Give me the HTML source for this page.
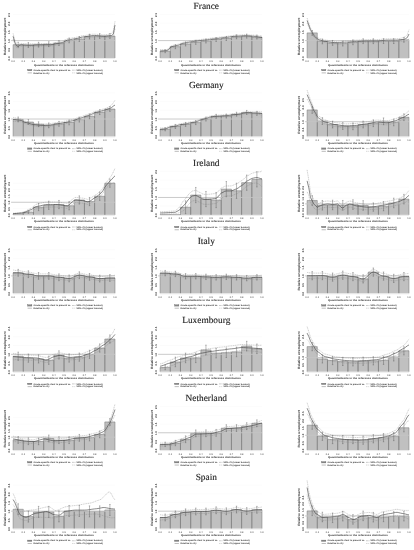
<!DOCTYPE html><html><head><meta charset="utf-8"><style>html,body{margin:0;padding:0;background:#fff;width:414px;height:550px;overflow:hidden}svg{display:block;filter:grayscale(1)}text{font-family:"Liberation Sans",sans-serif;text-rendering:geometricPrecision}.h{font-family:"Liberation Serif",serif}</style></head><body>
<svg width="414" height="550" viewBox="0 0 414 550">
<text class="h" x="206.3" y="9" font-size="9.35" text-anchor="middle" fill="#1a1a1a" stroke="#1a1a1a" stroke-width="0.12">France</text>
<line x1="13.1" y1="49.3" x2="115" y2="49.3" stroke="#f2f2f2" stroke-width="0.45" stroke-dasharray="0.6 0.4"/>
<line x1="13.1" y1="31.9" x2="115" y2="31.9" stroke="#f2f2f2" stroke-width="0.45" stroke-dasharray="0.6 0.4"/>
<line x1="13.1" y1="23.2" x2="115" y2="23.2" stroke="#f2f2f2" stroke-width="0.45" stroke-dasharray="0.6 0.4"/>
<line x1="13.1" y1="14.5" x2="115" y2="14.5" stroke="#f2f2f2" stroke-width="0.45" stroke-dasharray="0.6 0.4"/>
<rect x="13.1" y="44.7" width="10.19" height="13.3" fill="#c0c0c0"/>
<rect x="23.29" y="45" width="10.19" height="13" fill="#c0c0c0"/>
<rect x="33.48" y="44.7" width="10.19" height="13.3" fill="#c0c0c0"/>
<rect x="43.67" y="44.2" width="10.19" height="13.8" fill="#c0c0c0"/>
<rect x="53.86" y="43.1" width="10.19" height="14.9" fill="#c0c0c0"/>
<rect x="64.05" y="40.4" width="10.19" height="17.6" fill="#c0c0c0"/>
<rect x="74.24" y="39" width="10.19" height="19" fill="#c0c0c0"/>
<rect x="84.43" y="36.6" width="10.19" height="21.4" fill="#c0c0c0"/>
<rect x="94.62" y="36" width="10.19" height="22" fill="#c0c0c0"/>
<rect x="104.81" y="36" width="10.19" height="22" fill="#c0c0c0"/>
<path d="M13.1,58V44.7H23.29V58" fill="none" stroke="#666" stroke-width="0.45"/>
<path d="M23.29,58V45H33.48V58" fill="none" stroke="#666" stroke-width="0.45"/>
<path d="M33.48,58V44.7H43.67V58" fill="none" stroke="#666" stroke-width="0.45"/>
<path d="M43.67,58V44.2H53.86V58" fill="none" stroke="#666" stroke-width="0.45"/>
<path d="M53.86,58V43.1H64.05V58" fill="none" stroke="#666" stroke-width="0.45"/>
<path d="M64.05,58V40.4H74.24V58" fill="none" stroke="#666" stroke-width="0.45"/>
<path d="M74.24,58V39H84.43V58" fill="none" stroke="#666" stroke-width="0.45"/>
<path d="M84.43,58V36.6H94.62V58" fill="none" stroke="#666" stroke-width="0.45"/>
<path d="M94.62,58V36H104.81V58" fill="none" stroke="#666" stroke-width="0.45"/>
<path d="M104.81,58V36H115V58" fill="none" stroke="#666" stroke-width="0.45"/>
<line x1="13.1" y1="58.5" x2="115" y2="58.5" stroke="#ddd" stroke-width="0.6"/>
<line x1="11.1" y1="40.6" x2="115" y2="40.6" stroke="#c4c4c4" stroke-width="0.9"/>
<polyline points="13.1,33.4 14.8,40.21 16.5,43.94 18.2,44.83 19.89,43.61 21.59,43.44 23.29,43.55 24.99,43.66 26.69,43.76 28.38,43.84 30.08,43.89 31.78,43.85 33.48,43.77 35.18,43.69 36.88,43.61 38.57,43.54 40.27,43.5 41.97,43.5 43.67,43.5 45.37,43.5 47.07,43.5 48.77,43.5 50.46,43.5 52.16,43.41 53.86,42.81 55.56,42.57 57.26,42.27 58.95,41.91 60.65,41.59 62.35,41.36 64.05,40.58 65.75,39.52 67.45,38.8 69.14,38.58 70.84,38.24 72.54,37.89 74.24,37.6 75.94,37.39 77.64,37.01 79.33,36.52 81.03,36.06 82.73,35.73 84.43,35.56 86.13,35.3 87.83,34.98 89.52,34.65 91.22,34.36 92.92,34.15 94.62,34.15 96.32,34.27 98.02,34.42 99.71,34.58 101.41,34.72 103.11,34.81 104.81,34.76 106.51,34.56 108.21,34.28 109.9,33.9 111.6,33.42 113.3,31.34 115,21.2" fill="none" stroke="#888" stroke-width="0.4" stroke-dasharray="1.2 0.6"/>
<polyline points="13.1,39 14.8,44.53 16.5,47.52 18.2,47.99 19.89,46.54 21.59,46.22 23.29,46.25 24.99,46.32 26.69,46.39 28.38,46.46 30.08,46.5 31.78,46.45 33.48,46.38 35.18,46.29 36.88,46.21 38.57,46.14 40.27,46.1 41.97,46.1 43.67,46.1 45.37,46.1 47.07,46.1 48.77,46.1 50.46,46.1 52.16,46.01 53.86,45.41 55.56,45.17 57.26,44.87 58.95,44.51 60.65,44.19 62.35,43.96 64.05,43.18 65.75,42.12 67.45,41.4 69.14,41.18 70.84,40.84 72.54,40.49 74.24,40.2 75.94,39.99 77.64,39.61 79.33,39.12 81.03,38.66 82.73,38.33 84.43,38.16 86.13,37.9 87.83,37.58 89.52,37.25 91.22,36.96 92.92,36.75 94.62,36.76 96.32,36.88 98.02,37.04 99.71,37.22 101.41,37.38 103.11,37.52 104.81,37.54 106.51,37.47 108.21,37.42 109.9,37.45 111.6,37.67 113.3,36.81 115,28.8" fill="none" stroke="#888" stroke-width="0.4" stroke-dasharray="1.2 0.6"/>
<polyline points="13.1,36.2 14.8,42.37 16.5,45.73 18.2,46.41 19.89,45.07 21.59,44.83 23.29,44.9 24.99,44.99 26.69,45.08 28.38,45.15 30.08,45.2 31.78,45.15 33.48,45.08 35.18,44.99 36.88,44.91 38.57,44.84 40.27,44.8 41.97,44.8 43.67,44.8 45.37,44.8 47.07,44.8 48.77,44.8 50.46,44.8 52.16,44.71 53.86,44.11 55.56,43.87 57.26,43.57 58.95,43.21 60.65,42.89 62.35,42.66 64.05,41.88 65.75,40.82 67.45,40.1 69.14,39.88 70.84,39.54 72.54,39.19 74.24,38.9 75.94,38.69 77.64,38.31 79.33,37.82 81.03,37.36 82.73,37.03 84.43,36.86 86.13,36.6 87.83,36.28 89.52,35.95 91.22,35.66 92.92,35.45 94.62,35.45 96.32,35.58 98.02,35.73 99.71,35.9 101.41,36.05 103.11,36.16 104.81,36.15 106.51,36.02 108.21,35.85 109.9,35.68 111.6,35.54 113.3,34.07 115,25" fill="none" stroke="#3a3a3a" stroke-width="0.6" stroke-linejoin="round"/>
<path d="M18.2,42.28V47.12M17.5,42.28H18.89M17.5,47.12H18.89" fill="none" stroke="#555" stroke-width="0.4"/>
<path d="M28.38,42.58V47.42M27.68,42.58H29.08M27.68,47.42H29.08" fill="none" stroke="#555" stroke-width="0.4"/>
<path d="M38.57,42.28V47.12M37.87,42.28H39.27M37.87,47.12H39.27" fill="none" stroke="#555" stroke-width="0.4"/>
<path d="M48.77,41.78V46.62M48.06,41.78H49.47M48.06,46.62H49.47" fill="none" stroke="#555" stroke-width="0.4"/>
<path d="M58.95,40.68V45.52M58.25,40.68H59.66M58.25,45.52H59.66" fill="none" stroke="#555" stroke-width="0.4"/>
<path d="M69.14,37.98V42.82M68.44,37.98H69.84M68.44,42.82H69.84" fill="none" stroke="#555" stroke-width="0.4"/>
<path d="M79.33,36.58V41.42M78.63,36.58H80.03M78.63,41.42H80.03" fill="none" stroke="#555" stroke-width="0.4"/>
<path d="M89.52,34.18V39.02M88.82,34.18H90.22M88.82,39.02H90.22" fill="none" stroke="#555" stroke-width="0.4"/>
<path d="M99.71,33.58V38.42M99.01,33.58H100.41M99.01,38.42H100.41" fill="none" stroke="#555" stroke-width="0.4"/>
<path d="M109.9,33.58V38.42M109.2,33.58H110.6M109.2,38.42H110.6" fill="none" stroke="#555" stroke-width="0.4"/>
<text transform="translate(10.1,58.5) rotate(-90)" font-size="2.8" font-weight="bold" text-anchor="middle" fill="#333">0.0</text>
<text transform="translate(10.1,49.8) rotate(-90)" font-size="2.8" font-weight="bold" text-anchor="middle" fill="#333">0.5</text>
<text transform="translate(10.1,41.1) rotate(-90)" font-size="2.8" font-weight="bold" text-anchor="middle" fill="#333">1.0</text>
<text transform="translate(10.1,32.4) rotate(-90)" font-size="2.8" font-weight="bold" text-anchor="middle" fill="#333">1.5</text>
<text transform="translate(10.1,23.7) rotate(-90)" font-size="2.8" font-weight="bold" text-anchor="middle" fill="#333">2.0</text>
<text transform="translate(10.1,15) rotate(-90)" font-size="2.8" font-weight="bold" text-anchor="middle" fill="#333">2.5</text>
<text transform="translate(6.2,36.5) rotate(-90)" font-size="3.2" font-weight="bold" text-anchor="middle" fill="#333" textLength="37.5" lengthAdjust="spacingAndGlyphs">Relative unemployment</text>
<text x="13.1" y="62.4" font-size="2.5" text-anchor="middle" fill="#444">0.0</text>
<text x="23.29" y="62.4" font-size="2.5" text-anchor="middle" fill="#444">0.1</text>
<text x="33.48" y="62.4" font-size="2.5" text-anchor="middle" fill="#444">0.2</text>
<text x="43.67" y="62.4" font-size="2.5" text-anchor="middle" fill="#444">0.3</text>
<text x="53.86" y="62.4" font-size="2.5" text-anchor="middle" fill="#444">0.4</text>
<text x="64.05" y="62.4" font-size="2.5" text-anchor="middle" fill="#444">0.5</text>
<text x="74.24" y="62.4" font-size="2.5" text-anchor="middle" fill="#444">0.6</text>
<text x="84.43" y="62.4" font-size="2.5" text-anchor="middle" fill="#444">0.7</text>
<text x="94.62" y="62.4" font-size="2.5" text-anchor="middle" fill="#444">0.8</text>
<text x="104.81" y="62.4" font-size="2.5" text-anchor="middle" fill="#444">0.9</text>
<text x="115" y="62.4" font-size="2.5" text-anchor="middle" fill="#444">1.0</text>
<text x="33.9" y="65.55" font-size="2.5" font-weight="bold" fill="#333" textLength="60" lengthAdjust="spacingAndGlyphs">Quantile/decile in the reference distribution</text>
<rect x="27.6" y="69.5" width="4.3" height="1.3" fill="#888" stroke="#555" stroke-width="0.3"/>
<text x="33.5" y="70.8" font-size="2.2" font-weight="bold" fill="#333" textLength="37.5" lengthAdjust="spacingAndGlyphs">Grade-specific rtest in present vs.</text>
<line x1="27.6" y1="72.9" x2="31.9" y2="72.9" stroke="#555" stroke-width="0.4"/>
<text x="33.5" y="73.5" font-size="2.2" font-weight="bold" fill="#333" textLength="16" lengthAdjust="spacingAndGlyphs">Relative to city</text>
<line x1="72" y1="70.2" x2="75.5" y2="70.2" stroke="#555" stroke-width="0.4" stroke-dasharray="0.8 0.5"/>
<text x="76.5" y="70.8" font-size="2.2" font-weight="bold" fill="#333" textLength="26" lengthAdjust="spacingAndGlyphs">95% CI (lower bound)</text>
<line x1="72" y1="72.9" x2="75.5" y2="72.9" stroke="#555" stroke-width="0.4" stroke-dasharray="0.3 0.4"/>
<text x="76.5" y="73.5" font-size="2.2" font-weight="bold" fill="#333" textLength="26.5" lengthAdjust="spacingAndGlyphs">95% CI (upper bound)</text>
<line x1="160.1" y1="49.3" x2="262" y2="49.3" stroke="#f2f2f2" stroke-width="0.45" stroke-dasharray="0.6 0.4"/>
<line x1="160.1" y1="31.9" x2="262" y2="31.9" stroke="#f2f2f2" stroke-width="0.45" stroke-dasharray="0.6 0.4"/>
<line x1="160.1" y1="23.2" x2="262" y2="23.2" stroke="#f2f2f2" stroke-width="0.45" stroke-dasharray="0.6 0.4"/>
<line x1="160.1" y1="14.5" x2="262" y2="14.5" stroke="#f2f2f2" stroke-width="0.45" stroke-dasharray="0.6 0.4"/>
<rect x="160.1" y="51.2" width="10.19" height="6.8" fill="#c0c0c0"/>
<rect x="170.29" y="46.7" width="10.19" height="11.3" fill="#c0c0c0"/>
<rect x="180.48" y="44" width="10.19" height="14" fill="#c0c0c0"/>
<rect x="190.67" y="42.3" width="10.19" height="15.7" fill="#c0c0c0"/>
<rect x="200.86" y="41" width="10.19" height="17" fill="#c0c0c0"/>
<rect x="211.05" y="39.5" width="10.19" height="18.5" fill="#c0c0c0"/>
<rect x="221.24" y="38.5" width="10.19" height="19.5" fill="#c0c0c0"/>
<rect x="231.43" y="36.8" width="10.19" height="21.2" fill="#c0c0c0"/>
<rect x="241.62" y="36.1" width="10.19" height="21.9" fill="#c0c0c0"/>
<rect x="251.81" y="37" width="10.19" height="21" fill="#c0c0c0"/>
<path d="M160.1,58V51.2H170.29V58" fill="none" stroke="#666" stroke-width="0.45"/>
<path d="M170.29,58V46.7H180.48V58" fill="none" stroke="#666" stroke-width="0.45"/>
<path d="M180.48,58V44H190.67V58" fill="none" stroke="#666" stroke-width="0.45"/>
<path d="M190.67,58V42.3H200.86V58" fill="none" stroke="#666" stroke-width="0.45"/>
<path d="M200.86,58V41H211.05V58" fill="none" stroke="#666" stroke-width="0.45"/>
<path d="M211.05,58V39.5H221.24V58" fill="none" stroke="#666" stroke-width="0.45"/>
<path d="M221.24,58V38.5H231.43V58" fill="none" stroke="#666" stroke-width="0.45"/>
<path d="M231.43,58V36.8H241.62V58" fill="none" stroke="#666" stroke-width="0.45"/>
<path d="M241.62,58V36.1H251.81V58" fill="none" stroke="#666" stroke-width="0.45"/>
<path d="M251.81,58V37H262V58" fill="none" stroke="#666" stroke-width="0.45"/>
<line x1="160.1" y1="58.5" x2="262" y2="58.5" stroke="#ddd" stroke-width="0.6"/>
<line x1="158.1" y1="40.6" x2="262" y2="40.6" stroke="#c4c4c4" stroke-width="0.9"/>
<polyline points="160.1,49.6 161.8,49.76 163.5,49.76 165.19,49.69 166.89,49.62 168.59,48.57 170.29,46.48 171.99,45.51 173.69,45.2 175.38,44.78 177.08,44.42 178.78,44.09 180.48,43.33 182.18,42.51 183.88,42.14 185.57,41.89 187.27,41.55 188.97,41.18 190.67,40.82 192.37,40.54 194.07,40.37 195.76,40.2 197.46,39.97 199.16,39.7 200.86,39.44 202.56,39.23 204.26,39.09 205.95,38.94 207.65,38.71 209.35,38.44 211.05,38.18 212.75,37.96 214.45,37.8 216.14,37.66 217.84,37.44 219.54,37.18 221.24,36.91 222.94,36.68 224.64,36.52 226.33,36.38 228.03,36.17 229.73,35.92 231.43,35.65 233.13,35.41 234.83,35.24 236.52,35.17 238.22,35.09 239.92,34.99 241.62,34.89 243.32,34.79 245.02,34.72 246.71,34.73 248.41,34.84 250.11,34.97 251.81,35.08 253.51,35.15 255.21,35.29 256.9,35.52 258.6,35.74 260.3,35.84 262,35.7" fill="none" stroke="#888" stroke-width="0.4" stroke-dasharray="1.2 0.6"/>
<polyline points="160.1,52.4 161.8,52.06 163.5,51.79 165.19,51.57 166.89,51.42 168.59,50.54 170.29,48.54 171.99,47.55 173.69,47.21 175.38,46.79 177.08,46.43 178.78,46.1 180.48,45.33 182.18,44.52 183.88,44.14 185.57,43.89 187.27,43.55 188.97,43.18 190.67,42.82 192.37,42.54 194.07,42.37 195.76,42.2 197.46,41.97 199.16,41.7 200.86,41.44 202.56,41.23 204.26,41.09 205.95,40.94 207.65,40.71 209.35,40.44 211.05,40.18 212.75,39.96 214.45,39.8 216.14,39.66 217.84,39.44 219.54,39.18 221.24,38.91 222.94,38.68 224.64,38.52 226.33,38.38 228.03,38.17 229.73,37.92 231.43,37.65 233.13,37.41 234.83,37.24 236.52,37.17 238.22,37.09 239.92,36.99 241.62,36.89 243.32,36.79 245.02,36.73 246.71,36.74 248.41,36.86 250.11,37 251.81,37.14 253.51,37.25 255.21,37.46 256.9,37.82 258.6,38.27 260.3,38.76 262,39.3" fill="none" stroke="#888" stroke-width="0.4" stroke-dasharray="1.2 0.6"/>
<polyline points="160.1,51 161.8,50.91 163.5,50.77 165.19,50.63 166.89,50.52 168.59,49.55 170.29,47.51 171.99,46.53 173.69,46.21 175.38,45.78 177.08,45.43 178.78,45.1 180.48,44.33 182.18,43.52 183.88,43.14 185.57,42.89 187.27,42.55 188.97,42.18 190.67,41.82 192.37,41.54 194.07,41.37 195.76,41.2 197.46,40.97 199.16,40.7 200.86,40.44 202.56,40.23 204.26,40.09 205.95,39.94 207.65,39.71 209.35,39.44 211.05,39.18 212.75,38.96 214.45,38.8 216.14,38.66 217.84,38.44 219.54,38.18 221.24,37.91 222.94,37.68 224.64,37.52 226.33,37.38 228.03,37.17 229.73,36.92 231.43,36.65 233.13,36.41 234.83,36.24 236.52,36.17 238.22,36.09 239.92,35.99 241.62,35.89 243.32,35.79 245.02,35.72 246.71,35.74 248.41,35.85 250.11,35.98 251.81,36.11 253.51,36.2 255.21,36.38 256.9,36.67 258.6,37 260.3,37.3 262,37.5" fill="none" stroke="#3a3a3a" stroke-width="0.6" stroke-linejoin="round"/>
<path d="M165.19,49.69V52.71M164.5,49.69H165.89M164.5,52.71H165.89" fill="none" stroke="#555" stroke-width="0.4"/>
<path d="M175.38,44.7V48.7M174.69,44.7H176.08M174.69,48.7H176.08" fill="none" stroke="#555" stroke-width="0.4"/>
<path d="M185.57,42V46M184.88,42H186.27M184.88,46H186.27" fill="none" stroke="#555" stroke-width="0.4"/>
<path d="M195.76,40.3V44.3M195.06,40.3H196.46M195.06,44.3H196.46" fill="none" stroke="#555" stroke-width="0.4"/>
<path d="M205.95,39V43M205.25,39H206.65M205.25,43H206.65" fill="none" stroke="#555" stroke-width="0.4"/>
<path d="M216.14,37.5V41.5M215.44,37.5H216.84M215.44,41.5H216.84" fill="none" stroke="#555" stroke-width="0.4"/>
<path d="M226.33,36.5V40.5M225.63,36.5H227.03M225.63,40.5H227.03" fill="none" stroke="#555" stroke-width="0.4"/>
<path d="M236.52,34.8V38.8M235.82,34.8H237.22M235.82,38.8H237.22" fill="none" stroke="#555" stroke-width="0.4"/>
<path d="M246.71,34.1V38.1M246.01,34.1H247.41M246.01,38.1H247.41" fill="none" stroke="#555" stroke-width="0.4"/>
<path d="M256.9,35V39M256.2,35H257.6M256.2,39H257.6" fill="none" stroke="#555" stroke-width="0.4"/>
<text transform="translate(157.1,58.5) rotate(-90)" font-size="2.8" font-weight="bold" text-anchor="middle" fill="#333">0.0</text>
<text transform="translate(157.1,49.8) rotate(-90)" font-size="2.8" font-weight="bold" text-anchor="middle" fill="#333">0.5</text>
<text transform="translate(157.1,41.1) rotate(-90)" font-size="2.8" font-weight="bold" text-anchor="middle" fill="#333">1.0</text>
<text transform="translate(157.1,32.4) rotate(-90)" font-size="2.8" font-weight="bold" text-anchor="middle" fill="#333">1.5</text>
<text transform="translate(157.1,23.7) rotate(-90)" font-size="2.8" font-weight="bold" text-anchor="middle" fill="#333">2.0</text>
<text transform="translate(157.1,15) rotate(-90)" font-size="2.8" font-weight="bold" text-anchor="middle" fill="#333">2.5</text>
<text transform="translate(153.2,36.5) rotate(-90)" font-size="3.2" font-weight="bold" text-anchor="middle" fill="#333" textLength="37.5" lengthAdjust="spacingAndGlyphs">Relative unemployment</text>
<text x="160.1" y="62.4" font-size="2.5" text-anchor="middle" fill="#444">0.0</text>
<text x="170.29" y="62.4" font-size="2.5" text-anchor="middle" fill="#444">0.1</text>
<text x="180.48" y="62.4" font-size="2.5" text-anchor="middle" fill="#444">0.2</text>
<text x="190.67" y="62.4" font-size="2.5" text-anchor="middle" fill="#444">0.3</text>
<text x="200.86" y="62.4" font-size="2.5" text-anchor="middle" fill="#444">0.4</text>
<text x="211.05" y="62.4" font-size="2.5" text-anchor="middle" fill="#444">0.5</text>
<text x="221.24" y="62.4" font-size="2.5" text-anchor="middle" fill="#444">0.6</text>
<text x="231.43" y="62.4" font-size="2.5" text-anchor="middle" fill="#444">0.7</text>
<text x="241.62" y="62.4" font-size="2.5" text-anchor="middle" fill="#444">0.8</text>
<text x="251.81" y="62.4" font-size="2.5" text-anchor="middle" fill="#444">0.9</text>
<text x="262" y="62.4" font-size="2.5" text-anchor="middle" fill="#444">1.0</text>
<text x="180.9" y="65.55" font-size="2.5" font-weight="bold" fill="#333" textLength="60" lengthAdjust="spacingAndGlyphs">Quantile/decile in the reference distribution</text>
<rect x="174.6" y="69.5" width="4.3" height="1.3" fill="#888" stroke="#555" stroke-width="0.3"/>
<text x="180.5" y="70.8" font-size="2.2" font-weight="bold" fill="#333" textLength="37.5" lengthAdjust="spacingAndGlyphs">Grade-specific rtest in present vs.</text>
<line x1="174.6" y1="72.9" x2="178.9" y2="72.9" stroke="#555" stroke-width="0.4"/>
<text x="180.5" y="73.5" font-size="2.2" font-weight="bold" fill="#333" textLength="16" lengthAdjust="spacingAndGlyphs">Relative to city</text>
<line x1="219" y1="70.2" x2="222.5" y2="70.2" stroke="#555" stroke-width="0.4" stroke-dasharray="0.8 0.5"/>
<text x="223.5" y="70.8" font-size="2.2" font-weight="bold" fill="#333" textLength="26" lengthAdjust="spacingAndGlyphs">95% CI (lower bound)</text>
<line x1="219" y1="72.9" x2="222.5" y2="72.9" stroke="#555" stroke-width="0.4" stroke-dasharray="0.3 0.4"/>
<text x="223.5" y="73.5" font-size="2.2" font-weight="bold" fill="#333" textLength="26.5" lengthAdjust="spacingAndGlyphs">95% CI (upper bound)</text>
<line x1="307.1" y1="49.3" x2="409" y2="49.3" stroke="#f2f2f2" stroke-width="0.45" stroke-dasharray="0.6 0.4"/>
<line x1="307.1" y1="31.9" x2="409" y2="31.9" stroke="#f2f2f2" stroke-width="0.45" stroke-dasharray="0.6 0.4"/>
<line x1="307.1" y1="23.2" x2="409" y2="23.2" stroke="#f2f2f2" stroke-width="0.45" stroke-dasharray="0.6 0.4"/>
<line x1="307.1" y1="14.5" x2="409" y2="14.5" stroke="#f2f2f2" stroke-width="0.45" stroke-dasharray="0.6 0.4"/>
<rect x="307.1" y="32.9" width="10.19" height="25.1" fill="#c0c0c0"/>
<rect x="317.29" y="41.4" width="10.19" height="16.6" fill="#c0c0c0"/>
<rect x="327.48" y="42.9" width="10.19" height="15.1" fill="#c0c0c0"/>
<rect x="337.67" y="43.6" width="10.19" height="14.4" fill="#c0c0c0"/>
<rect x="347.86" y="42.3" width="10.19" height="15.7" fill="#c0c0c0"/>
<rect x="358.05" y="41.2" width="10.19" height="16.8" fill="#c0c0c0"/>
<rect x="368.24" y="41.2" width="10.19" height="16.8" fill="#c0c0c0"/>
<rect x="378.43" y="41.1" width="10.19" height="16.9" fill="#c0c0c0"/>
<rect x="388.62" y="41.1" width="10.19" height="16.9" fill="#c0c0c0"/>
<rect x="398.81" y="39.8" width="10.19" height="18.2" fill="#c0c0c0"/>
<path d="M307.1,58V32.9H317.29V58" fill="none" stroke="#666" stroke-width="0.45"/>
<path d="M317.29,58V41.4H327.48V58" fill="none" stroke="#666" stroke-width="0.45"/>
<path d="M327.48,58V42.9H337.67V58" fill="none" stroke="#666" stroke-width="0.45"/>
<path d="M337.67,58V43.6H347.86V58" fill="none" stroke="#666" stroke-width="0.45"/>
<path d="M347.86,58V42.3H358.05V58" fill="none" stroke="#666" stroke-width="0.45"/>
<path d="M358.05,58V41.2H368.24V58" fill="none" stroke="#666" stroke-width="0.45"/>
<path d="M368.24,58V41.2H378.43V58" fill="none" stroke="#666" stroke-width="0.45"/>
<path d="M378.43,58V41.1H388.62V58" fill="none" stroke="#666" stroke-width="0.45"/>
<path d="M388.62,58V41.1H398.81V58" fill="none" stroke="#666" stroke-width="0.45"/>
<path d="M398.81,58V39.8H409V58" fill="none" stroke="#666" stroke-width="0.45"/>
<line x1="307.1" y1="58.5" x2="409" y2="58.5" stroke="#ddd" stroke-width="0.6"/>
<line x1="305.1" y1="40.6" x2="409" y2="40.6" stroke="#c4c4c4" stroke-width="0.9"/>
<polyline points="307.1,18 308.8,23.17 310.5,28.03 312.2,30.89 313.89,34.18 315.59,35.68 317.29,37.54 318.99,38.39 320.69,38.87 322.39,39.46 324.08,39.94 325.78,40.16 327.48,40.35 329.18,40.6 330.88,40.87 332.58,41.12 334.27,41.32 335.97,41.38 337.67,41.31 339.37,41.22 341.07,41.12 342.77,41.02 344.46,40.94 346.16,40.88 347.86,40.78 349.56,40.64 351.26,40.47 352.96,40.31 354.65,40.18 356.35,40.1 358.05,40.04 359.75,39.95 361.45,39.85 363.15,39.75 364.84,39.66 366.54,39.6 368.24,39.6 369.94,39.6 371.64,39.6 373.34,39.6 375.03,39.6 376.73,39.6 378.43,39.53 380.13,39.4 381.83,39.24 383.53,39.08 385.22,38.93 386.92,38.82 388.62,38.8 390.32,38.79 392.02,38.79 393.72,38.78 395.41,38.76 397.11,38.74 398.81,38.62 400.51,38.31 402.21,37.91 403.91,37.47 405.6,36.37 407.3,34.54 409,29.7" fill="none" stroke="#888" stroke-width="0.4" stroke-dasharray="1.2 0.6"/>
<polyline points="307.1,23 308.8,27.15 310.5,31.42 312.2,33.94 313.89,37.04 315.59,38.43 317.29,40.22 318.99,41.04 320.69,41.49 322.39,42.07 324.08,42.55 325.78,42.77 327.48,42.95 329.18,43.2 330.88,43.47 332.58,43.72 334.27,43.92 335.97,43.98 337.67,43.91 339.37,43.82 341.07,43.72 342.77,43.62 344.46,43.54 346.16,43.48 347.86,43.38 349.56,43.24 351.26,43.07 352.96,42.91 354.65,42.78 356.35,42.7 358.05,42.64 359.75,42.55 361.45,42.45 363.15,42.35 364.84,42.26 366.54,42.2 368.24,42.2 369.94,42.2 371.64,42.2 373.34,42.2 375.03,42.2 376.73,42.2 378.43,42.13 380.13,42 381.83,41.84 383.53,41.68 385.22,41.53 386.92,41.43 388.62,41.4 390.32,41.41 392.02,41.41 393.72,41.42 395.41,41.44 397.11,41.46 398.81,41.43 400.51,41.29 402.21,41.16 403.91,41.2 405.6,40.94 407.3,40.58 409,38.3" fill="none" stroke="#888" stroke-width="0.4" stroke-dasharray="1.2 0.6"/>
<polyline points="307.1,20.5 308.8,25.16 310.5,29.73 312.2,32.42 313.89,35.61 315.59,37.05 317.29,38.88 318.99,39.72 320.69,40.18 322.39,40.76 324.08,41.25 325.78,41.46 327.48,41.65 329.18,41.9 330.88,42.17 332.58,42.42 334.27,42.62 335.97,42.68 337.67,42.61 339.37,42.52 341.07,42.42 342.77,42.32 344.46,42.24 346.16,42.18 347.86,42.08 349.56,41.94 351.26,41.77 352.96,41.61 354.65,41.48 356.35,41.4 358.05,41.34 359.75,41.25 361.45,41.15 363.15,41.05 364.84,40.96 366.54,40.9 368.24,40.9 369.94,40.9 371.64,40.9 373.34,40.9 375.03,40.9 376.73,40.9 378.43,40.83 380.13,40.7 381.83,40.54 383.53,40.38 385.22,40.23 386.92,40.12 388.62,40.1 390.32,40.1 392.02,40.1 393.72,40.1 395.41,40.1 397.11,40.1 398.81,40.02 400.51,39.8 402.21,39.54 403.91,39.34 405.6,38.65 407.3,37.56 409,34" fill="none" stroke="#3a3a3a" stroke-width="0.6" stroke-linejoin="round"/>
<path d="M312.2,30.48V35.32M311.5,30.48H312.9M311.5,35.32H312.9" fill="none" stroke="#555" stroke-width="0.4"/>
<path d="M322.39,38.98V43.82M321.69,38.98H323.09M321.69,43.82H323.09" fill="none" stroke="#555" stroke-width="0.4"/>
<path d="M332.58,40.48V45.32M331.88,40.48H333.28M331.88,45.32H333.28" fill="none" stroke="#555" stroke-width="0.4"/>
<path d="M342.77,41.18V46.02M342.07,41.18H343.47M342.07,46.02H343.47" fill="none" stroke="#555" stroke-width="0.4"/>
<path d="M352.96,39.88V44.72M352.26,39.88H353.66M352.26,44.72H353.66" fill="none" stroke="#555" stroke-width="0.4"/>
<path d="M363.15,38.78V43.62M362.45,38.78H363.85M362.45,43.62H363.85" fill="none" stroke="#555" stroke-width="0.4"/>
<path d="M373.34,38.78V43.62M372.64,38.78H374.04M372.64,43.62H374.04" fill="none" stroke="#555" stroke-width="0.4"/>
<path d="M383.53,38.68V43.52M382.83,38.68H384.23M382.83,43.52H384.23" fill="none" stroke="#555" stroke-width="0.4"/>
<path d="M393.72,38.68V43.52M393.02,38.68H394.42M393.02,43.52H394.42" fill="none" stroke="#555" stroke-width="0.4"/>
<path d="M403.91,37.38V42.22M403.21,37.38H404.61M403.21,42.22H404.61" fill="none" stroke="#555" stroke-width="0.4"/>
<text transform="translate(304.1,58.5) rotate(-90)" font-size="2.8" font-weight="bold" text-anchor="middle" fill="#333">0.0</text>
<text transform="translate(304.1,49.8) rotate(-90)" font-size="2.8" font-weight="bold" text-anchor="middle" fill="#333">0.5</text>
<text transform="translate(304.1,41.1) rotate(-90)" font-size="2.8" font-weight="bold" text-anchor="middle" fill="#333">1.0</text>
<text transform="translate(304.1,32.4) rotate(-90)" font-size="2.8" font-weight="bold" text-anchor="middle" fill="#333">1.5</text>
<text transform="translate(304.1,23.7) rotate(-90)" font-size="2.8" font-weight="bold" text-anchor="middle" fill="#333">2.0</text>
<text transform="translate(304.1,15) rotate(-90)" font-size="2.8" font-weight="bold" text-anchor="middle" fill="#333">2.5</text>
<text transform="translate(300.2,36.5) rotate(-90)" font-size="3.2" font-weight="bold" text-anchor="middle" fill="#333" textLength="37.5" lengthAdjust="spacingAndGlyphs">Relative unemployment</text>
<text x="307.1" y="62.4" font-size="2.5" text-anchor="middle" fill="#444">0.0</text>
<text x="317.29" y="62.4" font-size="2.5" text-anchor="middle" fill="#444">0.1</text>
<text x="327.48" y="62.4" font-size="2.5" text-anchor="middle" fill="#444">0.2</text>
<text x="337.67" y="62.4" font-size="2.5" text-anchor="middle" fill="#444">0.3</text>
<text x="347.86" y="62.4" font-size="2.5" text-anchor="middle" fill="#444">0.4</text>
<text x="358.05" y="62.4" font-size="2.5" text-anchor="middle" fill="#444">0.5</text>
<text x="368.24" y="62.4" font-size="2.5" text-anchor="middle" fill="#444">0.6</text>
<text x="378.43" y="62.4" font-size="2.5" text-anchor="middle" fill="#444">0.7</text>
<text x="388.62" y="62.4" font-size="2.5" text-anchor="middle" fill="#444">0.8</text>
<text x="398.81" y="62.4" font-size="2.5" text-anchor="middle" fill="#444">0.9</text>
<text x="409" y="62.4" font-size="2.5" text-anchor="middle" fill="#444">1.0</text>
<text x="327.9" y="65.55" font-size="2.5" font-weight="bold" fill="#333" textLength="60" lengthAdjust="spacingAndGlyphs">Quantile/decile in the reference distribution</text>
<rect x="321.6" y="69.5" width="4.3" height="1.3" fill="#888" stroke="#555" stroke-width="0.3"/>
<text x="327.5" y="70.8" font-size="2.2" font-weight="bold" fill="#333" textLength="37.5" lengthAdjust="spacingAndGlyphs">Grade-specific rtest in present vs.</text>
<line x1="321.6" y1="72.9" x2="325.9" y2="72.9" stroke="#555" stroke-width="0.4"/>
<text x="327.5" y="73.5" font-size="2.2" font-weight="bold" fill="#333" textLength="16" lengthAdjust="spacingAndGlyphs">Relative to city</text>
<line x1="366" y1="70.2" x2="369.5" y2="70.2" stroke="#555" stroke-width="0.4" stroke-dasharray="0.8 0.5"/>
<text x="370.5" y="70.8" font-size="2.2" font-weight="bold" fill="#333" textLength="26" lengthAdjust="spacingAndGlyphs">95% CI (lower bound)</text>
<line x1="366" y1="72.9" x2="369.5" y2="72.9" stroke="#555" stroke-width="0.4" stroke-dasharray="0.3 0.4"/>
<text x="370.5" y="73.5" font-size="2.2" font-weight="bold" fill="#333" textLength="26.5" lengthAdjust="spacingAndGlyphs">95% CI (upper bound)</text>
<text class="h" x="206.3" y="87.7" font-size="9.35" text-anchor="middle" fill="#1a1a1a" stroke="#1a1a1a" stroke-width="0.12">Germany</text>
<line x1="13.1" y1="127.73" x2="115" y2="127.73" stroke="#f2f2f2" stroke-width="0.45" stroke-dasharray="0.6 0.4"/>
<line x1="13.1" y1="110.33" x2="115" y2="110.33" stroke="#f2f2f2" stroke-width="0.45" stroke-dasharray="0.6 0.4"/>
<line x1="13.1" y1="101.63" x2="115" y2="101.63" stroke="#f2f2f2" stroke-width="0.45" stroke-dasharray="0.6 0.4"/>
<line x1="13.1" y1="92.93" x2="115" y2="92.93" stroke="#f2f2f2" stroke-width="0.45" stroke-dasharray="0.6 0.4"/>
<rect x="13.1" y="119.43" width="10.19" height="17" fill="#c0c0c0"/>
<rect x="23.29" y="122.03" width="10.19" height="14.4" fill="#c0c0c0"/>
<rect x="33.48" y="124.23" width="10.19" height="12.2" fill="#c0c0c0"/>
<rect x="43.67" y="125.33" width="10.19" height="11.1" fill="#c0c0c0"/>
<rect x="53.86" y="123.83" width="10.19" height="12.6" fill="#c0c0c0"/>
<rect x="64.05" y="122.43" width="10.19" height="14" fill="#c0c0c0"/>
<rect x="74.24" y="119.63" width="10.19" height="16.8" fill="#c0c0c0"/>
<rect x="84.43" y="116.33" width="10.19" height="20.1" fill="#c0c0c0"/>
<rect x="94.62" y="112.13" width="10.19" height="24.3" fill="#c0c0c0"/>
<rect x="104.81" y="109.03" width="10.19" height="27.4" fill="#c0c0c0"/>
<path d="M13.1,136.43V119.43H23.29V136.43" fill="none" stroke="#666" stroke-width="0.45"/>
<path d="M23.29,136.43V122.03H33.48V136.43" fill="none" stroke="#666" stroke-width="0.45"/>
<path d="M33.48,136.43V124.23H43.67V136.43" fill="none" stroke="#666" stroke-width="0.45"/>
<path d="M43.67,136.43V125.33H53.86V136.43" fill="none" stroke="#666" stroke-width="0.45"/>
<path d="M53.86,136.43V123.83H64.05V136.43" fill="none" stroke="#666" stroke-width="0.45"/>
<path d="M64.05,136.43V122.43H74.24V136.43" fill="none" stroke="#666" stroke-width="0.45"/>
<path d="M74.24,136.43V119.63H84.43V136.43" fill="none" stroke="#666" stroke-width="0.45"/>
<path d="M84.43,136.43V116.33H94.62V136.43" fill="none" stroke="#666" stroke-width="0.45"/>
<path d="M94.62,136.43V112.13H104.81V136.43" fill="none" stroke="#666" stroke-width="0.45"/>
<path d="M104.81,136.43V109.03H115V136.43" fill="none" stroke="#666" stroke-width="0.45"/>
<line x1="13.1" y1="136.93" x2="115" y2="136.93" stroke="#ddd" stroke-width="0.6"/>
<line x1="11.1" y1="119.03" x2="115" y2="119.03" stroke="#c4c4c4" stroke-width="0.9"/>
<polyline points="13.1,117.33 14.8,117.81 16.5,118.23 18.2,118.57 19.89,118.81 21.59,119.26 23.29,120.17 24.99,121 26.69,121.39 28.38,121.86 30.08,122.44 31.78,122.98 33.48,123.33 35.18,123.46 36.88,123.66 38.57,123.88 40.27,124.06 41.97,124.11 43.67,124.05 45.37,123.97 47.07,123.89 48.77,123.84 50.46,123.67 52.16,123.36 53.86,123.01 55.56,122.7 57.26,122.51 58.95,122.27 60.65,121.93 62.35,121.58 64.05,121.3 65.75,121.08 67.45,120.69 69.14,120.2 70.84,119.74 72.54,119.44 74.24,119.02 75.94,118.36 77.64,117.64 79.33,117.06 81.03,116.7 82.73,116.17 84.43,115.49 86.13,114.81 87.83,114.32 89.52,113.89 91.22,113.16 92.92,112.3 94.62,111.54 96.32,111.08 98.02,110.7 99.71,110.14 101.41,109.56 103.11,109.09 104.81,108.71 106.51,108.03 108.21,107.18 109.9,106.37 111.6,105.11 113.3,102.8 115,100.23" fill="none" stroke="#888" stroke-width="0.4" stroke-dasharray="1.2 0.6"/>
<polyline points="13.1,121.53 14.8,121.33 16.5,121.36 18.2,121.47 19.89,121.58 21.59,121.96 23.29,122.82 24.99,123.63 26.69,124.01 28.38,124.47 30.08,125.05 31.78,125.58 33.48,125.93 35.18,126.06 36.88,126.26 38.57,126.48 40.27,126.66 41.97,126.72 43.67,126.65 45.37,126.57 47.07,126.49 48.77,126.44 50.46,126.27 52.16,125.96 53.86,125.61 55.56,125.3 57.26,125.11 58.95,124.87 60.65,124.53 62.35,124.18 64.05,123.9 65.75,123.68 67.45,123.29 69.14,122.8 70.84,122.34 72.54,122.04 74.24,121.62 75.94,120.96 77.64,120.24 79.33,119.66 81.03,119.3 82.73,118.77 84.43,118.09 86.13,117.41 87.83,116.92 89.52,116.49 91.22,115.76 92.92,114.9 94.62,114.15 96.32,113.7 98.02,113.32 99.71,112.79 101.41,112.24 103.11,111.83 104.81,111.56 106.51,111.06 108.21,110.53 109.9,110.29 111.6,110.02 113.3,109.41 115,109.83" fill="none" stroke="#888" stroke-width="0.4" stroke-dasharray="1.2 0.6"/>
<polyline points="13.1,119.43 14.8,119.57 16.5,119.79 18.2,120.02 19.89,120.19 21.59,120.61 23.29,121.49 24.99,122.31 26.69,122.7 28.38,123.16 30.08,123.75 31.78,124.28 33.48,124.63 35.18,124.76 36.88,124.96 38.57,125.18 40.27,125.36 41.97,125.41 43.67,125.35 45.37,125.27 47.07,125.19 48.77,125.14 50.46,124.97 52.16,124.66 53.86,124.31 55.56,124 57.26,123.81 58.95,123.57 60.65,123.23 62.35,122.88 64.05,122.6 65.75,122.38 67.45,121.99 69.14,121.5 70.84,121.04 72.54,120.74 74.24,120.32 75.94,119.66 77.64,118.94 79.33,118.36 81.03,118 82.73,117.47 84.43,116.79 86.13,116.11 87.83,115.62 89.52,115.19 91.22,114.46 92.92,113.6 94.62,112.84 96.32,112.39 98.02,112.01 99.71,111.47 101.41,110.9 103.11,110.46 104.81,110.13 106.51,109.54 108.21,108.86 109.9,108.33 111.6,107.56 113.3,106.11 115,105.03" fill="none" stroke="#3a3a3a" stroke-width="0.6" stroke-linejoin="round"/>
<path d="M18.2,117.01V121.85M17.5,117.01H18.89M17.5,121.85H18.89" fill="none" stroke="#555" stroke-width="0.4"/>
<path d="M28.38,119.61V124.45M27.68,119.61H29.08M27.68,124.45H29.08" fill="none" stroke="#555" stroke-width="0.4"/>
<path d="M38.57,121.81V126.65M37.87,121.81H39.27M37.87,126.65H39.27" fill="none" stroke="#555" stroke-width="0.4"/>
<path d="M48.77,122.91V127.75M48.06,122.91H49.47M48.06,127.75H49.47" fill="none" stroke="#555" stroke-width="0.4"/>
<path d="M58.95,121.41V126.25M58.25,121.41H59.66M58.25,126.25H59.66" fill="none" stroke="#555" stroke-width="0.4"/>
<path d="M69.14,120.01V124.85M68.44,120.01H69.84M68.44,124.85H69.84" fill="none" stroke="#555" stroke-width="0.4"/>
<path d="M79.33,117.21V122.05M78.63,117.21H80.03M78.63,122.05H80.03" fill="none" stroke="#555" stroke-width="0.4"/>
<path d="M89.52,113.91V118.75M88.82,113.91H90.22M88.82,118.75H90.22" fill="none" stroke="#555" stroke-width="0.4"/>
<path d="M99.71,109.71V114.55M99.01,109.71H100.41M99.01,114.55H100.41" fill="none" stroke="#555" stroke-width="0.4"/>
<path d="M109.9,106.61V111.45M109.2,106.61H110.6M109.2,111.45H110.6" fill="none" stroke="#555" stroke-width="0.4"/>
<text transform="translate(10.1,136.93) rotate(-90)" font-size="2.8" font-weight="bold" text-anchor="middle" fill="#333">0.0</text>
<text transform="translate(10.1,128.23) rotate(-90)" font-size="2.8" font-weight="bold" text-anchor="middle" fill="#333">0.5</text>
<text transform="translate(10.1,119.53) rotate(-90)" font-size="2.8" font-weight="bold" text-anchor="middle" fill="#333">1.0</text>
<text transform="translate(10.1,110.83) rotate(-90)" font-size="2.8" font-weight="bold" text-anchor="middle" fill="#333">1.5</text>
<text transform="translate(10.1,102.13) rotate(-90)" font-size="2.8" font-weight="bold" text-anchor="middle" fill="#333">2.0</text>
<text transform="translate(10.1,93.43) rotate(-90)" font-size="2.8" font-weight="bold" text-anchor="middle" fill="#333">2.5</text>
<text transform="translate(6.2,114.93) rotate(-90)" font-size="3.2" font-weight="bold" text-anchor="middle" fill="#333" textLength="37.5" lengthAdjust="spacingAndGlyphs">Relative unemployment</text>
<text x="13.1" y="140.83" font-size="2.5" text-anchor="middle" fill="#444">0.0</text>
<text x="23.29" y="140.83" font-size="2.5" text-anchor="middle" fill="#444">0.1</text>
<text x="33.48" y="140.83" font-size="2.5" text-anchor="middle" fill="#444">0.2</text>
<text x="43.67" y="140.83" font-size="2.5" text-anchor="middle" fill="#444">0.3</text>
<text x="53.86" y="140.83" font-size="2.5" text-anchor="middle" fill="#444">0.4</text>
<text x="64.05" y="140.83" font-size="2.5" text-anchor="middle" fill="#444">0.5</text>
<text x="74.24" y="140.83" font-size="2.5" text-anchor="middle" fill="#444">0.6</text>
<text x="84.43" y="140.83" font-size="2.5" text-anchor="middle" fill="#444">0.7</text>
<text x="94.62" y="140.83" font-size="2.5" text-anchor="middle" fill="#444">0.8</text>
<text x="104.81" y="140.83" font-size="2.5" text-anchor="middle" fill="#444">0.9</text>
<text x="115" y="140.83" font-size="2.5" text-anchor="middle" fill="#444">1.0</text>
<text x="33.9" y="143.98" font-size="2.5" font-weight="bold" fill="#333" textLength="60" lengthAdjust="spacingAndGlyphs">Quantile/decile in the reference distribution</text>
<rect x="27.6" y="147.93" width="4.3" height="1.3" fill="#888" stroke="#555" stroke-width="0.3"/>
<text x="33.5" y="149.23" font-size="2.2" font-weight="bold" fill="#333" textLength="37.5" lengthAdjust="spacingAndGlyphs">Grade-specific rtest in present vs.</text>
<line x1="27.6" y1="151.33" x2="31.9" y2="151.33" stroke="#555" stroke-width="0.4"/>
<text x="33.5" y="151.93" font-size="2.2" font-weight="bold" fill="#333" textLength="16" lengthAdjust="spacingAndGlyphs">Relative to city</text>
<line x1="72" y1="148.63" x2="75.5" y2="148.63" stroke="#555" stroke-width="0.4" stroke-dasharray="0.8 0.5"/>
<text x="76.5" y="149.23" font-size="2.2" font-weight="bold" fill="#333" textLength="26" lengthAdjust="spacingAndGlyphs">95% CI (lower bound)</text>
<line x1="72" y1="151.33" x2="75.5" y2="151.33" stroke="#555" stroke-width="0.4" stroke-dasharray="0.3 0.4"/>
<text x="76.5" y="151.93" font-size="2.2" font-weight="bold" fill="#333" textLength="26.5" lengthAdjust="spacingAndGlyphs">95% CI (upper bound)</text>
<line x1="160.1" y1="127.73" x2="262" y2="127.73" stroke="#f2f2f2" stroke-width="0.45" stroke-dasharray="0.6 0.4"/>
<line x1="160.1" y1="110.33" x2="262" y2="110.33" stroke="#f2f2f2" stroke-width="0.45" stroke-dasharray="0.6 0.4"/>
<line x1="160.1" y1="101.63" x2="262" y2="101.63" stroke="#f2f2f2" stroke-width="0.45" stroke-dasharray="0.6 0.4"/>
<line x1="160.1" y1="92.93" x2="262" y2="92.93" stroke="#f2f2f2" stroke-width="0.45" stroke-dasharray="0.6 0.4"/>
<rect x="160.1" y="129.23" width="10.19" height="7.2" fill="#c0c0c0"/>
<rect x="170.29" y="126.43" width="10.19" height="10" fill="#c0c0c0"/>
<rect x="180.48" y="124.43" width="10.19" height="12" fill="#c0c0c0"/>
<rect x="190.67" y="122.63" width="10.19" height="13.8" fill="#c0c0c0"/>
<rect x="200.86" y="119.03" width="10.19" height="17.4" fill="#c0c0c0"/>
<rect x="211.05" y="116.33" width="10.19" height="20.1" fill="#c0c0c0"/>
<rect x="221.24" y="116.03" width="10.19" height="20.4" fill="#c0c0c0"/>
<rect x="231.43" y="114.23" width="10.19" height="22.2" fill="#c0c0c0"/>
<rect x="241.62" y="112.43" width="10.19" height="24" fill="#c0c0c0"/>
<rect x="251.81" y="113.33" width="10.19" height="23.1" fill="#c0c0c0"/>
<path d="M160.1,136.43V129.23H170.29V136.43" fill="none" stroke="#666" stroke-width="0.45"/>
<path d="M170.29,136.43V126.43H180.48V136.43" fill="none" stroke="#666" stroke-width="0.45"/>
<path d="M180.48,136.43V124.43H190.67V136.43" fill="none" stroke="#666" stroke-width="0.45"/>
<path d="M190.67,136.43V122.63H200.86V136.43" fill="none" stroke="#666" stroke-width="0.45"/>
<path d="M200.86,136.43V119.03H211.05V136.43" fill="none" stroke="#666" stroke-width="0.45"/>
<path d="M211.05,136.43V116.33H221.24V136.43" fill="none" stroke="#666" stroke-width="0.45"/>
<path d="M221.24,136.43V116.03H231.43V136.43" fill="none" stroke="#666" stroke-width="0.45"/>
<path d="M231.43,136.43V114.23H241.62V136.43" fill="none" stroke="#666" stroke-width="0.45"/>
<path d="M241.62,136.43V112.43H251.81V136.43" fill="none" stroke="#666" stroke-width="0.45"/>
<path d="M251.81,136.43V113.33H262V136.43" fill="none" stroke="#666" stroke-width="0.45"/>
<line x1="160.1" y1="136.93" x2="262" y2="136.93" stroke="#ddd" stroke-width="0.6"/>
<line x1="158.1" y1="119.03" x2="262" y2="119.03" stroke="#c4c4c4" stroke-width="0.9"/>
<polyline points="160.1,128.03 161.8,128.13 163.5,128.04 165.19,127.97 166.89,127.37 168.59,126.47 170.29,125.9 171.99,125.68 173.69,125.35 175.38,125.12 177.08,124.69 178.78,124.07 180.48,123.63 182.18,123.43 183.88,123.13 185.57,122.93 187.27,122.61 188.97,122.15 190.67,121.83 192.37,121.57 194.07,121.19 195.76,120.93 197.46,120.35 199.16,119.51 200.86,118.93 202.56,118.49 204.26,117.87 205.95,117.43 207.65,116.99 209.35,116.37 211.05,115.93 212.75,115.73 214.45,115.43 216.14,115.23 217.84,115.16 219.54,115.05 221.24,114.93 222.94,114.8 224.64,114.7 226.33,114.63 228.03,114.49 229.73,114.28 231.43,114.03 233.13,113.78 234.83,113.57 236.52,113.43 238.22,113.23 239.92,112.93 241.62,112.58 243.32,112.22 245.02,111.93 246.71,111.72 248.41,111.74 250.11,111.77 251.81,111.8 253.51,111.82 255.21,111.82 256.9,111.78 258.6,111.81 260.3,111.83 262,111.63" fill="none" stroke="#888" stroke-width="0.4" stroke-dasharray="1.2 0.6"/>
<polyline points="160.1,130.83 161.8,130.44 163.5,130.11 165.19,129.89 166.89,129.32 168.59,128.55 170.29,127.96 171.99,127.71 173.69,127.37 175.38,127.14 177.08,126.7 178.78,126.07 180.48,125.63 182.18,125.43 183.88,125.13 185.57,124.93 187.27,124.61 188.97,124.15 190.67,123.83 192.37,123.57 194.07,123.19 195.76,122.93 197.46,122.35 199.16,121.51 200.86,120.93 202.56,120.49 204.26,119.87 205.95,119.43 207.65,118.99 209.35,118.37 211.05,117.93 212.75,117.73 214.45,117.43 216.14,117.23 217.84,117.16 219.54,117.06 221.24,116.93 222.94,116.81 224.64,116.7 226.33,116.63 228.03,116.49 229.73,116.28 231.43,116.03 233.13,115.78 234.83,115.57 236.52,115.43 238.22,115.23 239.92,114.93 241.62,114.58 243.32,114.23 245.02,113.93 246.71,113.74 248.41,113.76 250.11,113.8 251.81,113.86 253.51,113.92 255.21,113.99 256.9,114.08 258.6,114.34 260.3,114.74 262,115.23" fill="none" stroke="#888" stroke-width="0.4" stroke-dasharray="1.2 0.6"/>
<polyline points="160.1,129.43 161.8,129.28 163.5,129.08 165.19,128.93 166.89,128.35 168.59,127.51 170.29,126.93 171.99,126.7 173.69,126.36 175.38,126.13 177.08,125.69 178.78,125.07 180.48,124.63 182.18,124.43 183.88,124.13 185.57,123.93 187.27,123.61 188.97,123.15 190.67,122.83 192.37,122.57 194.07,122.19 195.76,121.93 197.46,121.35 199.16,120.51 200.86,119.93 202.56,119.49 204.26,118.87 205.95,118.43 207.65,117.99 209.35,117.37 211.05,116.93 212.75,116.73 214.45,116.43 216.14,116.23 217.84,116.16 219.54,116.06 221.24,115.93 222.94,115.81 224.64,115.7 226.33,115.63 228.03,115.49 229.73,115.28 231.43,115.03 233.13,114.78 234.83,114.57 236.52,114.43 238.22,114.23 239.92,113.93 241.62,113.58 243.32,113.23 245.02,112.93 246.71,112.73 248.41,112.75 250.11,112.79 251.81,112.83 253.51,112.87 255.21,112.91 256.9,112.93 258.6,113.08 260.3,113.28 262,113.43" fill="none" stroke="#3a3a3a" stroke-width="0.6" stroke-linejoin="round"/>
<path d="M165.19,127.63V130.83M164.5,127.63H165.89M164.5,130.83H165.89" fill="none" stroke="#555" stroke-width="0.4"/>
<path d="M175.38,124.43V128.43M174.69,124.43H176.08M174.69,128.43H176.08" fill="none" stroke="#555" stroke-width="0.4"/>
<path d="M185.57,122.43V126.43M184.88,122.43H186.27M184.88,126.43H186.27" fill="none" stroke="#555" stroke-width="0.4"/>
<path d="M195.76,120.63V124.63M195.06,120.63H196.46M195.06,124.63H196.46" fill="none" stroke="#555" stroke-width="0.4"/>
<path d="M205.95,117.03V121.03M205.25,117.03H206.65M205.25,121.03H206.65" fill="none" stroke="#555" stroke-width="0.4"/>
<path d="M216.14,114.33V118.33M215.44,114.33H216.84M215.44,118.33H216.84" fill="none" stroke="#555" stroke-width="0.4"/>
<path d="M226.33,114.03V118.03M225.63,114.03H227.03M225.63,118.03H227.03" fill="none" stroke="#555" stroke-width="0.4"/>
<path d="M236.52,112.23V116.23M235.82,112.23H237.22M235.82,116.23H237.22" fill="none" stroke="#555" stroke-width="0.4"/>
<path d="M246.71,110.43V114.43M246.01,110.43H247.41M246.01,114.43H247.41" fill="none" stroke="#555" stroke-width="0.4"/>
<path d="M256.9,111.33V115.33M256.2,111.33H257.6M256.2,115.33H257.6" fill="none" stroke="#555" stroke-width="0.4"/>
<text transform="translate(157.1,136.93) rotate(-90)" font-size="2.8" font-weight="bold" text-anchor="middle" fill="#333">0.0</text>
<text transform="translate(157.1,128.23) rotate(-90)" font-size="2.8" font-weight="bold" text-anchor="middle" fill="#333">0.5</text>
<text transform="translate(157.1,119.53) rotate(-90)" font-size="2.8" font-weight="bold" text-anchor="middle" fill="#333">1.0</text>
<text transform="translate(157.1,110.83) rotate(-90)" font-size="2.8" font-weight="bold" text-anchor="middle" fill="#333">1.5</text>
<text transform="translate(157.1,102.13) rotate(-90)" font-size="2.8" font-weight="bold" text-anchor="middle" fill="#333">2.0</text>
<text transform="translate(157.1,93.43) rotate(-90)" font-size="2.8" font-weight="bold" text-anchor="middle" fill="#333">2.5</text>
<text transform="translate(153.2,114.93) rotate(-90)" font-size="3.2" font-weight="bold" text-anchor="middle" fill="#333" textLength="37.5" lengthAdjust="spacingAndGlyphs">Relative unemployment</text>
<text x="160.1" y="140.83" font-size="2.5" text-anchor="middle" fill="#444">0.0</text>
<text x="170.29" y="140.83" font-size="2.5" text-anchor="middle" fill="#444">0.1</text>
<text x="180.48" y="140.83" font-size="2.5" text-anchor="middle" fill="#444">0.2</text>
<text x="190.67" y="140.83" font-size="2.5" text-anchor="middle" fill="#444">0.3</text>
<text x="200.86" y="140.83" font-size="2.5" text-anchor="middle" fill="#444">0.4</text>
<text x="211.05" y="140.83" font-size="2.5" text-anchor="middle" fill="#444">0.5</text>
<text x="221.24" y="140.83" font-size="2.5" text-anchor="middle" fill="#444">0.6</text>
<text x="231.43" y="140.83" font-size="2.5" text-anchor="middle" fill="#444">0.7</text>
<text x="241.62" y="140.83" font-size="2.5" text-anchor="middle" fill="#444">0.8</text>
<text x="251.81" y="140.83" font-size="2.5" text-anchor="middle" fill="#444">0.9</text>
<text x="262" y="140.83" font-size="2.5" text-anchor="middle" fill="#444">1.0</text>
<text x="180.9" y="143.98" font-size="2.5" font-weight="bold" fill="#333" textLength="60" lengthAdjust="spacingAndGlyphs">Quantile/decile in the reference distribution</text>
<rect x="174.6" y="147.93" width="4.3" height="1.3" fill="#888" stroke="#555" stroke-width="0.3"/>
<text x="180.5" y="149.23" font-size="2.2" font-weight="bold" fill="#333" textLength="37.5" lengthAdjust="spacingAndGlyphs">Grade-specific rtest in present vs.</text>
<line x1="174.6" y1="151.33" x2="178.9" y2="151.33" stroke="#555" stroke-width="0.4"/>
<text x="180.5" y="151.93" font-size="2.2" font-weight="bold" fill="#333" textLength="16" lengthAdjust="spacingAndGlyphs">Relative to city</text>
<line x1="219" y1="148.63" x2="222.5" y2="148.63" stroke="#555" stroke-width="0.4" stroke-dasharray="0.8 0.5"/>
<text x="223.5" y="149.23" font-size="2.2" font-weight="bold" fill="#333" textLength="26" lengthAdjust="spacingAndGlyphs">95% CI (lower bound)</text>
<line x1="219" y1="151.33" x2="222.5" y2="151.33" stroke="#555" stroke-width="0.4" stroke-dasharray="0.3 0.4"/>
<text x="223.5" y="151.93" font-size="2.2" font-weight="bold" fill="#333" textLength="26.5" lengthAdjust="spacingAndGlyphs">95% CI (upper bound)</text>
<line x1="307.1" y1="129.06" x2="409" y2="129.06" stroke="#f2f2f2" stroke-width="0.45" stroke-dasharray="0.6 0.4"/>
<line x1="307.1" y1="114.32" x2="409" y2="114.32" stroke="#f2f2f2" stroke-width="0.45" stroke-dasharray="0.6 0.4"/>
<line x1="307.1" y1="106.95" x2="409" y2="106.95" stroke="#f2f2f2" stroke-width="0.45" stroke-dasharray="0.6 0.4"/>
<line x1="307.1" y1="99.58" x2="409" y2="99.58" stroke="#f2f2f2" stroke-width="0.45" stroke-dasharray="0.6 0.4"/>
<rect x="307.1" y="109.93" width="10.19" height="26.5" fill="#c0c0c0"/>
<rect x="317.29" y="121.03" width="10.19" height="15.4" fill="#c0c0c0"/>
<rect x="327.48" y="124.53" width="10.19" height="11.9" fill="#c0c0c0"/>
<rect x="337.67" y="126.03" width="10.19" height="10.4" fill="#c0c0c0"/>
<rect x="347.86" y="126.33" width="10.19" height="10.1" fill="#c0c0c0"/>
<rect x="358.05" y="124.53" width="10.19" height="11.9" fill="#c0c0c0"/>
<rect x="368.24" y="123.23" width="10.19" height="13.2" fill="#c0c0c0"/>
<rect x="378.43" y="121.33" width="10.19" height="15.1" fill="#c0c0c0"/>
<rect x="388.62" y="122.43" width="10.19" height="14" fill="#c0c0c0"/>
<rect x="398.81" y="117.23" width="10.19" height="19.2" fill="#c0c0c0"/>
<path d="M307.1,136.43V109.93H317.29V136.43" fill="none" stroke="#666" stroke-width="0.45"/>
<path d="M317.29,136.43V121.03H327.48V136.43" fill="none" stroke="#666" stroke-width="0.45"/>
<path d="M327.48,136.43V124.53H337.67V136.43" fill="none" stroke="#666" stroke-width="0.45"/>
<path d="M337.67,136.43V126.03H347.86V136.43" fill="none" stroke="#666" stroke-width="0.45"/>
<path d="M347.86,136.43V126.33H358.05V136.43" fill="none" stroke="#666" stroke-width="0.45"/>
<path d="M358.05,136.43V124.53H368.24V136.43" fill="none" stroke="#666" stroke-width="0.45"/>
<path d="M368.24,136.43V123.23H378.43V136.43" fill="none" stroke="#666" stroke-width="0.45"/>
<path d="M378.43,136.43V121.33H388.62V136.43" fill="none" stroke="#666" stroke-width="0.45"/>
<path d="M388.62,136.43V122.43H398.81V136.43" fill="none" stroke="#666" stroke-width="0.45"/>
<path d="M398.81,136.43V117.23H409V136.43" fill="none" stroke="#666" stroke-width="0.45"/>
<line x1="307.1" y1="136.93" x2="409" y2="136.93" stroke="#ddd" stroke-width="0.6"/>
<line x1="305.1" y1="121.69" x2="409" y2="121.69" stroke="#c4c4c4" stroke-width="0.9"/>
<polyline points="307.1,90.13 308.8,95.15 310.5,99.65 312.2,103.76 313.89,108.43 315.59,111.03 317.29,114.64 318.99,116.33 320.69,117.36 322.39,118.63 324.08,119.69 325.78,120.15 327.48,120.53 329.18,121.02 330.88,121.57 332.58,122.07 334.27,122.47 335.97,122.68 337.67,122.85 339.37,123.1 341.07,123.37 342.77,123.62 344.46,123.83 346.16,123.92 347.86,123.85 349.56,123.76 351.26,123.66 352.96,123.56 354.65,123.48 356.35,123.42 358.05,123.23 359.75,122.95 361.45,122.62 363.15,122.3 364.84,122.02 366.54,121.84 368.24,121.64 369.94,121.33 371.64,120.97 373.34,120.6 375.03,120.28 376.73,120.06 378.43,120.1 380.13,120.23 381.83,120.39 383.53,120.55 385.22,120.7 386.92,120.8 388.62,120.63 390.32,120.15 392.02,119.57 393.72,119.05 395.41,118.7 397.11,118.14 398.81,117.29 400.51,116.37 402.21,115.6 403.91,114.94 405.6,113.7 407.3,112.16 409,110.73" fill="none" stroke="#888" stroke-width="0.4" stroke-dasharray="1.2 0.6"/>
<polyline points="307.1,99.13 308.8,102.02 310.5,105.29 312.2,108.71 313.89,112.97 315.59,115.34 317.29,118.82 318.99,120.43 320.69,121.42 322.39,122.67 324.08,123.71 325.78,124.16 327.48,124.54 329.18,125.03 330.88,125.57 332.58,126.07 334.27,126.47 335.97,126.68 337.67,126.85 339.37,127.1 341.07,127.37 342.77,127.62 344.46,127.83 346.16,127.92 347.86,127.85 349.56,127.76 351.26,127.66 352.96,127.56 354.65,127.48 356.35,127.42 358.05,127.23 359.75,126.95 361.45,126.62 363.15,126.3 364.84,126.02 366.54,125.84 368.24,125.64 369.94,125.33 371.64,124.97 373.34,124.6 375.03,124.28 376.73,124.06 378.43,124.1 380.13,124.23 381.83,124.39 383.53,124.55 385.22,124.7 386.92,124.81 388.62,124.63 390.32,124.16 392.02,123.58 393.72,123.07 395.41,122.73 397.11,122.2 398.81,121.4 400.51,120.56 402.21,119.93 403.91,119.51 405.6,118.69 407.3,117.88 409,117.73" fill="none" stroke="#888" stroke-width="0.4" stroke-dasharray="1.2 0.6"/>
<polyline points="307.1,94.63 308.8,98.58 310.5,102.47 312.2,106.23 313.89,110.7 315.59,113.19 317.29,116.73 318.99,118.38 320.69,119.39 322.39,120.65 324.08,121.7 325.78,122.16 327.48,122.53 329.18,123.03 330.88,123.57 332.58,124.07 334.27,124.47 335.97,124.68 337.67,124.85 339.37,125.1 341.07,125.37 342.77,125.62 344.46,125.83 346.16,125.92 347.86,125.85 349.56,125.76 351.26,125.66 352.96,125.56 354.65,125.48 356.35,125.42 358.05,125.23 359.75,124.95 361.45,124.62 363.15,124.3 364.84,124.02 366.54,123.84 368.24,123.64 369.94,123.33 371.64,122.97 373.34,122.6 375.03,122.28 376.73,122.06 378.43,122.1 380.13,122.23 381.83,122.39 383.53,122.55 385.22,122.7 386.92,122.81 388.62,122.63 390.32,122.15 392.02,121.58 393.72,121.06 395.41,120.72 397.11,120.17 398.81,119.35 400.51,118.46 402.21,117.76 403.91,117.23 405.6,116.2 407.3,115.02 409,114.23" fill="none" stroke="#3a3a3a" stroke-width="0.6" stroke-linejoin="round"/>
<path d="M312.2,106.53V113.33M311.5,106.53H312.9M311.5,113.33H312.9" fill="none" stroke="#555" stroke-width="0.4"/>
<path d="M322.39,117.63V124.43M321.69,117.63H323.09M321.69,124.43H323.09" fill="none" stroke="#555" stroke-width="0.4"/>
<path d="M332.58,121.13V127.93M331.88,121.13H333.28M331.88,127.93H333.28" fill="none" stroke="#555" stroke-width="0.4"/>
<path d="M342.77,122.63V129.43M342.07,122.63H343.47M342.07,129.43H343.47" fill="none" stroke="#555" stroke-width="0.4"/>
<path d="M352.96,122.93V129.73M352.26,122.93H353.66M352.26,129.73H353.66" fill="none" stroke="#555" stroke-width="0.4"/>
<path d="M363.15,121.13V127.93M362.45,121.13H363.85M362.45,127.93H363.85" fill="none" stroke="#555" stroke-width="0.4"/>
<path d="M373.34,119.83V126.63M372.64,119.83H374.04M372.64,126.63H374.04" fill="none" stroke="#555" stroke-width="0.4"/>
<path d="M383.53,117.93V124.73M382.83,117.93H384.23M382.83,124.73H384.23" fill="none" stroke="#555" stroke-width="0.4"/>
<path d="M393.72,119.03V125.83M393.02,119.03H394.42M393.02,125.83H394.42" fill="none" stroke="#555" stroke-width="0.4"/>
<path d="M403.91,113.83V120.63M403.21,113.83H404.61M403.21,120.63H404.61" fill="none" stroke="#555" stroke-width="0.4"/>
<text transform="translate(304.1,136.93) rotate(-90)" font-size="2.8" font-weight="bold" text-anchor="middle" fill="#333">0.0</text>
<text transform="translate(304.1,129.56) rotate(-90)" font-size="2.8" font-weight="bold" text-anchor="middle" fill="#333">0.5</text>
<text transform="translate(304.1,122.19) rotate(-90)" font-size="2.8" font-weight="bold" text-anchor="middle" fill="#333">1.0</text>
<text transform="translate(304.1,114.82) rotate(-90)" font-size="2.8" font-weight="bold" text-anchor="middle" fill="#333">1.5</text>
<text transform="translate(304.1,107.45) rotate(-90)" font-size="2.8" font-weight="bold" text-anchor="middle" fill="#333">2.0</text>
<text transform="translate(304.1,100.08) rotate(-90)" font-size="2.8" font-weight="bold" text-anchor="middle" fill="#333">2.5</text>
<text transform="translate(300.2,114.93) rotate(-90)" font-size="3.2" font-weight="bold" text-anchor="middle" fill="#333" textLength="37.5" lengthAdjust="spacingAndGlyphs">Relative unemployment</text>
<text x="307.1" y="140.83" font-size="2.5" text-anchor="middle" fill="#444">0.0</text>
<text x="317.29" y="140.83" font-size="2.5" text-anchor="middle" fill="#444">0.1</text>
<text x="327.48" y="140.83" font-size="2.5" text-anchor="middle" fill="#444">0.2</text>
<text x="337.67" y="140.83" font-size="2.5" text-anchor="middle" fill="#444">0.3</text>
<text x="347.86" y="140.83" font-size="2.5" text-anchor="middle" fill="#444">0.4</text>
<text x="358.05" y="140.83" font-size="2.5" text-anchor="middle" fill="#444">0.5</text>
<text x="368.24" y="140.83" font-size="2.5" text-anchor="middle" fill="#444">0.6</text>
<text x="378.43" y="140.83" font-size="2.5" text-anchor="middle" fill="#444">0.7</text>
<text x="388.62" y="140.83" font-size="2.5" text-anchor="middle" fill="#444">0.8</text>
<text x="398.81" y="140.83" font-size="2.5" text-anchor="middle" fill="#444">0.9</text>
<text x="409" y="140.83" font-size="2.5" text-anchor="middle" fill="#444">1.0</text>
<text x="327.9" y="143.98" font-size="2.5" font-weight="bold" fill="#333" textLength="60" lengthAdjust="spacingAndGlyphs">Quantile/decile in the reference distribution</text>
<rect x="321.6" y="147.93" width="4.3" height="1.3" fill="#888" stroke="#555" stroke-width="0.3"/>
<text x="327.5" y="149.23" font-size="2.2" font-weight="bold" fill="#333" textLength="37.5" lengthAdjust="spacingAndGlyphs">Grade-specific rtest in present vs.</text>
<line x1="321.6" y1="151.33" x2="325.9" y2="151.33" stroke="#555" stroke-width="0.4"/>
<text x="327.5" y="151.93" font-size="2.2" font-weight="bold" fill="#333" textLength="16" lengthAdjust="spacingAndGlyphs">Relative to city</text>
<line x1="366" y1="148.63" x2="369.5" y2="148.63" stroke="#555" stroke-width="0.4" stroke-dasharray="0.8 0.5"/>
<text x="370.5" y="149.23" font-size="2.2" font-weight="bold" fill="#333" textLength="26" lengthAdjust="spacingAndGlyphs">95% CI (lower bound)</text>
<line x1="366" y1="151.33" x2="369.5" y2="151.33" stroke="#555" stroke-width="0.4" stroke-dasharray="0.3 0.4"/>
<text x="370.5" y="151.93" font-size="2.2" font-weight="bold" fill="#333" textLength="26.5" lengthAdjust="spacingAndGlyphs">95% CI (upper bound)</text>
<text class="h" x="206.3" y="165.6" font-size="9.35" text-anchor="middle" fill="#1a1a1a" stroke="#1a1a1a" stroke-width="0.12">Ireland</text>
<line x1="13.1" y1="208.56" x2="115" y2="208.56" stroke="#f2f2f2" stroke-width="0.45" stroke-dasharray="0.6 0.4"/>
<line x1="13.1" y1="195.96" x2="115" y2="195.96" stroke="#f2f2f2" stroke-width="0.45" stroke-dasharray="0.6 0.4"/>
<line x1="13.1" y1="189.66" x2="115" y2="189.66" stroke="#f2f2f2" stroke-width="0.45" stroke-dasharray="0.6 0.4"/>
<line x1="13.1" y1="183.36" x2="115" y2="183.36" stroke="#f2f2f2" stroke-width="0.45" stroke-dasharray="0.6 0.4"/>
<rect x="13.1" y="213.86" width="10.19" height="1" fill="#c0c0c0"/>
<rect x="23.29" y="212.16" width="10.19" height="2.7" fill="#c0c0c0"/>
<rect x="33.48" y="207.06" width="10.19" height="7.8" fill="#c0c0c0"/>
<rect x="43.67" y="205.26" width="10.19" height="9.6" fill="#c0c0c0"/>
<rect x="53.86" y="204.56" width="10.19" height="10.3" fill="#c0c0c0"/>
<rect x="64.05" y="205.76" width="10.19" height="9.1" fill="#c0c0c0"/>
<rect x="74.24" y="199.96" width="10.19" height="14.9" fill="#c0c0c0"/>
<rect x="84.43" y="201.56" width="10.19" height="13.3" fill="#c0c0c0"/>
<rect x="94.62" y="196.26" width="10.19" height="18.6" fill="#c0c0c0"/>
<rect x="104.81" y="183.16" width="10.19" height="31.7" fill="#c0c0c0"/>
<path d="M13.1,214.86V213.86H23.29V214.86" fill="none" stroke="#666" stroke-width="0.45"/>
<path d="M23.29,214.86V212.16H33.48V214.86" fill="none" stroke="#666" stroke-width="0.45"/>
<path d="M33.48,214.86V207.06H43.67V214.86" fill="none" stroke="#666" stroke-width="0.45"/>
<path d="M43.67,214.86V205.26H53.86V214.86" fill="none" stroke="#666" stroke-width="0.45"/>
<path d="M53.86,214.86V204.56H64.05V214.86" fill="none" stroke="#666" stroke-width="0.45"/>
<path d="M64.05,214.86V205.76H74.24V214.86" fill="none" stroke="#666" stroke-width="0.45"/>
<path d="M74.24,214.86V199.96H84.43V214.86" fill="none" stroke="#666" stroke-width="0.45"/>
<path d="M84.43,214.86V201.56H94.62V214.86" fill="none" stroke="#666" stroke-width="0.45"/>
<path d="M94.62,214.86V196.26H104.81V214.86" fill="none" stroke="#666" stroke-width="0.45"/>
<path d="M104.81,214.86V183.16H115V214.86" fill="none" stroke="#666" stroke-width="0.45"/>
<line x1="13.1" y1="215.36" x2="115" y2="215.36" stroke="#ddd" stroke-width="0.6"/>
<line x1="11.1" y1="202.26" x2="115" y2="202.26" stroke="#c4c4c4" stroke-width="0.9"/>
<polyline points="13.1,213.21 14.8,213.15 16.5,212.99 18.2,212.79 19.89,212.58 21.59,212.4 23.29,212.25 24.99,211.55 26.69,210.53 28.38,209.46 30.08,208.61 31.78,207.88 33.48,206.35 35.18,204.79 36.88,204.15 38.57,203.79 40.27,203.32 41.97,202.9 43.67,202.51 45.37,202.2 47.07,202.06 48.77,202.06 50.46,202.06 52.16,202.06 53.86,202.06 55.56,202.06 57.26,202.08 58.95,202.24 60.65,202.46 62.35,202.73 64.05,203 65.75,203.22 67.45,203.35 69.14,202.33 70.84,200.8 72.54,199.14 74.24,197.82 75.94,197.41 77.64,197.58 79.33,197.79 81.03,198 82.73,198.14 84.43,198.44 86.13,198.96 87.83,199.39 89.52,198.95 91.22,197.84 92.92,196.53 94.62,195.38 96.32,194.62 98.02,193.22 99.71,191.4 101.41,190.15 103.11,187.82 104.81,184.56 106.51,182.18 108.21,180.11 109.9,177.5 111.6,175.44 113.3,172.07 115,168.36" fill="none" stroke="#888" stroke-width="0.4" stroke-dasharray="1.2 0.6"/>
<polyline points="13.1,214.11 14.8,213.98 16.5,213.85 18.2,213.71 19.89,213.59 21.59,213.48 23.29,213.39 24.99,212.99 26.69,212.42 28.38,211.81 30.08,211.33 31.78,210.91 33.48,210.05 35.18,209.17 36.88,208.8 38.57,208.6 40.27,208.32 41.97,207.9 43.67,207.51 45.37,207.2 47.07,207.06 48.77,207.06 50.46,207.06 52.16,207.06 53.86,207.06 55.56,207.06 57.26,207.08 58.95,207.24 60.65,207.46 62.35,207.73 64.05,208 65.75,208.22 67.45,208.35 69.14,207.33 70.84,205.8 72.54,204.14 74.24,202.82 75.94,202.41 77.64,202.58 79.33,202.79 81.03,203 82.73,203.15 84.43,203.44 86.13,203.96 87.83,204.39 89.52,203.95 91.22,202.84 92.92,201.54 94.62,200.39 96.32,199.64 98.02,198.26 99.71,196.47 101.41,195.27 103.11,193.03 104.81,189.91 106.51,187.8 108.21,186.2 109.9,184.39 111.6,183.73 113.3,182.81 115,183.36" fill="none" stroke="#888" stroke-width="0.4" stroke-dasharray="1.2 0.6"/>
<polyline points="13.1,213.66 14.8,213.56 16.5,213.42 18.2,213.25 19.89,213.08 21.59,212.94 23.29,212.82 24.99,212.27 26.69,211.47 28.38,210.63 30.08,209.97 31.78,209.4 33.48,208.2 35.18,206.98 36.88,206.48 38.57,206.19 40.27,205.82 41.97,205.4 43.67,205.01 45.37,204.7 47.07,204.56 48.77,204.56 50.46,204.56 52.16,204.56 53.86,204.56 55.56,204.56 57.26,204.58 58.95,204.74 60.65,204.96 62.35,205.23 64.05,205.5 65.75,205.72 67.45,205.85 69.14,204.83 70.84,203.3 72.54,201.64 74.24,200.32 75.94,199.91 77.64,200.08 79.33,200.29 81.03,200.5 82.73,200.64 84.43,200.94 86.13,201.46 87.83,201.89 89.52,201.45 91.22,200.34 92.92,199.03 94.62,197.88 96.32,197.13 98.02,195.74 99.71,193.94 101.41,192.71 103.11,190.42 104.81,187.24 106.51,184.99 108.21,183.15 109.9,180.94 111.6,179.58 113.3,177.44 115,175.86" fill="none" stroke="#3a3a3a" stroke-width="0.6" stroke-linejoin="round"/>
<path d="M28.38,210.93V213.39M27.68,210.93H29.08M27.68,213.39H29.08" fill="none" stroke="#555" stroke-width="0.4"/>
<path d="M38.57,203.51V210.61M37.87,203.51H39.27M37.87,210.61H39.27" fill="none" stroke="#555" stroke-width="0.4"/>
<path d="M48.77,201.16V209.36M48.06,201.16H49.47M48.06,209.36H49.47" fill="none" stroke="#555" stroke-width="0.4"/>
<path d="M58.95,200.46V208.66M58.25,200.46H59.66M58.25,208.66H59.66" fill="none" stroke="#555" stroke-width="0.4"/>
<path d="M69.14,201.66V209.86M68.44,201.66H69.84M68.44,209.86H69.84" fill="none" stroke="#555" stroke-width="0.4"/>
<path d="M79.33,195.86V204.06M78.63,195.86H80.03M78.63,204.06H80.03" fill="none" stroke="#555" stroke-width="0.4"/>
<path d="M89.52,197.46V205.66M88.82,197.46H90.22M88.82,205.66H90.22" fill="none" stroke="#555" stroke-width="0.4"/>
<path d="M99.71,192.16V200.36M99.01,192.16H100.41M99.01,200.36H100.41" fill="none" stroke="#555" stroke-width="0.4"/>
<path d="M109.9,179.06V187.26M109.2,179.06H110.6M109.2,187.26H110.6" fill="none" stroke="#555" stroke-width="0.4"/>
<text transform="translate(10.1,215.36) rotate(-90)" font-size="2.8" font-weight="bold" text-anchor="middle" fill="#333">0.0</text>
<text transform="translate(10.1,209.06) rotate(-90)" font-size="2.8" font-weight="bold" text-anchor="middle" fill="#333">0.5</text>
<text transform="translate(10.1,202.76) rotate(-90)" font-size="2.8" font-weight="bold" text-anchor="middle" fill="#333">1.0</text>
<text transform="translate(10.1,196.46) rotate(-90)" font-size="2.8" font-weight="bold" text-anchor="middle" fill="#333">1.5</text>
<text transform="translate(10.1,190.16) rotate(-90)" font-size="2.8" font-weight="bold" text-anchor="middle" fill="#333">2.0</text>
<text transform="translate(10.1,183.86) rotate(-90)" font-size="2.8" font-weight="bold" text-anchor="middle" fill="#333">2.5</text>
<text transform="translate(6.2,193.36) rotate(-90)" font-size="3.2" font-weight="bold" text-anchor="middle" fill="#333" textLength="37.5" lengthAdjust="spacingAndGlyphs">Relative unemployment</text>
<text x="13.1" y="219.26" font-size="2.5" text-anchor="middle" fill="#444">0.0</text>
<text x="23.29" y="219.26" font-size="2.5" text-anchor="middle" fill="#444">0.1</text>
<text x="33.48" y="219.26" font-size="2.5" text-anchor="middle" fill="#444">0.2</text>
<text x="43.67" y="219.26" font-size="2.5" text-anchor="middle" fill="#444">0.3</text>
<text x="53.86" y="219.26" font-size="2.5" text-anchor="middle" fill="#444">0.4</text>
<text x="64.05" y="219.26" font-size="2.5" text-anchor="middle" fill="#444">0.5</text>
<text x="74.24" y="219.26" font-size="2.5" text-anchor="middle" fill="#444">0.6</text>
<text x="84.43" y="219.26" font-size="2.5" text-anchor="middle" fill="#444">0.7</text>
<text x="94.62" y="219.26" font-size="2.5" text-anchor="middle" fill="#444">0.8</text>
<text x="104.81" y="219.26" font-size="2.5" text-anchor="middle" fill="#444">0.9</text>
<text x="115" y="219.26" font-size="2.5" text-anchor="middle" fill="#444">1.0</text>
<text x="33.9" y="222.41" font-size="2.5" font-weight="bold" fill="#333" textLength="60" lengthAdjust="spacingAndGlyphs">Quantile/decile in the reference distribution</text>
<rect x="27.6" y="226.36" width="4.3" height="1.3" fill="#888" stroke="#555" stroke-width="0.3"/>
<text x="33.5" y="227.66" font-size="2.2" font-weight="bold" fill="#333" textLength="37.5" lengthAdjust="spacingAndGlyphs">Grade-specific rtest in present vs.</text>
<line x1="27.6" y1="229.76" x2="31.9" y2="229.76" stroke="#555" stroke-width="0.4"/>
<text x="33.5" y="230.36" font-size="2.2" font-weight="bold" fill="#333" textLength="16" lengthAdjust="spacingAndGlyphs">Relative to city</text>
<line x1="72" y1="227.06" x2="75.5" y2="227.06" stroke="#555" stroke-width="0.4" stroke-dasharray="0.8 0.5"/>
<text x="76.5" y="227.66" font-size="2.2" font-weight="bold" fill="#333" textLength="26" lengthAdjust="spacingAndGlyphs">95% CI (lower bound)</text>
<line x1="72" y1="229.76" x2="75.5" y2="229.76" stroke="#555" stroke-width="0.4" stroke-dasharray="0.3 0.4"/>
<text x="76.5" y="230.36" font-size="2.2" font-weight="bold" fill="#333" textLength="26.5" lengthAdjust="spacingAndGlyphs">95% CI (upper bound)</text>
<line x1="160.1" y1="206.16" x2="262" y2="206.16" stroke="#f2f2f2" stroke-width="0.45" stroke-dasharray="0.6 0.4"/>
<line x1="160.1" y1="188.76" x2="262" y2="188.76" stroke="#f2f2f2" stroke-width="0.45" stroke-dasharray="0.6 0.4"/>
<line x1="160.1" y1="180.06" x2="262" y2="180.06" stroke="#f2f2f2" stroke-width="0.45" stroke-dasharray="0.6 0.4"/>
<line x1="160.1" y1="171.36" x2="262" y2="171.36" stroke="#f2f2f2" stroke-width="0.45" stroke-dasharray="0.6 0.4"/>
<rect x="160.1" y="214.56" width="10.19" height="0.3" fill="#c0c0c0"/>
<rect x="170.29" y="214.56" width="10.19" height="0.3" fill="#c0c0c0"/>
<rect x="180.48" y="207.26" width="10.19" height="7.6" fill="#c0c0c0"/>
<rect x="190.67" y="195.06" width="10.19" height="19.8" fill="#c0c0c0"/>
<rect x="200.86" y="199.06" width="10.19" height="15.8" fill="#c0c0c0"/>
<rect x="211.05" y="200.06" width="10.19" height="14.8" fill="#c0c0c0"/>
<rect x="221.24" y="189.16" width="10.19" height="25.7" fill="#c0c0c0"/>
<rect x="231.43" y="190.76" width="10.19" height="24.1" fill="#c0c0c0"/>
<rect x="241.62" y="182.66" width="10.19" height="32.2" fill="#c0c0c0"/>
<rect x="251.81" y="179.36" width="10.19" height="35.5" fill="#c0c0c0"/>
<path d="M160.1,214.86V214.56H170.29V214.86" fill="none" stroke="#666" stroke-width="0.45"/>
<path d="M170.29,214.86V214.56H180.48V214.86" fill="none" stroke="#666" stroke-width="0.45"/>
<path d="M180.48,214.86V207.26H190.67V214.86" fill="none" stroke="#666" stroke-width="0.45"/>
<path d="M190.67,214.86V195.06H200.86V214.86" fill="none" stroke="#666" stroke-width="0.45"/>
<path d="M200.86,214.86V199.06H211.05V214.86" fill="none" stroke="#666" stroke-width="0.45"/>
<path d="M211.05,214.86V200.06H221.24V214.86" fill="none" stroke="#666" stroke-width="0.45"/>
<path d="M221.24,214.86V189.16H231.43V214.86" fill="none" stroke="#666" stroke-width="0.45"/>
<path d="M231.43,214.86V190.76H241.62V214.86" fill="none" stroke="#666" stroke-width="0.45"/>
<path d="M241.62,214.86V182.66H251.81V214.86" fill="none" stroke="#666" stroke-width="0.45"/>
<path d="M251.81,214.86V179.36H262V214.86" fill="none" stroke="#666" stroke-width="0.45"/>
<line x1="160.1" y1="215.36" x2="262" y2="215.36" stroke="#ddd" stroke-width="0.6"/>
<line x1="158.1" y1="197.46" x2="262" y2="197.46" stroke="#c4c4c4" stroke-width="0.9"/>
<polyline points="160.1,211.8 161.8,211.77 163.5,211.71 165.19,211.6 166.89,211.48 168.59,211.35 170.29,211.22 171.99,211.11 173.69,211.02 175.38,210.82 177.08,209.34 178.78,207.94 180.48,205.87 182.18,202.58 183.88,200.31 185.57,198.7 187.27,196.07 188.97,193.93 190.67,192.36 192.37,191.02 194.07,190.68 195.76,190.37 197.46,191.14 199.16,192.16 200.86,192.83 202.56,193.88 204.26,194.36 205.95,194.36 207.65,194.36 209.35,194.25 211.05,194.05 212.75,193.81 214.45,193.6 216.14,193.46 217.84,191.98 219.54,189.81 221.24,188.14 222.94,187.36 224.64,186.34 226.33,185.96 228.03,185.96 229.73,185.96 231.43,185.87 233.13,185.24 234.83,184.46 236.52,183.93 238.22,182.97 239.92,181.63 241.62,180.63 243.32,179.49 245.02,177.65 246.71,176.11 248.41,175.37 250.11,174.33 251.81,173.33 253.51,172.86 255.21,172.37 256.9,171.92 258.6,171.92 260.3,171.75 262,170.86" fill="none" stroke="#888" stroke-width="0.4" stroke-dasharray="1.2 0.6"/>
<polyline points="160.1,214.12 161.8,214.06 163.5,214.01 165.19,213.96 166.89,213.91 168.59,213.87 170.29,213.83 171.99,213.79 173.69,213.77 175.38,213.71 177.08,213.29 178.78,212.88 180.48,212.29 182.18,211.35 183.88,210.31 185.57,208.7 187.27,206.07 188.97,203.93 190.67,202.36 192.37,201.02 194.07,200.68 195.76,200.37 197.46,201.14 199.16,202.16 200.86,202.83 202.56,203.88 204.26,204.36 205.95,204.36 207.65,204.36 209.35,204.25 211.05,204.05 212.75,203.81 214.45,203.6 216.14,203.46 217.84,201.98 219.54,199.81 221.24,198.14 222.94,197.36 224.64,196.34 226.33,195.96 228.03,195.96 229.73,195.96 231.43,195.87 233.13,195.24 234.83,194.46 236.52,193.93 238.22,192.97 239.92,191.63 241.62,190.63 243.32,189.5 245.02,187.68 246.71,186.15 248.41,185.44 250.11,184.45 251.81,183.55 253.51,183.23 255.21,183.02 256.9,183.06 258.6,183.9 260.3,185.19 262,186.86" fill="none" stroke="#888" stroke-width="0.4" stroke-dasharray="1.2 0.6"/>
<polyline points="160.1,212.96 161.8,212.92 163.5,212.86 165.19,212.78 166.89,212.7 168.59,212.61 170.29,212.53 171.99,212.45 173.69,212.39 175.38,212.27 177.08,211.31 178.78,210.41 180.48,209.08 182.18,206.96 183.88,205.31 185.57,203.7 187.27,201.07 188.97,198.93 190.67,197.36 192.37,196.02 194.07,195.68 195.76,195.37 197.46,196.14 199.16,197.16 200.86,197.83 202.56,198.88 204.26,199.36 205.95,199.36 207.65,199.36 209.35,199.25 211.05,199.05 212.75,198.81 214.45,198.6 216.14,198.46 217.84,196.98 219.54,194.81 221.24,193.14 222.94,192.36 224.64,191.34 226.33,190.96 228.03,190.96 229.73,190.96 231.43,190.87 233.13,190.24 234.83,189.46 236.52,188.93 238.22,187.97 239.92,186.63 241.62,185.63 243.32,184.49 245.02,182.66 246.71,181.13 248.41,180.41 250.11,179.39 251.81,178.44 253.51,178.05 255.21,177.69 256.9,177.49 258.6,177.91 260.3,178.47 262,178.86" fill="none" stroke="#3a3a3a" stroke-width="0.6" stroke-linejoin="round"/>
<path d="M185.57,200.84V213.68M184.88,200.84H186.27M184.88,213.68H186.27" fill="none" stroke="#555" stroke-width="0.4"/>
<path d="M195.76,187.46V202.66M195.06,187.46H196.46M195.06,202.66H196.46" fill="none" stroke="#555" stroke-width="0.4"/>
<path d="M205.95,191.46V206.66M205.25,191.46H206.65M205.25,206.66H206.65" fill="none" stroke="#555" stroke-width="0.4"/>
<path d="M216.14,192.46V207.66M215.44,192.46H216.84M215.44,207.66H216.84" fill="none" stroke="#555" stroke-width="0.4"/>
<path d="M226.33,181.56V196.76M225.63,181.56H227.03M225.63,196.76H227.03" fill="none" stroke="#555" stroke-width="0.4"/>
<path d="M236.52,183.16V198.36M235.82,183.16H237.22M235.82,198.36H237.22" fill="none" stroke="#555" stroke-width="0.4"/>
<path d="M246.71,175.06V190.26M246.01,175.06H247.41M246.01,190.26H247.41" fill="none" stroke="#555" stroke-width="0.4"/>
<path d="M256.9,171.76V186.96M256.2,171.76H257.6M256.2,186.96H257.6" fill="none" stroke="#555" stroke-width="0.4"/>
<text transform="translate(157.1,215.36) rotate(-90)" font-size="2.8" font-weight="bold" text-anchor="middle" fill="#333">0.0</text>
<text transform="translate(157.1,206.66) rotate(-90)" font-size="2.8" font-weight="bold" text-anchor="middle" fill="#333">0.5</text>
<text transform="translate(157.1,197.96) rotate(-90)" font-size="2.8" font-weight="bold" text-anchor="middle" fill="#333">1.0</text>
<text transform="translate(157.1,189.26) rotate(-90)" font-size="2.8" font-weight="bold" text-anchor="middle" fill="#333">1.5</text>
<text transform="translate(157.1,180.56) rotate(-90)" font-size="2.8" font-weight="bold" text-anchor="middle" fill="#333">2.0</text>
<text transform="translate(157.1,171.86) rotate(-90)" font-size="2.8" font-weight="bold" text-anchor="middle" fill="#333">2.5</text>
<text transform="translate(153.2,193.36) rotate(-90)" font-size="3.2" font-weight="bold" text-anchor="middle" fill="#333" textLength="37.5" lengthAdjust="spacingAndGlyphs">Relative unemployment</text>
<text x="160.1" y="219.26" font-size="2.5" text-anchor="middle" fill="#444">0.0</text>
<text x="170.29" y="219.26" font-size="2.5" text-anchor="middle" fill="#444">0.1</text>
<text x="180.48" y="219.26" font-size="2.5" text-anchor="middle" fill="#444">0.2</text>
<text x="190.67" y="219.26" font-size="2.5" text-anchor="middle" fill="#444">0.3</text>
<text x="200.86" y="219.26" font-size="2.5" text-anchor="middle" fill="#444">0.4</text>
<text x="211.05" y="219.26" font-size="2.5" text-anchor="middle" fill="#444">0.5</text>
<text x="221.24" y="219.26" font-size="2.5" text-anchor="middle" fill="#444">0.6</text>
<text x="231.43" y="219.26" font-size="2.5" text-anchor="middle" fill="#444">0.7</text>
<text x="241.62" y="219.26" font-size="2.5" text-anchor="middle" fill="#444">0.8</text>
<text x="251.81" y="219.26" font-size="2.5" text-anchor="middle" fill="#444">0.9</text>
<text x="262" y="219.26" font-size="2.5" text-anchor="middle" fill="#444">1.0</text>
<text x="180.9" y="222.41" font-size="2.5" font-weight="bold" fill="#333" textLength="60" lengthAdjust="spacingAndGlyphs">Quantile/decile in the reference distribution</text>
<rect x="174.6" y="226.36" width="4.3" height="1.3" fill="#888" stroke="#555" stroke-width="0.3"/>
<text x="180.5" y="227.66" font-size="2.2" font-weight="bold" fill="#333" textLength="37.5" lengthAdjust="spacingAndGlyphs">Grade-specific rtest in present vs.</text>
<line x1="174.6" y1="229.76" x2="178.9" y2="229.76" stroke="#555" stroke-width="0.4"/>
<text x="180.5" y="230.36" font-size="2.2" font-weight="bold" fill="#333" textLength="16" lengthAdjust="spacingAndGlyphs">Relative to city</text>
<line x1="219" y1="227.06" x2="222.5" y2="227.06" stroke="#555" stroke-width="0.4" stroke-dasharray="0.8 0.5"/>
<text x="223.5" y="227.66" font-size="2.2" font-weight="bold" fill="#333" textLength="26" lengthAdjust="spacingAndGlyphs">95% CI (lower bound)</text>
<line x1="219" y1="229.76" x2="222.5" y2="229.76" stroke="#555" stroke-width="0.4" stroke-dasharray="0.3 0.4"/>
<text x="223.5" y="230.36" font-size="2.2" font-weight="bold" fill="#333" textLength="26.5" lengthAdjust="spacingAndGlyphs">95% CI (upper bound)</text>
<line x1="307.1" y1="209.36" x2="409" y2="209.36" stroke="#f2f2f2" stroke-width="0.45" stroke-dasharray="0.6 0.4"/>
<line x1="307.1" y1="198.36" x2="409" y2="198.36" stroke="#f2f2f2" stroke-width="0.45" stroke-dasharray="0.6 0.4"/>
<line x1="307.1" y1="192.86" x2="409" y2="192.86" stroke="#f2f2f2" stroke-width="0.45" stroke-dasharray="0.6 0.4"/>
<line x1="307.1" y1="187.36" x2="409" y2="187.36" stroke="#f2f2f2" stroke-width="0.45" stroke-dasharray="0.6 0.4"/>
<rect x="307.1" y="200.46" width="10.19" height="14.4" fill="#c0c0c0"/>
<rect x="317.29" y="205.26" width="10.19" height="9.6" fill="#c0c0c0"/>
<rect x="327.48" y="204.96" width="10.19" height="9.9" fill="#c0c0c0"/>
<rect x="337.67" y="205.26" width="10.19" height="9.6" fill="#c0c0c0"/>
<rect x="347.86" y="204.56" width="10.19" height="10.3" fill="#c0c0c0"/>
<rect x="358.05" y="205.46" width="10.19" height="9.4" fill="#c0c0c0"/>
<rect x="368.24" y="207.06" width="10.19" height="7.8" fill="#c0c0c0"/>
<rect x="378.43" y="206.16" width="10.19" height="8.7" fill="#c0c0c0"/>
<rect x="388.62" y="202.96" width="10.19" height="11.9" fill="#c0c0c0"/>
<rect x="398.81" y="199.16" width="10.19" height="15.7" fill="#c0c0c0"/>
<path d="M307.1,214.86V200.46H317.29V214.86" fill="none" stroke="#666" stroke-width="0.45"/>
<path d="M317.29,214.86V205.26H327.48V214.86" fill="none" stroke="#666" stroke-width="0.45"/>
<path d="M327.48,214.86V204.96H337.67V214.86" fill="none" stroke="#666" stroke-width="0.45"/>
<path d="M337.67,214.86V205.26H347.86V214.86" fill="none" stroke="#666" stroke-width="0.45"/>
<path d="M347.86,214.86V204.56H358.05V214.86" fill="none" stroke="#666" stroke-width="0.45"/>
<path d="M358.05,214.86V205.46H368.24V214.86" fill="none" stroke="#666" stroke-width="0.45"/>
<path d="M368.24,214.86V207.06H378.43V214.86" fill="none" stroke="#666" stroke-width="0.45"/>
<path d="M378.43,214.86V206.16H388.62V214.86" fill="none" stroke="#666" stroke-width="0.45"/>
<path d="M388.62,214.86V202.96H398.81V214.86" fill="none" stroke="#666" stroke-width="0.45"/>
<path d="M398.81,214.86V199.16H409V214.86" fill="none" stroke="#666" stroke-width="0.45"/>
<line x1="307.1" y1="215.36" x2="409" y2="215.36" stroke="#ddd" stroke-width="0.6"/>
<line x1="305.1" y1="203.86" x2="409" y2="203.86" stroke="#c4c4c4" stroke-width="0.9"/>
<polyline points="307.1,169.86 308.8,180.16 310.5,192.05 312.2,196.14 313.89,200.18 315.59,202.25 317.29,204.49 318.99,203.31 320.69,202.5 322.39,201.75 324.08,201.49 325.78,201.2 327.48,200.97 329.18,201.11 330.88,201.39 332.58,201.62 334.27,201.52 335.97,201.21 337.67,200.97 339.37,202.55 341.07,204.81 342.77,205.66 344.46,204.07 346.16,202.22 347.86,201.65 349.56,201.05 351.26,201.24 352.96,201.85 354.65,202.48 356.35,202.87 358.05,203.08 359.75,203.38 361.45,203.73 363.15,204.09 364.84,204.39 366.54,204.59 368.24,204.49 369.94,204.32 371.64,204.14 373.34,203.98 375.03,203.84 376.73,203.49 378.43,203.03 380.13,202.65 381.83,202.4 383.53,202.2 385.22,201.85 386.92,201.44 388.62,201.07 390.32,200.83 392.02,200.47 393.72,199.95 395.41,199.39 397.11,198.94 398.81,198.55 400.51,197.8 402.21,196.89 403.91,196.1 405.6,194.87 407.3,192.56 409,190.36" fill="none" stroke="#888" stroke-width="0.4" stroke-dasharray="1.2 0.6"/>
<polyline points="307.1,191.86 308.8,195.34 310.5,203.32 312.2,205.16 313.89,207.92 315.59,209.25 317.29,210.04 318.99,209.32 320.69,208.69 322.39,207.85 324.08,207.55 325.78,207.24 327.48,206.99 329.18,207.12 330.88,207.39 332.58,207.62 334.27,207.52 335.97,207.21 337.67,206.97 339.37,208.55 341.07,209.84 342.77,210.26 344.46,209.47 346.16,208.22 347.86,207.65 349.56,207.05 351.26,207.24 352.96,207.85 354.65,208.48 356.35,208.87 358.05,208.97 359.75,209.12 361.45,209.3 363.15,209.47 364.84,209.62 366.54,209.72 368.24,209.67 369.94,209.59 371.64,209.5 373.34,209.42 375.03,209.35 376.73,209.17 378.43,208.95 380.13,208.65 381.83,208.4 383.53,208.2 385.22,207.85 386.92,207.44 388.62,207.08 390.32,206.84 392.02,206.49 393.72,205.97 395.41,205.44 397.11,205.03 398.81,204.7 400.51,204.05 402.21,203.32 403.91,202.85 405.6,202.19 407.3,200.85 409,200.36" fill="none" stroke="#888" stroke-width="0.4" stroke-dasharray="1.2 0.6"/>
<polyline points="307.1,180.86 308.8,187.75 310.5,197.69 312.2,200.65 313.89,204.05 315.59,205.75 317.29,207.26 318.99,206.32 320.69,205.6 322.39,204.8 324.08,204.52 325.78,204.22 327.48,203.98 329.18,204.12 330.88,204.39 332.58,204.62 334.27,204.52 335.97,204.21 337.67,203.97 339.37,205.55 341.07,207.32 342.77,207.96 344.46,206.77 346.16,205.22 347.86,204.65 349.56,204.05 351.26,204.24 352.96,204.85 354.65,205.48 356.35,205.87 358.05,206.02 359.75,206.25 361.45,206.52 363.15,206.78 364.84,207 366.54,207.16 368.24,207.08 369.94,206.95 371.64,206.82 373.34,206.7 375.03,206.59 376.73,206.33 378.43,205.99 380.13,205.65 381.83,205.4 383.53,205.2 385.22,204.85 386.92,204.44 388.62,204.07 390.32,203.84 392.02,203.48 393.72,202.96 395.41,202.41 397.11,201.99 398.81,201.62 400.51,200.92 402.21,200.1 403.91,199.48 405.6,198.53 407.3,196.7 409,195.36" fill="none" stroke="#3a3a3a" stroke-width="0.6" stroke-linejoin="round"/>
<path d="M312.2,195.66V205.26M311.5,195.66H312.9M311.5,205.26H312.9" fill="none" stroke="#555" stroke-width="0.4"/>
<path d="M322.39,200.46V210.06M321.69,200.46H323.09M321.69,210.06H323.09" fill="none" stroke="#555" stroke-width="0.4"/>
<path d="M332.58,200.16V209.76M331.88,200.16H333.28M331.88,209.76H333.28" fill="none" stroke="#555" stroke-width="0.4"/>
<path d="M342.77,200.46V210.06M342.07,200.46H343.47M342.07,210.06H343.47" fill="none" stroke="#555" stroke-width="0.4"/>
<path d="M352.96,199.76V209.36M352.26,199.76H353.66M352.26,209.36H353.66" fill="none" stroke="#555" stroke-width="0.4"/>
<path d="M363.15,200.66V210.26M362.45,200.66H363.85M362.45,210.26H363.85" fill="none" stroke="#555" stroke-width="0.4"/>
<path d="M373.34,202.9V211.22M372.64,202.9H374.04M372.64,211.22H374.04" fill="none" stroke="#555" stroke-width="0.4"/>
<path d="M383.53,201.52V210.8M382.83,201.52H384.23M382.83,210.8H384.23" fill="none" stroke="#555" stroke-width="0.4"/>
<path d="M393.72,198.16V207.76M393.02,198.16H394.42M393.02,207.76H394.42" fill="none" stroke="#555" stroke-width="0.4"/>
<path d="M403.91,194.36V203.96M403.21,194.36H404.61M403.21,203.96H404.61" fill="none" stroke="#555" stroke-width="0.4"/>
<text transform="translate(304.1,215.36) rotate(-90)" font-size="2.8" font-weight="bold" text-anchor="middle" fill="#333">0.0</text>
<text transform="translate(304.1,209.86) rotate(-90)" font-size="2.8" font-weight="bold" text-anchor="middle" fill="#333">0.5</text>
<text transform="translate(304.1,204.36) rotate(-90)" font-size="2.8" font-weight="bold" text-anchor="middle" fill="#333">1.0</text>
<text transform="translate(304.1,198.86) rotate(-90)" font-size="2.8" font-weight="bold" text-anchor="middle" fill="#333">1.5</text>
<text transform="translate(304.1,193.36) rotate(-90)" font-size="2.8" font-weight="bold" text-anchor="middle" fill="#333">2.0</text>
<text transform="translate(304.1,187.86) rotate(-90)" font-size="2.8" font-weight="bold" text-anchor="middle" fill="#333">2.5</text>
<text transform="translate(300.2,193.36) rotate(-90)" font-size="3.2" font-weight="bold" text-anchor="middle" fill="#333" textLength="37.5" lengthAdjust="spacingAndGlyphs">Relative unemployment</text>
<text x="307.1" y="219.26" font-size="2.5" text-anchor="middle" fill="#444">0.0</text>
<text x="317.29" y="219.26" font-size="2.5" text-anchor="middle" fill="#444">0.1</text>
<text x="327.48" y="219.26" font-size="2.5" text-anchor="middle" fill="#444">0.2</text>
<text x="337.67" y="219.26" font-size="2.5" text-anchor="middle" fill="#444">0.3</text>
<text x="347.86" y="219.26" font-size="2.5" text-anchor="middle" fill="#444">0.4</text>
<text x="358.05" y="219.26" font-size="2.5" text-anchor="middle" fill="#444">0.5</text>
<text x="368.24" y="219.26" font-size="2.5" text-anchor="middle" fill="#444">0.6</text>
<text x="378.43" y="219.26" font-size="2.5" text-anchor="middle" fill="#444">0.7</text>
<text x="388.62" y="219.26" font-size="2.5" text-anchor="middle" fill="#444">0.8</text>
<text x="398.81" y="219.26" font-size="2.5" text-anchor="middle" fill="#444">0.9</text>
<text x="409" y="219.26" font-size="2.5" text-anchor="middle" fill="#444">1.0</text>
<text x="327.9" y="222.41" font-size="2.5" font-weight="bold" fill="#333" textLength="60" lengthAdjust="spacingAndGlyphs">Quantile/decile in the reference distribution</text>
<rect x="321.6" y="226.36" width="4.3" height="1.3" fill="#888" stroke="#555" stroke-width="0.3"/>
<text x="327.5" y="227.66" font-size="2.2" font-weight="bold" fill="#333" textLength="37.5" lengthAdjust="spacingAndGlyphs">Grade-specific rtest in present vs.</text>
<line x1="321.6" y1="229.76" x2="325.9" y2="229.76" stroke="#555" stroke-width="0.4"/>
<text x="327.5" y="230.36" font-size="2.2" font-weight="bold" fill="#333" textLength="16" lengthAdjust="spacingAndGlyphs">Relative to city</text>
<line x1="366" y1="227.06" x2="369.5" y2="227.06" stroke="#555" stroke-width="0.4" stroke-dasharray="0.8 0.5"/>
<text x="370.5" y="227.66" font-size="2.2" font-weight="bold" fill="#333" textLength="26" lengthAdjust="spacingAndGlyphs">95% CI (lower bound)</text>
<line x1="366" y1="229.76" x2="369.5" y2="229.76" stroke="#555" stroke-width="0.4" stroke-dasharray="0.3 0.4"/>
<text x="370.5" y="230.36" font-size="2.2" font-weight="bold" fill="#333" textLength="26.5" lengthAdjust="spacingAndGlyphs">95% CI (upper bound)</text>
<text class="h" x="206.3" y="244.1" font-size="9.35" text-anchor="middle" fill="#1a1a1a" stroke="#1a1a1a" stroke-width="0.12">Italy</text>
<line x1="13.1" y1="284.59" x2="115" y2="284.59" stroke="#f2f2f2" stroke-width="0.45" stroke-dasharray="0.6 0.4"/>
<line x1="13.1" y1="267.19" x2="115" y2="267.19" stroke="#f2f2f2" stroke-width="0.45" stroke-dasharray="0.6 0.4"/>
<line x1="13.1" y1="258.49" x2="115" y2="258.49" stroke="#f2f2f2" stroke-width="0.45" stroke-dasharray="0.6 0.4"/>
<line x1="13.1" y1="249.79" x2="115" y2="249.79" stroke="#f2f2f2" stroke-width="0.45" stroke-dasharray="0.6 0.4"/>
<rect x="13.1" y="272.79" width="10.19" height="20.5" fill="#c0c0c0"/>
<rect x="23.29" y="274.19" width="10.19" height="19.1" fill="#c0c0c0"/>
<rect x="33.48" y="275.89" width="10.19" height="17.4" fill="#c0c0c0"/>
<rect x="43.67" y="275.89" width="10.19" height="17.4" fill="#c0c0c0"/>
<rect x="53.86" y="277.29" width="10.19" height="16" fill="#c0c0c0"/>
<rect x="64.05" y="278.39" width="10.19" height="14.9" fill="#c0c0c0"/>
<rect x="74.24" y="275.19" width="10.19" height="18.1" fill="#c0c0c0"/>
<rect x="84.43" y="276.89" width="10.19" height="16.4" fill="#c0c0c0"/>
<rect x="94.62" y="278.59" width="10.19" height="14.7" fill="#c0c0c0"/>
<rect x="104.81" y="277.99" width="10.19" height="15.3" fill="#c0c0c0"/>
<path d="M13.1,293.29V272.79H23.29V293.29" fill="none" stroke="#666" stroke-width="0.45"/>
<path d="M23.29,293.29V274.19H33.48V293.29" fill="none" stroke="#666" stroke-width="0.45"/>
<path d="M33.48,293.29V275.89H43.67V293.29" fill="none" stroke="#666" stroke-width="0.45"/>
<path d="M43.67,293.29V275.89H53.86V293.29" fill="none" stroke="#666" stroke-width="0.45"/>
<path d="M53.86,293.29V277.29H64.05V293.29" fill="none" stroke="#666" stroke-width="0.45"/>
<path d="M64.05,293.29V278.39H74.24V293.29" fill="none" stroke="#666" stroke-width="0.45"/>
<path d="M74.24,293.29V275.19H84.43V293.29" fill="none" stroke="#666" stroke-width="0.45"/>
<path d="M84.43,293.29V276.89H94.62V293.29" fill="none" stroke="#666" stroke-width="0.45"/>
<path d="M94.62,293.29V278.59H104.81V293.29" fill="none" stroke="#666" stroke-width="0.45"/>
<path d="M104.81,293.29V277.99H115V293.29" fill="none" stroke="#666" stroke-width="0.45"/>
<line x1="13.1" y1="293.79" x2="115" y2="293.79" stroke="#ddd" stroke-width="0.6"/>
<line x1="11.1" y1="275.89" x2="115" y2="275.89" stroke="#c4c4c4" stroke-width="0.9"/>
<polyline points="13.1,269.99 14.8,270.33 16.5,270.53 18.2,270.64 19.89,270.81 21.59,271.1 23.29,271.46 24.99,271.81 26.69,272.08 28.38,272.18 30.08,272.31 31.78,272.63 33.48,273.04 35.18,273.45 36.88,273.76 38.57,273.89 40.27,273.89 41.97,273.89 43.67,273.89 45.37,273.89 47.07,273.89 48.77,273.89 50.46,273.99 52.16,274.25 53.86,274.59 55.56,274.93 57.26,275.19 58.95,275.29 60.65,275.37 62.35,275.58 64.05,275.84 65.75,276.1 67.45,276.31 69.14,276.39 70.84,276.15 72.54,275.56 74.24,274.79 75.94,274.02 77.64,273.43 79.33,273.19 81.03,273.32 82.73,273.63 84.43,274.04 86.13,274.45 87.83,274.76 89.52,274.89 91.22,275.02 92.92,275.33 94.62,275.74 96.32,276.15 98.02,276.46 99.71,276.58 101.41,276.54 103.11,276.42 104.81,276.26 106.51,276.1 108.21,275.95 109.9,275.84 111.6,275.73 113.3,275.53 115,275.19" fill="none" stroke="#888" stroke-width="0.4" stroke-dasharray="1.2 0.6"/>
<polyline points="13.1,275.59 14.8,275.25 16.5,275.05 18.2,274.94 19.89,274.98 21.59,275.2 23.29,275.52 24.99,275.84 26.69,276.1 28.38,276.2 30.08,276.32 31.78,276.63 33.48,277.04 35.18,277.45 36.88,277.76 38.57,277.89 40.27,277.89 41.97,277.89 43.67,277.89 45.37,277.89 47.07,277.89 48.77,277.89 50.46,277.99 52.16,278.25 53.86,278.59 55.56,278.93 57.26,279.19 58.95,279.29 60.65,279.37 62.35,279.58 64.05,279.84 65.75,280.1 67.45,280.31 69.14,280.39 70.84,280.15 72.54,279.56 74.24,278.79 75.94,278.02 77.64,277.43 79.33,277.19 81.03,277.32 82.73,277.63 84.43,278.04 86.13,278.45 87.83,278.76 89.52,278.89 91.22,279.02 92.92,279.33 94.62,279.74 96.32,280.15 98.02,280.47 99.71,280.6 101.41,280.55 103.11,280.45 104.81,280.32 106.51,280.2 108.21,280.12 109.9,280.14 111.6,280.25 113.3,280.45 115,280.79" fill="none" stroke="#888" stroke-width="0.4" stroke-dasharray="1.2 0.6"/>
<polyline points="13.1,272.79 14.8,272.79 16.5,272.79 18.2,272.79 19.89,272.89 21.59,273.15 23.29,273.49 24.99,273.83 26.69,274.09 28.38,274.19 30.08,274.32 31.78,274.63 33.48,275.04 35.18,275.45 36.88,275.76 38.57,275.89 40.27,275.89 41.97,275.89 43.67,275.89 45.37,275.89 47.07,275.89 48.77,275.89 50.46,275.99 52.16,276.25 53.86,276.59 55.56,276.93 57.26,277.19 58.95,277.29 60.65,277.37 62.35,277.58 64.05,277.84 65.75,278.1 67.45,278.31 69.14,278.39 70.84,278.15 72.54,277.56 74.24,276.79 75.94,276.02 77.64,275.43 79.33,275.19 81.03,275.32 82.73,275.63 84.43,276.04 86.13,276.45 87.83,276.76 89.52,276.89 91.22,277.02 92.92,277.33 94.62,277.74 96.32,278.15 98.02,278.46 99.71,278.59 101.41,278.55 103.11,278.43 104.81,278.29 106.51,278.15 108.21,278.03 109.9,277.99 111.6,277.99 113.3,277.99 115,277.99" fill="none" stroke="#3a3a3a" stroke-width="0.6" stroke-linejoin="round"/>
<path d="M18.2,269.39V276.19M17.5,269.39H18.89M17.5,276.19H18.89" fill="none" stroke="#555" stroke-width="0.4"/>
<path d="M28.38,270.79V277.59M27.68,270.79H29.08M27.68,277.59H29.08" fill="none" stroke="#555" stroke-width="0.4"/>
<path d="M38.57,272.49V279.29M37.87,272.49H39.27M37.87,279.29H39.27" fill="none" stroke="#555" stroke-width="0.4"/>
<path d="M48.77,272.49V279.29M48.06,272.49H49.47M48.06,279.29H49.47" fill="none" stroke="#555" stroke-width="0.4"/>
<path d="M58.95,273.89V280.69M58.25,273.89H59.66M58.25,280.69H59.66" fill="none" stroke="#555" stroke-width="0.4"/>
<path d="M69.14,274.99V281.79M68.44,274.99H69.84M68.44,281.79H69.84" fill="none" stroke="#555" stroke-width="0.4"/>
<path d="M79.33,271.79V278.59M78.63,271.79H80.03M78.63,278.59H80.03" fill="none" stroke="#555" stroke-width="0.4"/>
<path d="M89.52,273.49V280.29M88.82,273.49H90.22M88.82,280.29H90.22" fill="none" stroke="#555" stroke-width="0.4"/>
<path d="M99.71,275.19V281.99M99.01,275.19H100.41M99.01,281.99H100.41" fill="none" stroke="#555" stroke-width="0.4"/>
<path d="M109.9,274.59V281.39M109.2,274.59H110.6M109.2,281.39H110.6" fill="none" stroke="#555" stroke-width="0.4"/>
<text transform="translate(10.1,293.79) rotate(-90)" font-size="2.8" font-weight="bold" text-anchor="middle" fill="#333">0.0</text>
<text transform="translate(10.1,285.09) rotate(-90)" font-size="2.8" font-weight="bold" text-anchor="middle" fill="#333">0.5</text>
<text transform="translate(10.1,276.39) rotate(-90)" font-size="2.8" font-weight="bold" text-anchor="middle" fill="#333">1.0</text>
<text transform="translate(10.1,267.69) rotate(-90)" font-size="2.8" font-weight="bold" text-anchor="middle" fill="#333">1.5</text>
<text transform="translate(10.1,258.99) rotate(-90)" font-size="2.8" font-weight="bold" text-anchor="middle" fill="#333">2.0</text>
<text transform="translate(10.1,250.29) rotate(-90)" font-size="2.8" font-weight="bold" text-anchor="middle" fill="#333">2.5</text>
<text transform="translate(6.2,271.79) rotate(-90)" font-size="3.2" font-weight="bold" text-anchor="middle" fill="#333" textLength="37.5" lengthAdjust="spacingAndGlyphs">Relative unemployment</text>
<text x="13.1" y="297.69" font-size="2.5" text-anchor="middle" fill="#444">0.0</text>
<text x="23.29" y="297.69" font-size="2.5" text-anchor="middle" fill="#444">0.1</text>
<text x="33.48" y="297.69" font-size="2.5" text-anchor="middle" fill="#444">0.2</text>
<text x="43.67" y="297.69" font-size="2.5" text-anchor="middle" fill="#444">0.3</text>
<text x="53.86" y="297.69" font-size="2.5" text-anchor="middle" fill="#444">0.4</text>
<text x="64.05" y="297.69" font-size="2.5" text-anchor="middle" fill="#444">0.5</text>
<text x="74.24" y="297.69" font-size="2.5" text-anchor="middle" fill="#444">0.6</text>
<text x="84.43" y="297.69" font-size="2.5" text-anchor="middle" fill="#444">0.7</text>
<text x="94.62" y="297.69" font-size="2.5" text-anchor="middle" fill="#444">0.8</text>
<text x="104.81" y="297.69" font-size="2.5" text-anchor="middle" fill="#444">0.9</text>
<text x="115" y="297.69" font-size="2.5" text-anchor="middle" fill="#444">1.0</text>
<text x="33.9" y="300.84" font-size="2.5" font-weight="bold" fill="#333" textLength="60" lengthAdjust="spacingAndGlyphs">Quantile/decile in the reference distribution</text>
<rect x="27.6" y="304.79" width="4.3" height="1.3" fill="#888" stroke="#555" stroke-width="0.3"/>
<text x="33.5" y="306.09" font-size="2.2" font-weight="bold" fill="#333" textLength="37.5" lengthAdjust="spacingAndGlyphs">Grade-specific rtest in present vs.</text>
<line x1="27.6" y1="308.19" x2="31.9" y2="308.19" stroke="#555" stroke-width="0.4"/>
<text x="33.5" y="308.79" font-size="2.2" font-weight="bold" fill="#333" textLength="16" lengthAdjust="spacingAndGlyphs">Relative to city</text>
<line x1="72" y1="305.49" x2="75.5" y2="305.49" stroke="#555" stroke-width="0.4" stroke-dasharray="0.8 0.5"/>
<text x="76.5" y="306.09" font-size="2.2" font-weight="bold" fill="#333" textLength="26" lengthAdjust="spacingAndGlyphs">95% CI (lower bound)</text>
<line x1="72" y1="308.19" x2="75.5" y2="308.19" stroke="#555" stroke-width="0.4" stroke-dasharray="0.3 0.4"/>
<text x="76.5" y="308.79" font-size="2.2" font-weight="bold" fill="#333" textLength="26.5" lengthAdjust="spacingAndGlyphs">95% CI (upper bound)</text>
<line x1="160.1" y1="284.59" x2="262" y2="284.59" stroke="#f2f2f2" stroke-width="0.45" stroke-dasharray="0.6 0.4"/>
<line x1="160.1" y1="267.19" x2="262" y2="267.19" stroke="#f2f2f2" stroke-width="0.45" stroke-dasharray="0.6 0.4"/>
<line x1="160.1" y1="258.49" x2="262" y2="258.49" stroke="#f2f2f2" stroke-width="0.45" stroke-dasharray="0.6 0.4"/>
<line x1="160.1" y1="249.79" x2="262" y2="249.79" stroke="#f2f2f2" stroke-width="0.45" stroke-dasharray="0.6 0.4"/>
<rect x="160.1" y="273.14" width="10.19" height="20.15" fill="#c0c0c0"/>
<rect x="170.29" y="273.94" width="10.19" height="19.35" fill="#c0c0c0"/>
<rect x="180.48" y="276.29" width="10.19" height="17" fill="#c0c0c0"/>
<rect x="190.67" y="276.29" width="10.19" height="17" fill="#c0c0c0"/>
<rect x="200.86" y="276.84" width="10.19" height="16.45" fill="#c0c0c0"/>
<rect x="211.05" y="277.34" width="10.19" height="15.95" fill="#c0c0c0"/>
<rect x="221.24" y="276.84" width="10.19" height="16.45" fill="#c0c0c0"/>
<rect x="231.43" y="277.34" width="10.19" height="15.95" fill="#c0c0c0"/>
<rect x="241.62" y="278.14" width="10.19" height="15.15" fill="#c0c0c0"/>
<rect x="251.81" y="277.34" width="10.19" height="15.95" fill="#c0c0c0"/>
<path d="M160.1,293.29V273.14H170.29V293.29" fill="none" stroke="#666" stroke-width="0.45"/>
<path d="M170.29,293.29V273.94H180.48V293.29" fill="none" stroke="#666" stroke-width="0.45"/>
<path d="M180.48,293.29V276.29H190.67V293.29" fill="none" stroke="#666" stroke-width="0.45"/>
<path d="M190.67,293.29V276.29H200.86V293.29" fill="none" stroke="#666" stroke-width="0.45"/>
<path d="M200.86,293.29V276.84H211.05V293.29" fill="none" stroke="#666" stroke-width="0.45"/>
<path d="M211.05,293.29V277.34H221.24V293.29" fill="none" stroke="#666" stroke-width="0.45"/>
<path d="M221.24,293.29V276.84H231.43V293.29" fill="none" stroke="#666" stroke-width="0.45"/>
<path d="M231.43,293.29V277.34H241.62V293.29" fill="none" stroke="#666" stroke-width="0.45"/>
<path d="M241.62,293.29V278.14H251.81V293.29" fill="none" stroke="#666" stroke-width="0.45"/>
<path d="M251.81,293.29V277.34H262V293.29" fill="none" stroke="#666" stroke-width="0.45"/>
<line x1="160.1" y1="293.79" x2="262" y2="293.79" stroke="#ddd" stroke-width="0.6"/>
<line x1="158.1" y1="275.89" x2="262" y2="275.89" stroke="#c4c4c4" stroke-width="0.9"/>
<polyline points="160.1,270.84 161.8,271.18 163.5,271.38 165.19,271.49 166.89,271.61 168.59,271.8 170.29,272.01 171.99,272.22 173.69,272.37 175.38,272.43 177.08,272.61 178.78,273.05 180.48,273.61 182.18,274.18 183.88,274.62 185.57,274.79 187.27,274.79 188.97,274.79 190.67,274.79 192.37,274.79 194.07,274.79 195.76,274.79 197.46,274.83 199.16,274.93 200.86,275.06 202.56,275.2 204.26,275.3 205.95,275.34 207.65,275.38 209.35,275.47 211.05,275.59 212.75,275.71 214.45,275.8 216.14,275.84 217.84,275.8 219.54,275.71 221.24,275.59 222.94,275.47 224.64,275.38 226.33,275.34 228.03,275.38 229.73,275.47 231.43,275.59 233.13,275.71 234.83,275.8 236.52,275.84 238.22,275.9 239.92,276.05 241.62,276.24 243.32,276.43 245.02,276.58 246.71,276.63 248.41,276.57 250.11,276.42 251.81,276.21 253.51,276 255.21,275.81 256.9,275.69 258.6,275.58 260.3,275.38 262,275.04" fill="none" stroke="#888" stroke-width="0.4" stroke-dasharray="1.2 0.6"/>
<polyline points="160.1,275.44 161.8,275.1 163.5,274.9 165.19,274.79 166.89,274.79 168.59,274.9 170.29,275.07 171.99,275.25 173.69,275.39 175.38,275.45 177.08,275.62 178.78,276.05 180.48,276.62 182.18,277.18 183.88,277.62 185.57,277.79 187.27,277.79 188.97,277.79 190.67,277.79 192.37,277.79 194.07,277.79 195.76,277.79 197.46,277.83 199.16,277.93 200.86,278.07 202.56,278.2 204.26,278.3 205.95,278.34 207.65,278.38 209.35,278.47 211.05,278.59 212.75,278.71 214.45,278.8 216.14,278.84 217.84,278.8 219.54,278.71 221.24,278.59 222.94,278.47 224.64,278.38 226.33,278.34 228.03,278.38 229.73,278.47 231.43,278.59 233.13,278.71 234.83,278.8 236.52,278.84 238.22,278.9 239.92,279.05 241.62,279.24 243.32,279.43 245.02,279.58 246.71,279.65 248.41,279.59 250.11,279.45 251.81,279.27 253.51,279.1 255.21,278.99 256.9,278.99 258.6,279.1 260.3,279.3 262,279.64" fill="none" stroke="#888" stroke-width="0.4" stroke-dasharray="1.2 0.6"/>
<polyline points="160.1,273.14 161.8,273.14 163.5,273.14 165.19,273.14 166.89,273.2 168.59,273.35 170.29,273.54 171.99,273.73 173.69,273.88 175.38,273.94 177.08,274.11 178.78,274.55 180.48,275.12 182.18,275.68 183.88,276.12 185.57,276.29 187.27,276.29 188.97,276.29 190.67,276.29 192.37,276.29 194.07,276.29 195.76,276.29 197.46,276.33 199.16,276.43 200.86,276.56 202.56,276.7 204.26,276.8 205.95,276.84 207.65,276.88 209.35,276.97 211.05,277.09 212.75,277.21 214.45,277.3 216.14,277.34 217.84,277.3 219.54,277.21 221.24,277.09 222.94,276.97 224.64,276.88 226.33,276.84 228.03,276.88 229.73,276.97 231.43,277.09 233.13,277.21 234.83,277.3 236.52,277.34 238.22,277.4 239.92,277.55 241.62,277.74 243.32,277.93 245.02,278.08 246.71,278.14 248.41,278.08 250.11,277.93 251.81,277.74 253.51,277.55 255.21,277.4 256.9,277.34 258.6,277.34 260.3,277.34 262,277.34" fill="none" stroke="#3a3a3a" stroke-width="0.6" stroke-linejoin="round"/>
<path d="M165.19,270.44V275.84M164.5,270.44H165.89M164.5,275.84H165.89" fill="none" stroke="#555" stroke-width="0.4"/>
<path d="M175.38,271.24V276.64M174.69,271.24H176.08M174.69,276.64H176.08" fill="none" stroke="#555" stroke-width="0.4"/>
<path d="M185.57,273.59V278.99M184.88,273.59H186.27M184.88,278.99H186.27" fill="none" stroke="#555" stroke-width="0.4"/>
<path d="M195.76,273.59V278.99M195.06,273.59H196.46M195.06,278.99H196.46" fill="none" stroke="#555" stroke-width="0.4"/>
<path d="M205.95,274.14V279.54M205.25,274.14H206.65M205.25,279.54H206.65" fill="none" stroke="#555" stroke-width="0.4"/>
<path d="M216.14,274.64V280.04M215.44,274.64H216.84M215.44,280.04H216.84" fill="none" stroke="#555" stroke-width="0.4"/>
<path d="M226.33,274.14V279.54M225.63,274.14H227.03M225.63,279.54H227.03" fill="none" stroke="#555" stroke-width="0.4"/>
<path d="M236.52,274.64V280.04M235.82,274.64H237.22M235.82,280.04H237.22" fill="none" stroke="#555" stroke-width="0.4"/>
<path d="M246.71,275.44V280.84M246.01,275.44H247.41M246.01,280.84H247.41" fill="none" stroke="#555" stroke-width="0.4"/>
<path d="M256.9,274.64V280.04M256.2,274.64H257.6M256.2,280.04H257.6" fill="none" stroke="#555" stroke-width="0.4"/>
<text transform="translate(157.1,293.79) rotate(-90)" font-size="2.8" font-weight="bold" text-anchor="middle" fill="#333">0.0</text>
<text transform="translate(157.1,285.09) rotate(-90)" font-size="2.8" font-weight="bold" text-anchor="middle" fill="#333">0.5</text>
<text transform="translate(157.1,276.39) rotate(-90)" font-size="2.8" font-weight="bold" text-anchor="middle" fill="#333">1.0</text>
<text transform="translate(157.1,267.69) rotate(-90)" font-size="2.8" font-weight="bold" text-anchor="middle" fill="#333">1.5</text>
<text transform="translate(157.1,258.99) rotate(-90)" font-size="2.8" font-weight="bold" text-anchor="middle" fill="#333">2.0</text>
<text transform="translate(157.1,250.29) rotate(-90)" font-size="2.8" font-weight="bold" text-anchor="middle" fill="#333">2.5</text>
<text transform="translate(153.2,271.79) rotate(-90)" font-size="3.2" font-weight="bold" text-anchor="middle" fill="#333" textLength="37.5" lengthAdjust="spacingAndGlyphs">Relative unemployment</text>
<text x="160.1" y="297.69" font-size="2.5" text-anchor="middle" fill="#444">0.0</text>
<text x="170.29" y="297.69" font-size="2.5" text-anchor="middle" fill="#444">0.1</text>
<text x="180.48" y="297.69" font-size="2.5" text-anchor="middle" fill="#444">0.2</text>
<text x="190.67" y="297.69" font-size="2.5" text-anchor="middle" fill="#444">0.3</text>
<text x="200.86" y="297.69" font-size="2.5" text-anchor="middle" fill="#444">0.4</text>
<text x="211.05" y="297.69" font-size="2.5" text-anchor="middle" fill="#444">0.5</text>
<text x="221.24" y="297.69" font-size="2.5" text-anchor="middle" fill="#444">0.6</text>
<text x="231.43" y="297.69" font-size="2.5" text-anchor="middle" fill="#444">0.7</text>
<text x="241.62" y="297.69" font-size="2.5" text-anchor="middle" fill="#444">0.8</text>
<text x="251.81" y="297.69" font-size="2.5" text-anchor="middle" fill="#444">0.9</text>
<text x="262" y="297.69" font-size="2.5" text-anchor="middle" fill="#444">1.0</text>
<text x="180.9" y="300.84" font-size="2.5" font-weight="bold" fill="#333" textLength="60" lengthAdjust="spacingAndGlyphs">Quantile/decile in the reference distribution</text>
<rect x="174.6" y="304.79" width="4.3" height="1.3" fill="#888" stroke="#555" stroke-width="0.3"/>
<text x="180.5" y="306.09" font-size="2.2" font-weight="bold" fill="#333" textLength="37.5" lengthAdjust="spacingAndGlyphs">Grade-specific rtest in present vs.</text>
<line x1="174.6" y1="308.19" x2="178.9" y2="308.19" stroke="#555" stroke-width="0.4"/>
<text x="180.5" y="308.79" font-size="2.2" font-weight="bold" fill="#333" textLength="16" lengthAdjust="spacingAndGlyphs">Relative to city</text>
<line x1="219" y1="305.49" x2="222.5" y2="305.49" stroke="#555" stroke-width="0.4" stroke-dasharray="0.8 0.5"/>
<text x="223.5" y="306.09" font-size="2.2" font-weight="bold" fill="#333" textLength="26" lengthAdjust="spacingAndGlyphs">95% CI (lower bound)</text>
<line x1="219" y1="308.19" x2="222.5" y2="308.19" stroke="#555" stroke-width="0.4" stroke-dasharray="0.3 0.4"/>
<text x="223.5" y="308.79" font-size="2.2" font-weight="bold" fill="#333" textLength="26.5" lengthAdjust="spacingAndGlyphs">95% CI (upper bound)</text>
<line x1="307.1" y1="284.59" x2="409" y2="284.59" stroke="#f2f2f2" stroke-width="0.45" stroke-dasharray="0.6 0.4"/>
<line x1="307.1" y1="267.19" x2="409" y2="267.19" stroke="#f2f2f2" stroke-width="0.45" stroke-dasharray="0.6 0.4"/>
<line x1="307.1" y1="258.49" x2="409" y2="258.49" stroke="#f2f2f2" stroke-width="0.45" stroke-dasharray="0.6 0.4"/>
<line x1="307.1" y1="249.79" x2="409" y2="249.79" stroke="#f2f2f2" stroke-width="0.45" stroke-dasharray="0.6 0.4"/>
<rect x="307.1" y="275.69" width="10.19" height="17.6" fill="#c0c0c0"/>
<rect x="317.29" y="275.59" width="10.19" height="17.7" fill="#c0c0c0"/>
<rect x="327.48" y="277.09" width="10.19" height="16.2" fill="#c0c0c0"/>
<rect x="337.67" y="275.19" width="10.19" height="18.1" fill="#c0c0c0"/>
<rect x="347.86" y="276.59" width="10.19" height="16.7" fill="#c0c0c0"/>
<rect x="358.05" y="278.89" width="10.19" height="14.4" fill="#c0c0c0"/>
<rect x="368.24" y="272.09" width="10.19" height="21.2" fill="#c0c0c0"/>
<rect x="378.43" y="276.09" width="10.19" height="17.2" fill="#c0c0c0"/>
<rect x="388.62" y="278.39" width="10.19" height="14.9" fill="#c0c0c0"/>
<rect x="398.81" y="276.59" width="10.19" height="16.7" fill="#c0c0c0"/>
<path d="M307.1,293.29V275.69H317.29V293.29" fill="none" stroke="#666" stroke-width="0.45"/>
<path d="M317.29,293.29V275.59H327.48V293.29" fill="none" stroke="#666" stroke-width="0.45"/>
<path d="M327.48,293.29V277.09H337.67V293.29" fill="none" stroke="#666" stroke-width="0.45"/>
<path d="M337.67,293.29V275.19H347.86V293.29" fill="none" stroke="#666" stroke-width="0.45"/>
<path d="M347.86,293.29V276.59H358.05V293.29" fill="none" stroke="#666" stroke-width="0.45"/>
<path d="M358.05,293.29V278.89H368.24V293.29" fill="none" stroke="#666" stroke-width="0.45"/>
<path d="M368.24,293.29V272.09H378.43V293.29" fill="none" stroke="#666" stroke-width="0.45"/>
<path d="M378.43,293.29V276.09H388.62V293.29" fill="none" stroke="#666" stroke-width="0.45"/>
<path d="M388.62,293.29V278.39H398.81V293.29" fill="none" stroke="#666" stroke-width="0.45"/>
<path d="M398.81,293.29V276.59H409V293.29" fill="none" stroke="#666" stroke-width="0.45"/>
<line x1="307.1" y1="293.79" x2="409" y2="293.79" stroke="#ddd" stroke-width="0.6"/>
<line x1="305.1" y1="275.89" x2="409" y2="275.89" stroke="#c4c4c4" stroke-width="0.9"/>
<polyline points="307.1,272.39 308.8,272.73 310.5,272.93 312.2,273.04 313.89,273.1 315.59,273.11 317.29,273.11 318.99,273.1 320.69,273.09 322.39,273.08 324.08,273.2 325.78,273.48 327.48,273.84 329.18,274.2 330.88,274.48 332.58,274.59 334.27,274.45 335.97,274.1 337.67,273.64 339.37,273.18 341.07,272.83 342.77,272.69 344.46,272.79 346.16,273.05 347.86,273.39 349.56,273.73 351.26,273.99 352.96,274.09 354.65,274.26 356.35,274.69 358.05,275.24 359.75,275.79 361.45,276.22 363.15,276.39 364.84,275.89 366.54,274.63 368.24,272.99 369.94,271.35 371.64,270.09 373.34,269.59 375.03,269.89 376.73,270.63 378.43,271.59 380.13,272.55 381.83,273.29 383.53,273.59 385.22,273.76 386.92,274.19 388.62,274.74 390.32,275.29 392.02,275.72 393.72,275.88 395.41,275.75 397.11,275.41 398.81,274.96 400.51,274.51 402.21,274.14 403.91,273.94 405.6,273.83 407.3,273.63 409,273.29" fill="none" stroke="#888" stroke-width="0.4" stroke-dasharray="1.2 0.6"/>
<polyline points="307.1,278.99 308.8,278.65 310.5,278.45 312.2,278.34 313.89,278.27 315.59,278.21 317.29,278.17 318.99,278.13 320.69,278.11 322.39,278.1 324.08,278.2 325.78,278.48 327.48,278.84 329.18,279.2 330.88,279.48 332.58,279.59 334.27,279.45 335.97,279.1 337.67,278.64 339.37,278.18 341.07,277.83 342.77,277.69 344.46,277.79 346.16,278.05 347.86,278.39 349.56,278.73 351.26,278.99 352.96,279.09 354.65,279.26 356.35,279.69 358.05,280.24 359.75,280.79 361.45,281.22 363.15,281.39 364.84,280.89 366.54,279.63 368.24,277.99 369.94,276.35 371.64,275.09 373.34,274.59 375.03,274.89 376.73,275.63 378.43,276.59 380.13,277.55 381.83,278.29 383.53,278.59 385.22,278.76 386.92,279.19 388.62,279.74 390.32,280.3 392.02,280.72 393.72,280.9 395.41,280.77 397.11,280.44 398.81,280.02 400.51,279.61 402.21,279.31 403.91,279.24 405.6,279.35 407.3,279.55 409,279.89" fill="none" stroke="#888" stroke-width="0.4" stroke-dasharray="1.2 0.6"/>
<polyline points="307.1,275.69 308.8,275.69 310.5,275.69 312.2,275.69 313.89,275.68 315.59,275.66 317.29,275.64 318.99,275.62 320.69,275.6 322.39,275.59 324.08,275.7 325.78,275.98 327.48,276.34 329.18,276.7 330.88,276.98 332.58,277.09 334.27,276.95 335.97,276.6 337.67,276.14 339.37,275.68 341.07,275.33 342.77,275.19 344.46,275.29 346.16,275.55 347.86,275.89 349.56,276.23 351.26,276.49 352.96,276.59 354.65,276.76 356.35,277.19 358.05,277.74 359.75,278.29 361.45,278.72 363.15,278.89 364.84,278.39 366.54,277.13 368.24,275.49 369.94,273.85 371.64,272.59 373.34,272.09 375.03,272.39 376.73,273.13 378.43,274.09 380.13,275.05 381.83,275.79 383.53,276.09 385.22,276.26 386.92,276.69 388.62,277.24 390.32,277.79 392.02,278.22 393.72,278.39 395.41,278.26 397.11,277.92 398.81,277.49 400.51,277.06 402.21,276.72 403.91,276.59 405.6,276.59 407.3,276.59 409,276.59" fill="none" stroke="#3a3a3a" stroke-width="0.6" stroke-linejoin="round"/>
<path d="M312.2,271.59V279.79M311.5,271.59H312.9M311.5,279.79H312.9" fill="none" stroke="#555" stroke-width="0.4"/>
<path d="M322.39,271.49V279.69M321.69,271.49H323.09M321.69,279.69H323.09" fill="none" stroke="#555" stroke-width="0.4"/>
<path d="M332.58,272.99V281.19M331.88,272.99H333.28M331.88,281.19H333.28" fill="none" stroke="#555" stroke-width="0.4"/>
<path d="M342.77,271.09V279.29M342.07,271.09H343.47M342.07,279.29H343.47" fill="none" stroke="#555" stroke-width="0.4"/>
<path d="M352.96,272.49V280.69M352.26,272.49H353.66M352.26,280.69H353.66" fill="none" stroke="#555" stroke-width="0.4"/>
<path d="M363.15,274.79V282.99M362.45,274.79H363.85M362.45,282.99H363.85" fill="none" stroke="#555" stroke-width="0.4"/>
<path d="M373.34,267.99V276.19M372.64,267.99H374.04M372.64,276.19H374.04" fill="none" stroke="#555" stroke-width="0.4"/>
<path d="M383.53,271.99V280.19M382.83,271.99H384.23M382.83,280.19H384.23" fill="none" stroke="#555" stroke-width="0.4"/>
<path d="M393.72,274.29V282.49M393.02,274.29H394.42M393.02,282.49H394.42" fill="none" stroke="#555" stroke-width="0.4"/>
<path d="M403.91,272.49V280.69M403.21,272.49H404.61M403.21,280.69H404.61" fill="none" stroke="#555" stroke-width="0.4"/>
<text transform="translate(304.1,293.79) rotate(-90)" font-size="2.8" font-weight="bold" text-anchor="middle" fill="#333">0.0</text>
<text transform="translate(304.1,285.09) rotate(-90)" font-size="2.8" font-weight="bold" text-anchor="middle" fill="#333">0.5</text>
<text transform="translate(304.1,276.39) rotate(-90)" font-size="2.8" font-weight="bold" text-anchor="middle" fill="#333">1.0</text>
<text transform="translate(304.1,267.69) rotate(-90)" font-size="2.8" font-weight="bold" text-anchor="middle" fill="#333">1.5</text>
<text transform="translate(304.1,258.99) rotate(-90)" font-size="2.8" font-weight="bold" text-anchor="middle" fill="#333">2.0</text>
<text transform="translate(304.1,250.29) rotate(-90)" font-size="2.8" font-weight="bold" text-anchor="middle" fill="#333">2.5</text>
<text transform="translate(300.2,271.79) rotate(-90)" font-size="3.2" font-weight="bold" text-anchor="middle" fill="#333" textLength="37.5" lengthAdjust="spacingAndGlyphs">Relative unemployment</text>
<text x="307.1" y="297.69" font-size="2.5" text-anchor="middle" fill="#444">0.0</text>
<text x="317.29" y="297.69" font-size="2.5" text-anchor="middle" fill="#444">0.1</text>
<text x="327.48" y="297.69" font-size="2.5" text-anchor="middle" fill="#444">0.2</text>
<text x="337.67" y="297.69" font-size="2.5" text-anchor="middle" fill="#444">0.3</text>
<text x="347.86" y="297.69" font-size="2.5" text-anchor="middle" fill="#444">0.4</text>
<text x="358.05" y="297.69" font-size="2.5" text-anchor="middle" fill="#444">0.5</text>
<text x="368.24" y="297.69" font-size="2.5" text-anchor="middle" fill="#444">0.6</text>
<text x="378.43" y="297.69" font-size="2.5" text-anchor="middle" fill="#444">0.7</text>
<text x="388.62" y="297.69" font-size="2.5" text-anchor="middle" fill="#444">0.8</text>
<text x="398.81" y="297.69" font-size="2.5" text-anchor="middle" fill="#444">0.9</text>
<text x="409" y="297.69" font-size="2.5" text-anchor="middle" fill="#444">1.0</text>
<text x="327.9" y="300.84" font-size="2.5" font-weight="bold" fill="#333" textLength="60" lengthAdjust="spacingAndGlyphs">Quantile/decile in the reference distribution</text>
<rect x="321.6" y="304.79" width="4.3" height="1.3" fill="#888" stroke="#555" stroke-width="0.3"/>
<text x="327.5" y="306.09" font-size="2.2" font-weight="bold" fill="#333" textLength="37.5" lengthAdjust="spacingAndGlyphs">Grade-specific rtest in present vs.</text>
<line x1="321.6" y1="308.19" x2="325.9" y2="308.19" stroke="#555" stroke-width="0.4"/>
<text x="327.5" y="308.79" font-size="2.2" font-weight="bold" fill="#333" textLength="16" lengthAdjust="spacingAndGlyphs">Relative to city</text>
<line x1="366" y1="305.49" x2="369.5" y2="305.49" stroke="#555" stroke-width="0.4" stroke-dasharray="0.8 0.5"/>
<text x="370.5" y="306.09" font-size="2.2" font-weight="bold" fill="#333" textLength="26" lengthAdjust="spacingAndGlyphs">95% CI (lower bound)</text>
<line x1="366" y1="308.19" x2="369.5" y2="308.19" stroke="#555" stroke-width="0.4" stroke-dasharray="0.3 0.4"/>
<text x="370.5" y="308.79" font-size="2.2" font-weight="bold" fill="#333" textLength="26.5" lengthAdjust="spacingAndGlyphs">95% CI (upper bound)</text>
<text class="h" x="206.3" y="323" font-size="9.35" text-anchor="middle" fill="#1a1a1a" stroke="#1a1a1a" stroke-width="0.12">Luxembourg</text>
<line x1="13.1" y1="363.02" x2="115" y2="363.02" stroke="#f2f2f2" stroke-width="0.45" stroke-dasharray="0.6 0.4"/>
<line x1="13.1" y1="345.62" x2="115" y2="345.62" stroke="#f2f2f2" stroke-width="0.45" stroke-dasharray="0.6 0.4"/>
<line x1="13.1" y1="336.92" x2="115" y2="336.92" stroke="#f2f2f2" stroke-width="0.45" stroke-dasharray="0.6 0.4"/>
<line x1="13.1" y1="328.22" x2="115" y2="328.22" stroke="#f2f2f2" stroke-width="0.45" stroke-dasharray="0.6 0.4"/>
<rect x="13.1" y="356.22" width="10.19" height="15.5" fill="#c0c0c0"/>
<rect x="23.29" y="358.12" width="10.19" height="13.6" fill="#c0c0c0"/>
<rect x="33.48" y="358.92" width="10.19" height="12.8" fill="#c0c0c0"/>
<rect x="43.67" y="360.22" width="10.19" height="11.5" fill="#c0c0c0"/>
<rect x="53.86" y="354.92" width="10.19" height="16.8" fill="#c0c0c0"/>
<rect x="64.05" y="358.02" width="10.19" height="13.7" fill="#c0c0c0"/>
<rect x="74.24" y="357.12" width="10.19" height="14.6" fill="#c0c0c0"/>
<rect x="84.43" y="354.32" width="10.19" height="17.4" fill="#c0c0c0"/>
<rect x="94.62" y="348.02" width="10.19" height="23.7" fill="#c0c0c0"/>
<rect x="104.81" y="339.02" width="10.19" height="32.7" fill="#c0c0c0"/>
<path d="M13.1,371.72V356.22H23.29V371.72" fill="none" stroke="#666" stroke-width="0.45"/>
<path d="M23.29,371.72V358.12H33.48V371.72" fill="none" stroke="#666" stroke-width="0.45"/>
<path d="M33.48,371.72V358.92H43.67V371.72" fill="none" stroke="#666" stroke-width="0.45"/>
<path d="M43.67,371.72V360.22H53.86V371.72" fill="none" stroke="#666" stroke-width="0.45"/>
<path d="M53.86,371.72V354.92H64.05V371.72" fill="none" stroke="#666" stroke-width="0.45"/>
<path d="M64.05,371.72V358.02H74.24V371.72" fill="none" stroke="#666" stroke-width="0.45"/>
<path d="M74.24,371.72V357.12H84.43V371.72" fill="none" stroke="#666" stroke-width="0.45"/>
<path d="M84.43,371.72V354.32H94.62V371.72" fill="none" stroke="#666" stroke-width="0.45"/>
<path d="M94.62,371.72V348.02H104.81V371.72" fill="none" stroke="#666" stroke-width="0.45"/>
<path d="M104.81,371.72V339.02H115V371.72" fill="none" stroke="#666" stroke-width="0.45"/>
<line x1="13.1" y1="372.22" x2="115" y2="372.22" stroke="#ddd" stroke-width="0.6"/>
<line x1="11.1" y1="354.32" x2="115" y2="354.32" stroke="#c4c4c4" stroke-width="0.9"/>
<polyline points="13.1,353.32 14.8,353.76 16.5,354.1 18.2,354.38 19.89,354.62 21.59,354.79 23.29,354.9 24.99,354.96 26.69,355.03 28.38,355.11 30.08,355.19 31.78,355.27 33.48,355.34 35.18,355.4 36.88,355.51 38.57,355.8 40.27,356.2 41.97,356.64 43.67,357.05 45.37,357.37 47.07,357.38 48.77,356.71 50.46,355.81 52.16,354.91 53.86,354.25 55.56,353.89 57.26,353.38 58.95,352.92 60.65,352.96 62.35,353.28 64.05,353.69 65.75,354.12 67.45,354.52 69.14,354.82 70.84,354.88 72.54,354.76 74.24,354.61 75.94,354.44 77.64,354.29 79.33,354.17 81.03,353.99 82.73,353.46 84.43,352.78 86.13,352.1 87.83,351.61 89.52,351.09 91.22,350.17 92.92,349.09 94.62,348.13 96.32,347.51 98.02,346.55 99.71,345.17 101.41,343.72 103.11,342.58 104.81,341.71 106.51,340.21 108.21,338.28 109.9,336.34 111.6,334.73 113.3,331.97 115,328.42" fill="none" stroke="#888" stroke-width="0.4" stroke-dasharray="1.2 0.6"/>
<polyline points="13.1,359.92 14.8,359.68 16.5,359.63 18.2,359.69 19.89,359.79 21.59,359.89 23.29,359.95 24.99,359.99 26.69,360.05 28.38,360.12 30.08,360.2 31.78,360.28 33.48,360.35 35.18,360.4 36.88,360.51 38.57,360.8 40.27,361.2 41.97,361.64 43.67,362.05 45.37,362.37 47.07,362.38 48.77,361.71 50.46,360.81 52.16,359.91 53.86,359.25 55.56,358.89 57.26,358.38 58.95,357.92 60.65,357.96 62.35,358.28 64.05,358.69 65.75,359.12 67.45,359.52 69.14,359.82 70.84,359.88 72.54,359.76 74.24,359.61 75.94,359.44 77.64,359.29 79.33,359.17 81.03,358.99 82.73,358.46 84.43,357.78 86.13,357.1 87.83,356.61 89.52,356.1 91.22,355.18 92.92,354.09 94.62,353.14 96.32,352.53 98.02,351.58 99.71,350.21 101.41,348.8 103.11,347.72 104.81,346.96 106.51,345.64 108.21,344.03 109.9,342.66 111.6,342.03 113.3,340.98 115,340.42" fill="none" stroke="#888" stroke-width="0.4" stroke-dasharray="1.2 0.6"/>
<polyline points="13.1,356.62 14.8,356.72 16.5,356.86 18.2,357.04 19.89,357.21 21.59,357.34 23.29,357.43 24.99,357.47 26.69,357.54 28.38,357.61 30.08,357.7 31.78,357.78 33.48,357.85 35.18,357.9 36.88,358.01 38.57,358.3 40.27,358.7 41.97,359.14 43.67,359.55 45.37,359.87 47.07,359.88 48.77,359.21 50.46,358.31 52.16,357.41 53.86,356.75 55.56,356.39 57.26,355.88 58.95,355.42 60.65,355.46 62.35,355.78 64.05,356.19 65.75,356.62 67.45,357.02 69.14,357.32 70.84,357.38 72.54,357.26 74.24,357.11 75.94,356.94 77.64,356.79 79.33,356.67 81.03,356.49 82.73,355.96 84.43,355.28 86.13,354.6 87.83,354.11 89.52,353.59 91.22,352.68 92.92,351.59 94.62,350.64 96.32,350.02 98.02,349.06 99.71,347.69 101.41,346.26 103.11,345.15 104.81,344.33 106.51,342.92 108.21,341.16 109.9,339.5 111.6,338.38 113.3,336.47 115,334.42" fill="none" stroke="#3a3a3a" stroke-width="0.6" stroke-linejoin="round"/>
<path d="M18.2,352.12V360.32M17.5,352.12H18.89M17.5,360.32H18.89" fill="none" stroke="#555" stroke-width="0.4"/>
<path d="M28.38,354.02V362.22M27.68,354.02H29.08M27.68,362.22H29.08" fill="none" stroke="#555" stroke-width="0.4"/>
<path d="M38.57,354.82V363.02M37.87,354.82H39.27M37.87,363.02H39.27" fill="none" stroke="#555" stroke-width="0.4"/>
<path d="M48.77,356.12V364.32M48.06,356.12H49.47M48.06,364.32H49.47" fill="none" stroke="#555" stroke-width="0.4"/>
<path d="M58.95,350.82V359.02M58.25,350.82H59.66M58.25,359.02H59.66" fill="none" stroke="#555" stroke-width="0.4"/>
<path d="M69.14,353.92V362.12M68.44,353.92H69.84M68.44,362.12H69.84" fill="none" stroke="#555" stroke-width="0.4"/>
<path d="M79.33,353.02V361.22M78.63,353.02H80.03M78.63,361.22H80.03" fill="none" stroke="#555" stroke-width="0.4"/>
<path d="M89.52,350.22V358.42M88.82,350.22H90.22M88.82,358.42H90.22" fill="none" stroke="#555" stroke-width="0.4"/>
<path d="M99.71,343.92V352.12M99.01,343.92H100.41M99.01,352.12H100.41" fill="none" stroke="#555" stroke-width="0.4"/>
<path d="M109.9,334.92V343.12M109.2,334.92H110.6M109.2,343.12H110.6" fill="none" stroke="#555" stroke-width="0.4"/>
<text transform="translate(10.1,372.22) rotate(-90)" font-size="2.8" font-weight="bold" text-anchor="middle" fill="#333">0.0</text>
<text transform="translate(10.1,363.52) rotate(-90)" font-size="2.8" font-weight="bold" text-anchor="middle" fill="#333">0.5</text>
<text transform="translate(10.1,354.82) rotate(-90)" font-size="2.8" font-weight="bold" text-anchor="middle" fill="#333">1.0</text>
<text transform="translate(10.1,346.12) rotate(-90)" font-size="2.8" font-weight="bold" text-anchor="middle" fill="#333">1.5</text>
<text transform="translate(10.1,337.42) rotate(-90)" font-size="2.8" font-weight="bold" text-anchor="middle" fill="#333">2.0</text>
<text transform="translate(10.1,328.72) rotate(-90)" font-size="2.8" font-weight="bold" text-anchor="middle" fill="#333">2.5</text>
<text transform="translate(6.2,350.22) rotate(-90)" font-size="3.2" font-weight="bold" text-anchor="middle" fill="#333" textLength="37.5" lengthAdjust="spacingAndGlyphs">Relative unemployment</text>
<text x="13.1" y="376.12" font-size="2.5" text-anchor="middle" fill="#444">0.0</text>
<text x="23.29" y="376.12" font-size="2.5" text-anchor="middle" fill="#444">0.1</text>
<text x="33.48" y="376.12" font-size="2.5" text-anchor="middle" fill="#444">0.2</text>
<text x="43.67" y="376.12" font-size="2.5" text-anchor="middle" fill="#444">0.3</text>
<text x="53.86" y="376.12" font-size="2.5" text-anchor="middle" fill="#444">0.4</text>
<text x="64.05" y="376.12" font-size="2.5" text-anchor="middle" fill="#444">0.5</text>
<text x="74.24" y="376.12" font-size="2.5" text-anchor="middle" fill="#444">0.6</text>
<text x="84.43" y="376.12" font-size="2.5" text-anchor="middle" fill="#444">0.7</text>
<text x="94.62" y="376.12" font-size="2.5" text-anchor="middle" fill="#444">0.8</text>
<text x="104.81" y="376.12" font-size="2.5" text-anchor="middle" fill="#444">0.9</text>
<text x="115" y="376.12" font-size="2.5" text-anchor="middle" fill="#444">1.0</text>
<text x="33.9" y="379.27" font-size="2.5" font-weight="bold" fill="#333" textLength="60" lengthAdjust="spacingAndGlyphs">Quantile/decile in the reference distribution</text>
<rect x="27.6" y="383.22" width="4.3" height="1.3" fill="#888" stroke="#555" stroke-width="0.3"/>
<text x="33.5" y="384.52" font-size="2.2" font-weight="bold" fill="#333" textLength="37.5" lengthAdjust="spacingAndGlyphs">Grade-specific rtest in present vs.</text>
<line x1="27.6" y1="386.62" x2="31.9" y2="386.62" stroke="#555" stroke-width="0.4"/>
<text x="33.5" y="387.22" font-size="2.2" font-weight="bold" fill="#333" textLength="16" lengthAdjust="spacingAndGlyphs">Relative to city</text>
<line x1="72" y1="383.92" x2="75.5" y2="383.92" stroke="#555" stroke-width="0.4" stroke-dasharray="0.8 0.5"/>
<text x="76.5" y="384.52" font-size="2.2" font-weight="bold" fill="#333" textLength="26" lengthAdjust="spacingAndGlyphs">95% CI (lower bound)</text>
<line x1="72" y1="386.62" x2="75.5" y2="386.62" stroke="#555" stroke-width="0.4" stroke-dasharray="0.3 0.4"/>
<text x="76.5" y="387.22" font-size="2.2" font-weight="bold" fill="#333" textLength="26.5" lengthAdjust="spacingAndGlyphs">95% CI (upper bound)</text>
<line x1="160.1" y1="363.02" x2="262" y2="363.02" stroke="#f2f2f2" stroke-width="0.45" stroke-dasharray="0.6 0.4"/>
<line x1="160.1" y1="345.62" x2="262" y2="345.62" stroke="#f2f2f2" stroke-width="0.45" stroke-dasharray="0.6 0.4"/>
<line x1="160.1" y1="336.92" x2="262" y2="336.92" stroke="#f2f2f2" stroke-width="0.45" stroke-dasharray="0.6 0.4"/>
<line x1="160.1" y1="328.22" x2="262" y2="328.22" stroke="#f2f2f2" stroke-width="0.45" stroke-dasharray="0.6 0.4"/>
<rect x="160.1" y="367.42" width="10.19" height="4.3" fill="#c0c0c0"/>
<rect x="170.29" y="361.92" width="10.19" height="9.8" fill="#c0c0c0"/>
<rect x="180.48" y="357.92" width="10.19" height="13.8" fill="#c0c0c0"/>
<rect x="190.67" y="357.82" width="10.19" height="13.9" fill="#c0c0c0"/>
<rect x="200.86" y="349.92" width="10.19" height="21.8" fill="#c0c0c0"/>
<rect x="211.05" y="353.12" width="10.19" height="18.6" fill="#c0c0c0"/>
<rect x="221.24" y="352.72" width="10.19" height="19" fill="#c0c0c0"/>
<rect x="231.43" y="351.92" width="10.19" height="19.8" fill="#c0c0c0"/>
<rect x="241.62" y="346.12" width="10.19" height="25.6" fill="#c0c0c0"/>
<rect x="251.81" y="348.82" width="10.19" height="22.9" fill="#c0c0c0"/>
<path d="M160.1,371.72V367.42H170.29V371.72" fill="none" stroke="#666" stroke-width="0.45"/>
<path d="M170.29,371.72V361.92H180.48V371.72" fill="none" stroke="#666" stroke-width="0.45"/>
<path d="M180.48,371.72V357.92H190.67V371.72" fill="none" stroke="#666" stroke-width="0.45"/>
<path d="M190.67,371.72V357.82H200.86V371.72" fill="none" stroke="#666" stroke-width="0.45"/>
<path d="M200.86,371.72V349.92H211.05V371.72" fill="none" stroke="#666" stroke-width="0.45"/>
<path d="M211.05,371.72V353.12H221.24V371.72" fill="none" stroke="#666" stroke-width="0.45"/>
<path d="M221.24,371.72V352.72H231.43V371.72" fill="none" stroke="#666" stroke-width="0.45"/>
<path d="M231.43,371.72V351.92H241.62V371.72" fill="none" stroke="#666" stroke-width="0.45"/>
<path d="M241.62,371.72V346.12H251.81V371.72" fill="none" stroke="#666" stroke-width="0.45"/>
<path d="M251.81,371.72V348.82H262V371.72" fill="none" stroke="#666" stroke-width="0.45"/>
<line x1="160.1" y1="372.22" x2="262" y2="372.22" stroke="#ddd" stroke-width="0.6"/>
<line x1="158.1" y1="354.32" x2="262" y2="354.32" stroke="#c4c4c4" stroke-width="0.9"/>
<polyline points="160.1,363.9 161.8,363.58 163.5,362.94 165.19,362.12 166.89,361.28 168.59,360.6 170.29,360.14 171.99,359.56 173.69,358.88 175.38,358.09 177.08,357.31 178.78,356.66 180.48,356.22 182.18,355.92 183.88,355.46 185.57,354.92 187.27,354.38 188.97,353.92 190.67,353.62 192.37,353.22 194.07,352.63 195.76,351.92 197.46,351.21 199.16,350.62 200.86,350.22 202.56,350.01 204.26,349.69 205.95,349.32 207.65,348.94 209.35,348.63 211.05,348.42 212.75,348.27 214.45,348.04 216.14,347.77 217.84,347.5 219.54,347.27 221.24,347.12 222.94,346.97 224.64,346.74 226.33,346.47 228.03,346.2 229.73,345.97 231.43,345.82 233.13,345.67 234.83,345.44 236.52,345.17 238.22,344.9 239.92,344.67 241.62,344.52 243.32,344.58 245.02,344.66 246.71,344.76 248.41,344.86 250.11,344.95 251.81,344.99 253.51,345.06 255.21,345.17 256.9,345.27 258.6,345.32 260.3,345.27 262,345.02" fill="none" stroke="#888" stroke-width="0.4" stroke-dasharray="1.2 0.6"/>
<polyline points="160.1,368.54 161.8,368.1 163.5,367.61 165.19,367.1 166.89,366.61 168.59,366.23 170.29,365.97 171.99,365.59 173.69,364.9 175.38,364.1 177.08,363.32 178.78,362.66 180.48,362.22 182.18,361.92 183.88,361.46 185.57,360.92 187.27,360.38 188.97,359.92 190.67,359.62 192.37,359.22 194.07,358.63 195.76,357.92 197.46,357.21 199.16,356.62 200.86,356.22 202.56,356.01 204.26,355.7 205.95,355.32 207.65,354.95 209.35,354.63 211.05,354.42 212.75,354.27 214.45,354.04 216.14,353.77 217.84,353.5 219.54,353.27 221.24,353.12 222.94,352.97 224.64,352.74 226.33,352.47 228.03,352.2 229.73,351.97 231.43,351.82 233.13,351.67 234.83,351.44 236.52,351.17 238.22,350.9 239.92,350.67 241.62,350.52 243.32,350.58 245.02,350.67 246.71,350.78 248.41,350.88 250.11,350.98 251.81,351.05 253.51,351.16 255.21,351.34 256.9,351.57 258.6,351.85 260.3,352.19 262,352.62" fill="none" stroke="#888" stroke-width="0.4" stroke-dasharray="1.2 0.6"/>
<polyline points="160.1,366.22 161.8,365.84 163.5,365.28 165.19,364.61 166.89,363.95 168.59,363.41 170.29,363.06 171.99,362.58 173.69,361.89 175.38,361.1 177.08,360.31 178.78,359.66 180.48,359.22 182.18,358.92 183.88,358.46 185.57,357.92 187.27,357.38 188.97,356.92 190.67,356.62 192.37,356.22 194.07,355.63 195.76,354.92 197.46,354.21 199.16,353.62 200.86,353.22 202.56,353.01 204.26,352.7 205.95,352.32 207.65,351.95 209.35,351.63 211.05,351.42 212.75,351.27 214.45,351.04 216.14,350.77 217.84,350.5 219.54,350.27 221.24,350.12 222.94,349.97 224.64,349.74 226.33,349.47 228.03,349.2 229.73,348.97 231.43,348.82 233.13,348.67 234.83,348.44 236.52,348.17 238.22,347.9 239.92,347.67 241.62,347.52 243.32,347.58 245.02,347.67 246.71,347.77 248.41,347.87 250.11,347.96 251.81,348.02 253.51,348.11 255.21,348.25 256.9,348.42 258.6,348.59 260.3,348.73 262,348.82" fill="none" stroke="#3a3a3a" stroke-width="0.6" stroke-linejoin="round"/>
<path d="M165.19,365.13V369.71M164.5,365.13H165.89M164.5,369.71H165.89" fill="none" stroke="#555" stroke-width="0.4"/>
<path d="M175.38,357.12V366.72M174.69,357.12H176.08M174.69,366.72H176.08" fill="none" stroke="#555" stroke-width="0.4"/>
<path d="M185.57,353.12V362.72M184.88,353.12H186.27M184.88,362.72H186.27" fill="none" stroke="#555" stroke-width="0.4"/>
<path d="M195.76,353.02V362.62M195.06,353.02H196.46M195.06,362.62H196.46" fill="none" stroke="#555" stroke-width="0.4"/>
<path d="M205.95,345.12V354.72M205.25,345.12H206.65M205.25,354.72H206.65" fill="none" stroke="#555" stroke-width="0.4"/>
<path d="M216.14,348.32V357.92M215.44,348.32H216.84M215.44,357.92H216.84" fill="none" stroke="#555" stroke-width="0.4"/>
<path d="M226.33,347.92V357.52M225.63,347.92H227.03M225.63,357.52H227.03" fill="none" stroke="#555" stroke-width="0.4"/>
<path d="M236.52,347.12V356.72M235.82,347.12H237.22M235.82,356.72H237.22" fill="none" stroke="#555" stroke-width="0.4"/>
<path d="M246.71,341.32V350.92M246.01,341.32H247.41M246.01,350.92H247.41" fill="none" stroke="#555" stroke-width="0.4"/>
<path d="M256.9,344.02V353.62M256.2,344.02H257.6M256.2,353.62H257.6" fill="none" stroke="#555" stroke-width="0.4"/>
<text transform="translate(157.1,372.22) rotate(-90)" font-size="2.8" font-weight="bold" text-anchor="middle" fill="#333">0.0</text>
<text transform="translate(157.1,363.52) rotate(-90)" font-size="2.8" font-weight="bold" text-anchor="middle" fill="#333">0.5</text>
<text transform="translate(157.1,354.82) rotate(-90)" font-size="2.8" font-weight="bold" text-anchor="middle" fill="#333">1.0</text>
<text transform="translate(157.1,346.12) rotate(-90)" font-size="2.8" font-weight="bold" text-anchor="middle" fill="#333">1.5</text>
<text transform="translate(157.1,337.42) rotate(-90)" font-size="2.8" font-weight="bold" text-anchor="middle" fill="#333">2.0</text>
<text transform="translate(157.1,328.72) rotate(-90)" font-size="2.8" font-weight="bold" text-anchor="middle" fill="#333">2.5</text>
<text transform="translate(153.2,350.22) rotate(-90)" font-size="3.2" font-weight="bold" text-anchor="middle" fill="#333" textLength="37.5" lengthAdjust="spacingAndGlyphs">Relative unemployment</text>
<text x="160.1" y="376.12" font-size="2.5" text-anchor="middle" fill="#444">0.0</text>
<text x="170.29" y="376.12" font-size="2.5" text-anchor="middle" fill="#444">0.1</text>
<text x="180.48" y="376.12" font-size="2.5" text-anchor="middle" fill="#444">0.2</text>
<text x="190.67" y="376.12" font-size="2.5" text-anchor="middle" fill="#444">0.3</text>
<text x="200.86" y="376.12" font-size="2.5" text-anchor="middle" fill="#444">0.4</text>
<text x="211.05" y="376.12" font-size="2.5" text-anchor="middle" fill="#444">0.5</text>
<text x="221.24" y="376.12" font-size="2.5" text-anchor="middle" fill="#444">0.6</text>
<text x="231.43" y="376.12" font-size="2.5" text-anchor="middle" fill="#444">0.7</text>
<text x="241.62" y="376.12" font-size="2.5" text-anchor="middle" fill="#444">0.8</text>
<text x="251.81" y="376.12" font-size="2.5" text-anchor="middle" fill="#444">0.9</text>
<text x="262" y="376.12" font-size="2.5" text-anchor="middle" fill="#444">1.0</text>
<text x="180.9" y="379.27" font-size="2.5" font-weight="bold" fill="#333" textLength="60" lengthAdjust="spacingAndGlyphs">Quantile/decile in the reference distribution</text>
<rect x="174.6" y="383.22" width="4.3" height="1.3" fill="#888" stroke="#555" stroke-width="0.3"/>
<text x="180.5" y="384.52" font-size="2.2" font-weight="bold" fill="#333" textLength="37.5" lengthAdjust="spacingAndGlyphs">Grade-specific rtest in present vs.</text>
<line x1="174.6" y1="386.62" x2="178.9" y2="386.62" stroke="#555" stroke-width="0.4"/>
<text x="180.5" y="387.22" font-size="2.2" font-weight="bold" fill="#333" textLength="16" lengthAdjust="spacingAndGlyphs">Relative to city</text>
<line x1="219" y1="383.92" x2="222.5" y2="383.92" stroke="#555" stroke-width="0.4" stroke-dasharray="0.8 0.5"/>
<text x="223.5" y="384.52" font-size="2.2" font-weight="bold" fill="#333" textLength="26" lengthAdjust="spacingAndGlyphs">95% CI (lower bound)</text>
<line x1="219" y1="386.62" x2="222.5" y2="386.62" stroke="#555" stroke-width="0.4" stroke-dasharray="0.3 0.4"/>
<text x="223.5" y="387.22" font-size="2.2" font-weight="bold" fill="#333" textLength="26.5" lengthAdjust="spacingAndGlyphs">95% CI (upper bound)</text>
<line x1="307.1" y1="364.62" x2="409" y2="364.62" stroke="#f2f2f2" stroke-width="0.45" stroke-dasharray="0.6 0.4"/>
<line x1="307.1" y1="350.42" x2="409" y2="350.42" stroke="#f2f2f2" stroke-width="0.45" stroke-dasharray="0.6 0.4"/>
<line x1="307.1" y1="343.32" x2="409" y2="343.32" stroke="#f2f2f2" stroke-width="0.45" stroke-dasharray="0.6 0.4"/>
<line x1="307.1" y1="336.22" x2="409" y2="336.22" stroke="#f2f2f2" stroke-width="0.45" stroke-dasharray="0.6 0.4"/>
<rect x="307.1" y="346.62" width="10.19" height="25.1" fill="#c0c0c0"/>
<rect x="317.29" y="358.92" width="10.19" height="12.8" fill="#c0c0c0"/>
<rect x="327.48" y="360.52" width="10.19" height="11.2" fill="#c0c0c0"/>
<rect x="337.67" y="361.42" width="10.19" height="10.3" fill="#c0c0c0"/>
<rect x="347.86" y="361.82" width="10.19" height="9.9" fill="#c0c0c0"/>
<rect x="358.05" y="361.22" width="10.19" height="10.5" fill="#c0c0c0"/>
<rect x="368.24" y="360.82" width="10.19" height="10.9" fill="#c0c0c0"/>
<rect x="378.43" y="360.32" width="10.19" height="11.4" fill="#c0c0c0"/>
<rect x="388.62" y="356.92" width="10.19" height="14.8" fill="#c0c0c0"/>
<rect x="398.81" y="350.82" width="10.19" height="20.9" fill="#c0c0c0"/>
<path d="M307.1,371.72V346.62H317.29V371.72" fill="none" stroke="#666" stroke-width="0.45"/>
<path d="M317.29,371.72V358.92H327.48V371.72" fill="none" stroke="#666" stroke-width="0.45"/>
<path d="M327.48,371.72V360.52H337.67V371.72" fill="none" stroke="#666" stroke-width="0.45"/>
<path d="M337.67,371.72V361.42H347.86V371.72" fill="none" stroke="#666" stroke-width="0.45"/>
<path d="M347.86,371.72V361.82H358.05V371.72" fill="none" stroke="#666" stroke-width="0.45"/>
<path d="M358.05,371.72V361.22H368.24V371.72" fill="none" stroke="#666" stroke-width="0.45"/>
<path d="M368.24,371.72V360.82H378.43V371.72" fill="none" stroke="#666" stroke-width="0.45"/>
<path d="M378.43,371.72V360.32H388.62V371.72" fill="none" stroke="#666" stroke-width="0.45"/>
<path d="M388.62,371.72V356.92H398.81V371.72" fill="none" stroke="#666" stroke-width="0.45"/>
<path d="M398.81,371.72V350.82H409V371.72" fill="none" stroke="#666" stroke-width="0.45"/>
<line x1="307.1" y1="372.22" x2="409" y2="372.22" stroke="#ddd" stroke-width="0.6"/>
<line x1="305.1" y1="357.52" x2="409" y2="357.52" stroke="#c4c4c4" stroke-width="0.9"/>
<polyline points="307.1,326.62 308.8,331.72 310.5,337.36 312.2,340.63 313.89,343.58 315.59,346.95 317.29,348.89 318.99,349.88 320.69,351.24 322.39,352.65 324.08,353.75 325.78,354.24 327.48,354.62 329.18,355.11 330.88,355.66 332.58,356.16 334.27,356.56 335.97,356.77 337.67,356.94 339.37,357.19 341.07,357.46 342.77,357.71 344.46,357.92 346.16,358.03 347.86,358.1 349.56,358.19 351.26,358.29 352.96,358.39 354.65,358.47 356.35,358.52 358.05,358.46 359.75,358.37 361.45,358.27 363.15,358.17 364.84,358.08 366.54,358.02 368.24,357.93 369.94,357.8 371.64,357.64 373.34,357.47 375.03,357.33 376.73,357.23 378.43,356.94 380.13,356.44 381.83,355.83 383.53,355.19 385.22,354.63 386.92,354.21 388.62,353.79 390.32,353.01 392.02,352.08 393.72,351.22 395.41,350.66 397.11,349.88 398.81,348.69 400.51,347.39 402.21,346.26 403.91,345.3 405.6,343.59 407.3,341.34 409,338.92" fill="none" stroke="#888" stroke-width="0.4" stroke-dasharray="1.2 0.6"/>
<polyline points="307.1,339.62 308.8,341.31 310.5,344.99 312.2,347.14 313.89,349.45 315.59,352.45 317.29,354.17 318.99,355.04 320.69,356.34 322.39,357.71 324.08,358.79 325.78,359.26 327.48,359.63 329.18,360.12 330.88,360.66 332.58,361.16 334.27,361.56 335.97,361.77 337.67,361.94 339.37,362.19 341.07,362.46 342.77,362.71 344.46,362.92 346.16,363.03 347.86,363.1 349.56,363.19 351.26,363.29 352.96,363.39 354.65,363.47 356.35,363.52 358.05,363.46 359.75,363.37 361.45,363.27 363.15,363.17 364.84,363.08 366.54,363.02 368.24,362.93 369.94,362.8 371.64,362.64 373.34,362.47 375.03,362.33 376.73,362.23 378.43,361.94 380.13,361.44 381.83,360.83 383.53,360.19 385.22,359.63 386.92,359.22 388.62,358.8 390.32,358.03 392.02,357.1 393.72,356.27 395.41,355.74 397.11,355.02 398.81,353.94 400.51,352.82 402.21,352.02 403.91,351.62 405.6,350.89 407.3,350.36 409,350.92" fill="none" stroke="#888" stroke-width="0.4" stroke-dasharray="1.2 0.6"/>
<polyline points="307.1,333.12 308.8,336.51 310.5,341.17 312.2,343.89 313.89,346.52 315.59,349.7 317.29,351.53 318.99,352.46 320.69,353.79 322.39,355.18 324.08,356.27 325.78,356.75 327.48,357.12 329.18,357.62 330.88,358.16 332.58,358.66 334.27,359.06 335.97,359.27 337.67,359.44 339.37,359.69 341.07,359.96 342.77,360.21 344.46,360.42 346.16,360.53 347.86,360.6 349.56,360.69 351.26,360.79 352.96,360.89 354.65,360.97 356.35,361.02 358.05,360.96 359.75,360.87 361.45,360.77 363.15,360.67 364.84,360.58 366.54,360.52 368.24,360.43 369.94,360.3 371.64,360.14 373.34,359.97 375.03,359.83 376.73,359.73 378.43,359.44 380.13,358.94 381.83,358.33 383.53,357.69 385.22,357.13 386.92,356.72 388.62,356.29 390.32,355.52 392.02,354.59 393.72,353.75 395.41,353.2 397.11,352.45 398.81,351.32 400.51,350.1 402.21,349.14 403.91,348.46 405.6,347.24 407.3,345.85 409,344.92" fill="none" stroke="#3a3a3a" stroke-width="0.6" stroke-linejoin="round"/>
<path d="M312.2,342.52V350.72M311.5,342.52H312.9M311.5,350.72H312.9" fill="none" stroke="#555" stroke-width="0.4"/>
<path d="M322.39,354.82V363.02M321.69,354.82H323.09M321.69,363.02H323.09" fill="none" stroke="#555" stroke-width="0.4"/>
<path d="M332.58,356.42V364.62M331.88,356.42H333.28M331.88,364.62H333.28" fill="none" stroke="#555" stroke-width="0.4"/>
<path d="M342.77,357.32V365.52M342.07,357.32H343.47M342.07,365.52H343.47" fill="none" stroke="#555" stroke-width="0.4"/>
<path d="M352.96,357.72V365.92M352.26,357.72H353.66M352.26,365.92H353.66" fill="none" stroke="#555" stroke-width="0.4"/>
<path d="M363.15,357.12V365.32M362.45,357.12H363.85M362.45,365.32H363.85" fill="none" stroke="#555" stroke-width="0.4"/>
<path d="M373.34,356.72V364.92M372.64,356.72H374.04M372.64,364.92H374.04" fill="none" stroke="#555" stroke-width="0.4"/>
<path d="M383.53,356.22V364.42M382.83,356.22H384.23M382.83,364.42H384.23" fill="none" stroke="#555" stroke-width="0.4"/>
<path d="M393.72,352.82V361.02M393.02,352.82H394.42M393.02,361.02H394.42" fill="none" stroke="#555" stroke-width="0.4"/>
<path d="M403.91,346.72V354.92M403.21,346.72H404.61M403.21,354.92H404.61" fill="none" stroke="#555" stroke-width="0.4"/>
<text transform="translate(304.1,372.22) rotate(-90)" font-size="2.8" font-weight="bold" text-anchor="middle" fill="#333">0.0</text>
<text transform="translate(304.1,365.12) rotate(-90)" font-size="2.8" font-weight="bold" text-anchor="middle" fill="#333">0.5</text>
<text transform="translate(304.1,358.02) rotate(-90)" font-size="2.8" font-weight="bold" text-anchor="middle" fill="#333">1.0</text>
<text transform="translate(304.1,350.92) rotate(-90)" font-size="2.8" font-weight="bold" text-anchor="middle" fill="#333">1.5</text>
<text transform="translate(304.1,343.82) rotate(-90)" font-size="2.8" font-weight="bold" text-anchor="middle" fill="#333">2.0</text>
<text transform="translate(304.1,336.72) rotate(-90)" font-size="2.8" font-weight="bold" text-anchor="middle" fill="#333">2.5</text>
<text transform="translate(300.2,350.22) rotate(-90)" font-size="3.2" font-weight="bold" text-anchor="middle" fill="#333" textLength="37.5" lengthAdjust="spacingAndGlyphs">Relative unemployment</text>
<text x="307.1" y="376.12" font-size="2.5" text-anchor="middle" fill="#444">0.0</text>
<text x="317.29" y="376.12" font-size="2.5" text-anchor="middle" fill="#444">0.1</text>
<text x="327.48" y="376.12" font-size="2.5" text-anchor="middle" fill="#444">0.2</text>
<text x="337.67" y="376.12" font-size="2.5" text-anchor="middle" fill="#444">0.3</text>
<text x="347.86" y="376.12" font-size="2.5" text-anchor="middle" fill="#444">0.4</text>
<text x="358.05" y="376.12" font-size="2.5" text-anchor="middle" fill="#444">0.5</text>
<text x="368.24" y="376.12" font-size="2.5" text-anchor="middle" fill="#444">0.6</text>
<text x="378.43" y="376.12" font-size="2.5" text-anchor="middle" fill="#444">0.7</text>
<text x="388.62" y="376.12" font-size="2.5" text-anchor="middle" fill="#444">0.8</text>
<text x="398.81" y="376.12" font-size="2.5" text-anchor="middle" fill="#444">0.9</text>
<text x="409" y="376.12" font-size="2.5" text-anchor="middle" fill="#444">1.0</text>
<text x="327.9" y="379.27" font-size="2.5" font-weight="bold" fill="#333" textLength="60" lengthAdjust="spacingAndGlyphs">Quantile/decile in the reference distribution</text>
<rect x="321.6" y="383.22" width="4.3" height="1.3" fill="#888" stroke="#555" stroke-width="0.3"/>
<text x="327.5" y="384.52" font-size="2.2" font-weight="bold" fill="#333" textLength="37.5" lengthAdjust="spacingAndGlyphs">Grade-specific rtest in present vs.</text>
<line x1="321.6" y1="386.62" x2="325.9" y2="386.62" stroke="#555" stroke-width="0.4"/>
<text x="327.5" y="387.22" font-size="2.2" font-weight="bold" fill="#333" textLength="16" lengthAdjust="spacingAndGlyphs">Relative to city</text>
<line x1="366" y1="383.92" x2="369.5" y2="383.92" stroke="#555" stroke-width="0.4" stroke-dasharray="0.8 0.5"/>
<text x="370.5" y="384.52" font-size="2.2" font-weight="bold" fill="#333" textLength="26" lengthAdjust="spacingAndGlyphs">95% CI (lower bound)</text>
<line x1="366" y1="386.62" x2="369.5" y2="386.62" stroke="#555" stroke-width="0.4" stroke-dasharray="0.3 0.4"/>
<text x="370.5" y="387.22" font-size="2.2" font-weight="bold" fill="#333" textLength="26.5" lengthAdjust="spacingAndGlyphs">95% CI (upper bound)</text>
<text class="h" x="206.3" y="401" font-size="9.35" text-anchor="middle" fill="#1a1a1a" stroke="#1a1a1a" stroke-width="0.12">Netherland</text>
<line x1="13.1" y1="443.65" x2="115" y2="443.65" stroke="#f2f2f2" stroke-width="0.45" stroke-dasharray="0.6 0.4"/>
<line x1="13.1" y1="430.65" x2="115" y2="430.65" stroke="#f2f2f2" stroke-width="0.45" stroke-dasharray="0.6 0.4"/>
<line x1="13.1" y1="424.15" x2="115" y2="424.15" stroke="#f2f2f2" stroke-width="0.45" stroke-dasharray="0.6 0.4"/>
<line x1="13.1" y1="417.65" x2="115" y2="417.65" stroke="#f2f2f2" stroke-width="0.45" stroke-dasharray="0.6 0.4"/>
<rect x="13.1" y="439.95" width="10.19" height="10.2" fill="#c0c0c0"/>
<rect x="23.29" y="441.25" width="10.19" height="8.9" fill="#c0c0c0"/>
<rect x="33.48" y="441.45" width="10.19" height="8.7" fill="#c0c0c0"/>
<rect x="43.67" y="438.45" width="10.19" height="11.7" fill="#c0c0c0"/>
<rect x="53.86" y="440.15" width="10.19" height="10" fill="#c0c0c0"/>
<rect x="64.05" y="440.15" width="10.19" height="10" fill="#c0c0c0"/>
<rect x="74.24" y="437.85" width="10.19" height="12.3" fill="#c0c0c0"/>
<rect x="84.43" y="437.55" width="10.19" height="12.6" fill="#c0c0c0"/>
<rect x="94.62" y="434.35" width="10.19" height="15.8" fill="#c0c0c0"/>
<rect x="104.81" y="421.95" width="10.19" height="28.2" fill="#c0c0c0"/>
<path d="M13.1,450.15V439.95H23.29V450.15" fill="none" stroke="#666" stroke-width="0.45"/>
<path d="M23.29,450.15V441.25H33.48V450.15" fill="none" stroke="#666" stroke-width="0.45"/>
<path d="M33.48,450.15V441.45H43.67V450.15" fill="none" stroke="#666" stroke-width="0.45"/>
<path d="M43.67,450.15V438.45H53.86V450.15" fill="none" stroke="#666" stroke-width="0.45"/>
<path d="M53.86,450.15V440.15H64.05V450.15" fill="none" stroke="#666" stroke-width="0.45"/>
<path d="M64.05,450.15V440.15H74.24V450.15" fill="none" stroke="#666" stroke-width="0.45"/>
<path d="M74.24,450.15V437.85H84.43V450.15" fill="none" stroke="#666" stroke-width="0.45"/>
<path d="M84.43,450.15V437.55H94.62V450.15" fill="none" stroke="#666" stroke-width="0.45"/>
<path d="M94.62,450.15V434.35H104.81V450.15" fill="none" stroke="#666" stroke-width="0.45"/>
<path d="M104.81,450.15V421.95H115V450.15" fill="none" stroke="#666" stroke-width="0.45"/>
<line x1="13.1" y1="450.65" x2="115" y2="450.65" stroke="#ddd" stroke-width="0.6"/>
<line x1="11.1" y1="437.15" x2="115" y2="437.15" stroke="#c4c4c4" stroke-width="0.9"/>
<polyline points="13.1,436.15 14.8,436.72 16.5,437.26 18.2,437.79 19.89,438.25 21.59,438.62 23.29,438.83 24.99,438.94 26.69,439.09 28.38,439.29 30.08,439.48 31.78,439.65 33.48,439.76 35.18,439.38 36.88,438.88 38.57,438.33 40.27,437.78 41.97,437.31 43.67,436.98 45.37,437.13 47.07,437.44 48.77,437.82 50.46,438.21 52.16,438.55 53.86,438.8 55.56,438.81 57.26,438.74 58.95,438.64 60.65,438.53 62.35,438.44 64.05,438.37 65.75,438.23 67.45,437.92 69.14,437.51 70.84,437.07 72.54,436.67 74.24,436.36 75.94,436.21 77.64,436.1 79.33,435.95 81.03,435.79 82.73,435.63 84.43,435.51 86.13,435.38 87.83,435.04 89.52,434.57 91.22,434.03 92.92,433.51 94.62,433.08 96.32,432.78 98.02,432.2 99.71,431.36 101.41,430.48 103.11,429.78 104.81,428.67 106.51,426.03 108.21,422.88 109.9,420.31 111.6,416.01 113.3,410.33 115,404.05" fill="none" stroke="#888" stroke-width="0.4" stroke-dasharray="1.2 0.6"/>
<polyline points="13.1,441.75 14.8,441.64 16.5,441.79 18.2,442.09 19.89,442.43 21.59,442.72 23.29,442.89 24.99,442.98 26.69,443.11 28.38,443.24 30.08,443.37 31.78,443.47 33.48,443.54 35.18,443.3 36.88,442.88 38.57,442.33 40.27,441.78 41.97,441.31 43.67,440.98 45.37,441.13 47.07,441.44 48.77,441.82 50.46,442.21 52.16,442.55 53.86,442.8 55.56,442.81 57.26,442.74 58.95,442.64 60.65,442.53 62.35,442.44 64.05,442.37 65.75,442.23 67.45,441.92 69.14,441.51 70.84,441.07 72.54,440.67 74.24,440.36 75.94,440.21 77.64,440.1 79.33,439.95 81.03,439.79 82.73,439.63 84.43,439.51 86.13,439.38 87.83,439.04 89.52,438.57 91.22,438.03 92.92,437.51 94.62,437.09 96.32,436.8 98.02,436.23 99.71,435.41 101.41,434.56 103.11,433.92 104.81,432.92 106.51,430.46 108.21,427.64 109.9,425.63 111.6,422.31 113.3,418.34 115,415.05" fill="none" stroke="#888" stroke-width="0.4" stroke-dasharray="1.2 0.6"/>
<polyline points="13.1,438.95 14.8,439.18 16.5,439.53 18.2,439.94 19.89,440.34 21.59,440.67 23.29,440.86 24.99,440.96 26.69,441.1 28.38,441.26 30.08,441.43 31.78,441.56 33.48,441.65 35.18,441.34 36.88,440.88 38.57,440.33 40.27,439.78 41.97,439.31 43.67,438.98 45.37,439.13 47.07,439.44 48.77,439.82 50.46,440.21 52.16,440.55 53.86,440.8 55.56,440.81 57.26,440.74 58.95,440.64 60.65,440.53 62.35,440.44 64.05,440.37 65.75,440.23 67.45,439.92 69.14,439.51 70.84,439.07 72.54,438.67 74.24,438.36 75.94,438.21 77.64,438.1 79.33,437.95 81.03,437.79 82.73,437.63 84.43,437.51 86.13,437.38 87.83,437.04 89.52,436.57 91.22,436.03 92.92,435.51 94.62,435.09 96.32,434.79 98.02,434.21 99.71,433.38 101.41,432.52 103.11,431.85 104.81,430.79 106.51,428.25 108.21,425.26 109.9,422.97 111.6,419.16 113.3,414.34 115,409.55" fill="none" stroke="#3a3a3a" stroke-width="0.6" stroke-linejoin="round"/>
<path d="M18.2,436.55V443.35M17.5,436.55H18.89M17.5,443.35H18.89" fill="none" stroke="#555" stroke-width="0.4"/>
<path d="M28.38,437.89V444.61M27.68,437.89H29.08M27.68,444.61H29.08" fill="none" stroke="#555" stroke-width="0.4"/>
<path d="M38.57,438.16V444.74M37.87,438.16H39.27M37.87,444.74H39.27" fill="none" stroke="#555" stroke-width="0.4"/>
<path d="M48.77,435.05V441.85M48.06,435.05H49.47M48.06,441.85H49.47" fill="none" stroke="#555" stroke-width="0.4"/>
<path d="M58.95,436.75V443.55M58.25,436.75H59.66M58.25,443.55H59.66" fill="none" stroke="#555" stroke-width="0.4"/>
<path d="M69.14,436.75V443.55M68.44,436.75H69.84M68.44,443.55H69.84" fill="none" stroke="#555" stroke-width="0.4"/>
<path d="M79.33,434.45V441.25M78.63,434.45H80.03M78.63,441.25H80.03" fill="none" stroke="#555" stroke-width="0.4"/>
<path d="M89.52,434.15V440.95M88.82,434.15H90.22M88.82,440.95H90.22" fill="none" stroke="#555" stroke-width="0.4"/>
<path d="M99.71,430.95V437.75M99.01,430.95H100.41M99.01,437.75H100.41" fill="none" stroke="#555" stroke-width="0.4"/>
<path d="M109.9,418.55V425.35M109.2,418.55H110.6M109.2,425.35H110.6" fill="none" stroke="#555" stroke-width="0.4"/>
<text transform="translate(10.1,450.65) rotate(-90)" font-size="2.8" font-weight="bold" text-anchor="middle" fill="#333">0.0</text>
<text transform="translate(10.1,444.15) rotate(-90)" font-size="2.8" font-weight="bold" text-anchor="middle" fill="#333">0.5</text>
<text transform="translate(10.1,437.65) rotate(-90)" font-size="2.8" font-weight="bold" text-anchor="middle" fill="#333">1.0</text>
<text transform="translate(10.1,431.15) rotate(-90)" font-size="2.8" font-weight="bold" text-anchor="middle" fill="#333">1.5</text>
<text transform="translate(10.1,424.65) rotate(-90)" font-size="2.8" font-weight="bold" text-anchor="middle" fill="#333">2.0</text>
<text transform="translate(10.1,418.15) rotate(-90)" font-size="2.8" font-weight="bold" text-anchor="middle" fill="#333">2.5</text>
<text transform="translate(6.2,428.65) rotate(-90)" font-size="3.2" font-weight="bold" text-anchor="middle" fill="#333" textLength="37.5" lengthAdjust="spacingAndGlyphs">Relative unemployment</text>
<text x="13.1" y="454.55" font-size="2.5" text-anchor="middle" fill="#444">0.0</text>
<text x="23.29" y="454.55" font-size="2.5" text-anchor="middle" fill="#444">0.1</text>
<text x="33.48" y="454.55" font-size="2.5" text-anchor="middle" fill="#444">0.2</text>
<text x="43.67" y="454.55" font-size="2.5" text-anchor="middle" fill="#444">0.3</text>
<text x="53.86" y="454.55" font-size="2.5" text-anchor="middle" fill="#444">0.4</text>
<text x="64.05" y="454.55" font-size="2.5" text-anchor="middle" fill="#444">0.5</text>
<text x="74.24" y="454.55" font-size="2.5" text-anchor="middle" fill="#444">0.6</text>
<text x="84.43" y="454.55" font-size="2.5" text-anchor="middle" fill="#444">0.7</text>
<text x="94.62" y="454.55" font-size="2.5" text-anchor="middle" fill="#444">0.8</text>
<text x="104.81" y="454.55" font-size="2.5" text-anchor="middle" fill="#444">0.9</text>
<text x="115" y="454.55" font-size="2.5" text-anchor="middle" fill="#444">1.0</text>
<text x="33.9" y="457.7" font-size="2.5" font-weight="bold" fill="#333" textLength="60" lengthAdjust="spacingAndGlyphs">Quantile/decile in the reference distribution</text>
<rect x="27.6" y="461.65" width="4.3" height="1.3" fill="#888" stroke="#555" stroke-width="0.3"/>
<text x="33.5" y="462.95" font-size="2.2" font-weight="bold" fill="#333" textLength="37.5" lengthAdjust="spacingAndGlyphs">Grade-specific rtest in present vs.</text>
<line x1="27.6" y1="465.05" x2="31.9" y2="465.05" stroke="#555" stroke-width="0.4"/>
<text x="33.5" y="465.65" font-size="2.2" font-weight="bold" fill="#333" textLength="16" lengthAdjust="spacingAndGlyphs">Relative to city</text>
<line x1="72" y1="462.35" x2="75.5" y2="462.35" stroke="#555" stroke-width="0.4" stroke-dasharray="0.8 0.5"/>
<text x="76.5" y="462.95" font-size="2.2" font-weight="bold" fill="#333" textLength="26" lengthAdjust="spacingAndGlyphs">95% CI (lower bound)</text>
<line x1="72" y1="465.05" x2="75.5" y2="465.05" stroke="#555" stroke-width="0.4" stroke-dasharray="0.3 0.4"/>
<text x="76.5" y="465.65" font-size="2.2" font-weight="bold" fill="#333" textLength="26.5" lengthAdjust="spacingAndGlyphs">95% CI (upper bound)</text>
<line x1="160.1" y1="441.45" x2="262" y2="441.45" stroke="#f2f2f2" stroke-width="0.45" stroke-dasharray="0.6 0.4"/>
<line x1="160.1" y1="424.05" x2="262" y2="424.05" stroke="#f2f2f2" stroke-width="0.45" stroke-dasharray="0.6 0.4"/>
<line x1="160.1" y1="415.35" x2="262" y2="415.35" stroke="#f2f2f2" stroke-width="0.45" stroke-dasharray="0.6 0.4"/>
<line x1="160.1" y1="406.65" x2="262" y2="406.65" stroke="#f2f2f2" stroke-width="0.45" stroke-dasharray="0.6 0.4"/>
<rect x="160.1" y="444.35" width="10.19" height="5.8" fill="#c0c0c0"/>
<rect x="170.29" y="443.05" width="10.19" height="7.1" fill="#c0c0c0"/>
<rect x="180.48" y="439.25" width="10.19" height="10.9" fill="#c0c0c0"/>
<rect x="190.67" y="433.35" width="10.19" height="16.8" fill="#c0c0c0"/>
<rect x="200.86" y="433.25" width="10.19" height="16.9" fill="#c0c0c0"/>
<rect x="211.05" y="432.85" width="10.19" height="17.3" fill="#c0c0c0"/>
<rect x="221.24" y="428.15" width="10.19" height="22" fill="#c0c0c0"/>
<rect x="231.43" y="428.05" width="10.19" height="22.1" fill="#c0c0c0"/>
<rect x="241.62" y="426.15" width="10.19" height="24" fill="#c0c0c0"/>
<rect x="251.81" y="423.25" width="10.19" height="26.9" fill="#c0c0c0"/>
<path d="M160.1,450.15V444.35H170.29V450.15" fill="none" stroke="#666" stroke-width="0.45"/>
<path d="M170.29,450.15V443.05H180.48V450.15" fill="none" stroke="#666" stroke-width="0.45"/>
<path d="M180.48,450.15V439.25H190.67V450.15" fill="none" stroke="#666" stroke-width="0.45"/>
<path d="M190.67,450.15V433.35H200.86V450.15" fill="none" stroke="#666" stroke-width="0.45"/>
<path d="M200.86,450.15V433.25H211.05V450.15" fill="none" stroke="#666" stroke-width="0.45"/>
<path d="M211.05,450.15V432.85H221.24V450.15" fill="none" stroke="#666" stroke-width="0.45"/>
<path d="M221.24,450.15V428.15H231.43V450.15" fill="none" stroke="#666" stroke-width="0.45"/>
<path d="M231.43,450.15V428.05H241.62V450.15" fill="none" stroke="#666" stroke-width="0.45"/>
<path d="M241.62,450.15V426.15H251.81V450.15" fill="none" stroke="#666" stroke-width="0.45"/>
<path d="M251.81,450.15V423.25H262V450.15" fill="none" stroke="#666" stroke-width="0.45"/>
<line x1="160.1" y1="450.65" x2="262" y2="450.65" stroke="#ddd" stroke-width="0.6"/>
<line x1="158.1" y1="432.75" x2="262" y2="432.75" stroke="#c4c4c4" stroke-width="0.9"/>
<polyline points="160.1,442.94 161.8,443.07 163.5,443.08 165.19,443.03 166.89,442.94 168.59,442.86 170.29,442.8 171.99,442.38 173.69,441.74 175.38,440.98 177.08,440.22 178.78,439.58 180.48,439.15 182.18,438.68 183.88,437.98 185.57,437.15 187.27,436.32 188.97,435.62 190.67,435.15 192.37,434.27 194.07,433.02 195.76,432.15 197.46,432.11 199.16,432.07 200.86,432 202.56,431.94 204.26,431.86 205.95,431.8 207.65,431.73 209.35,431.69 211.05,431.65 212.75,431.36 214.45,430.92 216.14,430.4 217.84,429.88 219.54,429.44 221.24,429.15 222.94,428.42 224.64,427.38 226.33,426.65 228.03,426.58 229.73,426.48 231.43,426.36 233.13,426.22 234.83,426.08 236.52,425.94 238.22,425.82 239.92,425.72 241.62,425.65 243.32,425.41 245.02,425.06 246.71,424.64 248.41,424.22 250.11,423.87 251.81,423.62 253.51,423.31 255.21,422.83 256.9,422.25 258.6,421.62 260.3,420.98 262,420.35" fill="none" stroke="#888" stroke-width="0.4" stroke-dasharray="1.2 0.6"/>
<polyline points="160.1,446.36 161.8,446.11 163.5,445.92 165.19,445.77 166.89,445.65 168.59,445.56 170.29,445.5 171.99,445.22 173.69,444.81 175.38,444.32 177.08,443.83 178.78,443.42 180.48,443.15 182.18,442.68 183.88,441.98 185.57,441.15 187.27,440.32 188.97,439.62 190.67,439.15 192.37,438.28 194.07,437.03 195.76,436.15 197.46,436.11 199.16,436.07 200.86,436 202.56,435.94 204.26,435.86 205.95,435.8 207.65,435.73 209.35,435.69 211.05,435.65 212.75,435.36 214.45,434.92 216.14,434.4 217.84,433.88 219.54,433.44 221.24,433.15 222.94,432.42 224.64,431.38 226.33,430.65 228.03,430.58 229.73,430.48 231.43,430.36 233.13,430.22 234.83,430.08 236.52,429.94 238.22,429.82 239.92,429.72 241.62,429.65 243.32,429.42 245.02,429.07 246.71,428.66 248.41,428.24 250.11,427.9 251.81,427.68 253.51,427.41 255.21,427.01 256.9,426.55 258.6,426.14 260.3,425.9 262,425.95" fill="none" stroke="#888" stroke-width="0.4" stroke-dasharray="1.2 0.6"/>
<polyline points="160.1,444.65 161.8,444.59 163.5,444.5 165.19,444.4 166.89,444.3 168.59,444.21 170.29,444.15 171.99,443.8 173.69,443.28 175.38,442.65 177.08,442.03 178.78,441.5 180.48,441.15 182.18,440.68 183.88,439.98 185.57,439.15 187.27,438.32 188.97,437.62 190.67,437.15 192.37,436.28 194.07,435.03 195.76,434.15 197.46,434.11 199.16,434.07 200.86,434 202.56,433.94 204.26,433.86 205.95,433.8 207.65,433.73 209.35,433.69 211.05,433.65 212.75,433.36 214.45,432.92 216.14,432.4 217.84,431.88 219.54,431.44 221.24,431.15 222.94,430.42 224.64,429.38 226.33,428.65 228.03,428.58 229.73,428.48 231.43,428.36 233.13,428.22 234.83,428.08 236.52,427.94 238.22,427.82 239.92,427.72 241.62,427.65 243.32,427.42 245.02,427.07 246.71,426.65 248.41,426.23 250.11,425.88 251.81,425.65 253.51,425.36 255.21,424.92 256.9,424.4 258.6,423.88 260.3,423.44 262,423.15" fill="none" stroke="#3a3a3a" stroke-width="0.6" stroke-linejoin="round"/>
<path d="M165.19,442.16V446.54M164.5,442.16H165.89M164.5,446.54H165.89" fill="none" stroke="#555" stroke-width="0.4"/>
<path d="M175.38,440.37V445.73M174.69,440.37H176.08M174.69,445.73H176.08" fill="none" stroke="#555" stroke-width="0.4"/>
<path d="M185.57,435.85V442.65M184.88,435.85H186.27M184.88,442.65H186.27" fill="none" stroke="#555" stroke-width="0.4"/>
<path d="M195.76,429.95V436.75M195.06,429.95H196.46M195.06,436.75H196.46" fill="none" stroke="#555" stroke-width="0.4"/>
<path d="M205.95,429.85V436.65M205.25,429.85H206.65M205.25,436.65H206.65" fill="none" stroke="#555" stroke-width="0.4"/>
<path d="M216.14,429.45V436.25M215.44,429.45H216.84M215.44,436.25H216.84" fill="none" stroke="#555" stroke-width="0.4"/>
<path d="M226.33,424.75V431.55M225.63,424.75H227.03M225.63,431.55H227.03" fill="none" stroke="#555" stroke-width="0.4"/>
<path d="M236.52,424.65V431.45M235.82,424.65H237.22M235.82,431.45H237.22" fill="none" stroke="#555" stroke-width="0.4"/>
<path d="M246.71,422.75V429.55M246.01,422.75H247.41M246.01,429.55H247.41" fill="none" stroke="#555" stroke-width="0.4"/>
<path d="M256.9,419.85V426.65M256.2,419.85H257.6M256.2,426.65H257.6" fill="none" stroke="#555" stroke-width="0.4"/>
<text transform="translate(157.1,450.65) rotate(-90)" font-size="2.8" font-weight="bold" text-anchor="middle" fill="#333">0.0</text>
<text transform="translate(157.1,441.95) rotate(-90)" font-size="2.8" font-weight="bold" text-anchor="middle" fill="#333">0.5</text>
<text transform="translate(157.1,433.25) rotate(-90)" font-size="2.8" font-weight="bold" text-anchor="middle" fill="#333">1.0</text>
<text transform="translate(157.1,424.55) rotate(-90)" font-size="2.8" font-weight="bold" text-anchor="middle" fill="#333">1.5</text>
<text transform="translate(157.1,415.85) rotate(-90)" font-size="2.8" font-weight="bold" text-anchor="middle" fill="#333">2.0</text>
<text transform="translate(157.1,407.15) rotate(-90)" font-size="2.8" font-weight="bold" text-anchor="middle" fill="#333">2.5</text>
<text transform="translate(153.2,428.65) rotate(-90)" font-size="3.2" font-weight="bold" text-anchor="middle" fill="#333" textLength="37.5" lengthAdjust="spacingAndGlyphs">Relative unemployment</text>
<text x="160.1" y="454.55" font-size="2.5" text-anchor="middle" fill="#444">0.0</text>
<text x="170.29" y="454.55" font-size="2.5" text-anchor="middle" fill="#444">0.1</text>
<text x="180.48" y="454.55" font-size="2.5" text-anchor="middle" fill="#444">0.2</text>
<text x="190.67" y="454.55" font-size="2.5" text-anchor="middle" fill="#444">0.3</text>
<text x="200.86" y="454.55" font-size="2.5" text-anchor="middle" fill="#444">0.4</text>
<text x="211.05" y="454.55" font-size="2.5" text-anchor="middle" fill="#444">0.5</text>
<text x="221.24" y="454.55" font-size="2.5" text-anchor="middle" fill="#444">0.6</text>
<text x="231.43" y="454.55" font-size="2.5" text-anchor="middle" fill="#444">0.7</text>
<text x="241.62" y="454.55" font-size="2.5" text-anchor="middle" fill="#444">0.8</text>
<text x="251.81" y="454.55" font-size="2.5" text-anchor="middle" fill="#444">0.9</text>
<text x="262" y="454.55" font-size="2.5" text-anchor="middle" fill="#444">1.0</text>
<text x="180.9" y="457.7" font-size="2.5" font-weight="bold" fill="#333" textLength="60" lengthAdjust="spacingAndGlyphs">Quantile/decile in the reference distribution</text>
<rect x="174.6" y="461.65" width="4.3" height="1.3" fill="#888" stroke="#555" stroke-width="0.3"/>
<text x="180.5" y="462.95" font-size="2.2" font-weight="bold" fill="#333" textLength="37.5" lengthAdjust="spacingAndGlyphs">Grade-specific rtest in present vs.</text>
<line x1="174.6" y1="465.05" x2="178.9" y2="465.05" stroke="#555" stroke-width="0.4"/>
<text x="180.5" y="465.65" font-size="2.2" font-weight="bold" fill="#333" textLength="16" lengthAdjust="spacingAndGlyphs">Relative to city</text>
<line x1="219" y1="462.35" x2="222.5" y2="462.35" stroke="#555" stroke-width="0.4" stroke-dasharray="0.8 0.5"/>
<text x="223.5" y="462.95" font-size="2.2" font-weight="bold" fill="#333" textLength="26" lengthAdjust="spacingAndGlyphs">95% CI (lower bound)</text>
<line x1="219" y1="465.05" x2="222.5" y2="465.05" stroke="#555" stroke-width="0.4" stroke-dasharray="0.3 0.4"/>
<text x="223.5" y="465.65" font-size="2.2" font-weight="bold" fill="#333" textLength="26.5" lengthAdjust="spacingAndGlyphs">95% CI (upper bound)</text>
<line x1="307.1" y1="442.71" x2="409" y2="442.71" stroke="#f2f2f2" stroke-width="0.45" stroke-dasharray="0.6 0.4"/>
<line x1="307.1" y1="427.83" x2="409" y2="427.83" stroke="#f2f2f2" stroke-width="0.45" stroke-dasharray="0.6 0.4"/>
<line x1="307.1" y1="420.39" x2="409" y2="420.39" stroke="#f2f2f2" stroke-width="0.45" stroke-dasharray="0.6 0.4"/>
<line x1="307.1" y1="412.95" x2="409" y2="412.95" stroke="#f2f2f2" stroke-width="0.45" stroke-dasharray="0.6 0.4"/>
<rect x="307.1" y="425.15" width="10.19" height="25" fill="#c0c0c0"/>
<rect x="317.29" y="436.25" width="10.19" height="13.9" fill="#c0c0c0"/>
<rect x="327.48" y="439.55" width="10.19" height="10.6" fill="#c0c0c0"/>
<rect x="337.67" y="439.55" width="10.19" height="10.6" fill="#c0c0c0"/>
<rect x="347.86" y="439.55" width="10.19" height="10.6" fill="#c0c0c0"/>
<rect x="358.05" y="440.15" width="10.19" height="10" fill="#c0c0c0"/>
<rect x="368.24" y="438.75" width="10.19" height="11.4" fill="#c0c0c0"/>
<rect x="378.43" y="437.65" width="10.19" height="12.5" fill="#c0c0c0"/>
<rect x="388.62" y="436.55" width="10.19" height="13.6" fill="#c0c0c0"/>
<rect x="398.81" y="427.75" width="10.19" height="22.4" fill="#c0c0c0"/>
<path d="M307.1,450.15V425.15H317.29V450.15" fill="none" stroke="#666" stroke-width="0.45"/>
<path d="M317.29,450.15V436.25H327.48V450.15" fill="none" stroke="#666" stroke-width="0.45"/>
<path d="M327.48,450.15V439.55H337.67V450.15" fill="none" stroke="#666" stroke-width="0.45"/>
<path d="M337.67,450.15V439.55H347.86V450.15" fill="none" stroke="#666" stroke-width="0.45"/>
<path d="M347.86,450.15V439.55H358.05V450.15" fill="none" stroke="#666" stroke-width="0.45"/>
<path d="M358.05,450.15V440.15H368.24V450.15" fill="none" stroke="#666" stroke-width="0.45"/>
<path d="M368.24,450.15V438.75H378.43V450.15" fill="none" stroke="#666" stroke-width="0.45"/>
<path d="M378.43,450.15V437.65H388.62V450.15" fill="none" stroke="#666" stroke-width="0.45"/>
<path d="M388.62,450.15V436.55H398.81V450.15" fill="none" stroke="#666" stroke-width="0.45"/>
<path d="M398.81,450.15V427.75H409V450.15" fill="none" stroke="#666" stroke-width="0.45"/>
<line x1="307.1" y1="450.65" x2="409" y2="450.65" stroke="#ddd" stroke-width="0.6"/>
<line x1="305.1" y1="435.27" x2="409" y2="435.27" stroke="#c4c4c4" stroke-width="0.9"/>
<polyline points="307.1,402.75 308.8,407.85 310.5,413.82 312.2,417.31 313.89,420.58 315.59,424.38 317.29,426.58 318.99,427.81 320.69,429.53 322.39,431.3 324.08,432.69 325.78,433.27 327.48,433.65 329.18,434.14 330.88,434.69 332.58,435.19 334.27,435.59 335.97,435.8 337.67,435.97 339.37,436.22 341.07,436.49 342.77,436.74 344.46,436.95 346.16,437.06 347.86,437.13 349.56,437.22 351.26,437.32 352.96,437.42 354.65,437.5 356.35,437.55 358.05,437.49 359.75,437.4 361.45,437.3 363.15,437.2 364.84,437.11 366.54,437.05 368.24,436.91 369.94,436.69 371.64,436.43 373.34,436.16 375.03,435.93 376.73,435.77 378.43,435.58 380.13,435.27 381.83,434.9 383.53,434.51 385.22,434.16 386.92,433.91 388.62,433.52 390.32,432.74 392.02,431.81 393.72,430.95 395.41,430.37 397.11,428.78 398.81,426.39 400.51,423.79 402.21,421.63 403.91,419.85 405.6,416.52 407.3,412.42 409,408.75" fill="none" stroke="#888" stroke-width="0.4" stroke-dasharray="1.2 0.6"/>
<polyline points="307.1,413.75 308.8,416.29 310.5,420.8 312.2,423.44 313.89,426.23 315.59,429.76 317.29,431.8 318.99,432.93 320.69,434.6 322.39,436.34 324.08,437.72 325.78,438.28 327.48,438.66 329.18,439.15 330.88,439.69 332.58,440.19 334.27,440.59 335.97,440.8 337.67,440.97 339.37,441.22 341.07,441.49 342.77,441.74 344.46,441.95 346.16,442.06 347.86,442.13 349.56,442.22 351.26,442.32 352.96,442.42 354.65,442.5 356.35,442.55 358.05,442.49 359.75,442.4 361.45,442.3 363.15,442.2 364.84,442.11 366.54,442.05 368.24,441.91 369.94,441.69 371.64,441.43 373.34,441.16 375.03,440.93 376.73,440.77 378.43,440.58 380.13,440.27 381.83,439.9 383.53,439.51 385.22,439.16 386.92,438.91 388.62,438.53 390.32,437.76 392.02,436.83 393.72,436 395.41,435.45 397.11,433.92 398.81,431.64 400.51,429.22 402.21,427.39 403.91,426.17 405.6,423.82 407.3,421.43 409,420.75" fill="none" stroke="#888" stroke-width="0.4" stroke-dasharray="1.2 0.6"/>
<polyline points="307.1,408.25 308.8,412.07 310.5,417.31 312.2,420.38 313.89,423.4 315.59,427.07 317.29,429.19 318.99,430.37 320.69,432.06 322.39,433.82 324.08,435.21 325.78,435.78 327.48,436.15 329.18,436.65 330.88,437.19 332.58,437.69 334.27,438.09 335.97,438.3 337.67,438.47 339.37,438.72 341.07,438.99 342.77,439.24 344.46,439.45 346.16,439.56 347.86,439.63 349.56,439.72 351.26,439.82 352.96,439.92 354.65,440 356.35,440.05 358.05,439.99 359.75,439.9 361.45,439.8 363.15,439.7 364.84,439.61 366.54,439.55 368.24,439.41 369.94,439.19 371.64,438.93 373.34,438.66 375.03,438.43 376.73,438.27 378.43,438.08 380.13,437.77 381.83,437.4 383.53,437.01 385.22,436.66 386.92,436.41 388.62,436.02 390.32,435.25 392.02,434.32 393.72,433.48 395.41,432.91 397.11,431.35 398.81,429.01 400.51,426.5 402.21,424.51 403.91,423.01 405.6,420.17 407.3,416.92 409,414.75" fill="none" stroke="#3a3a3a" stroke-width="0.6" stroke-linejoin="round"/>
<path d="M312.2,421.05V429.25M311.5,421.05H312.9M311.5,429.25H312.9" fill="none" stroke="#555" stroke-width="0.4"/>
<path d="M322.39,432.15V440.35M321.69,432.15H323.09M321.69,440.35H323.09" fill="none" stroke="#555" stroke-width="0.4"/>
<path d="M332.58,435.45V443.65M331.88,435.45H333.28M331.88,443.65H333.28" fill="none" stroke="#555" stroke-width="0.4"/>
<path d="M342.77,435.45V443.65M342.07,435.45H343.47M342.07,443.65H343.47" fill="none" stroke="#555" stroke-width="0.4"/>
<path d="M352.96,435.45V443.65M352.26,435.45H353.66M352.26,443.65H353.66" fill="none" stroke="#555" stroke-width="0.4"/>
<path d="M363.15,436.05V444.25M362.45,436.05H363.85M362.45,444.25H363.85" fill="none" stroke="#555" stroke-width="0.4"/>
<path d="M373.34,434.65V442.85M372.64,434.65H374.04M372.64,442.85H374.04" fill="none" stroke="#555" stroke-width="0.4"/>
<path d="M383.53,433.55V441.75M382.83,433.55H384.23M382.83,441.75H384.23" fill="none" stroke="#555" stroke-width="0.4"/>
<path d="M393.72,432.45V440.65M393.02,432.45H394.42M393.02,440.65H394.42" fill="none" stroke="#555" stroke-width="0.4"/>
<path d="M403.91,423.65V431.85M403.21,423.65H404.61M403.21,431.85H404.61" fill="none" stroke="#555" stroke-width="0.4"/>
<text transform="translate(304.1,450.65) rotate(-90)" font-size="2.8" font-weight="bold" text-anchor="middle" fill="#333">0.0</text>
<text transform="translate(304.1,443.21) rotate(-90)" font-size="2.8" font-weight="bold" text-anchor="middle" fill="#333">0.5</text>
<text transform="translate(304.1,435.77) rotate(-90)" font-size="2.8" font-weight="bold" text-anchor="middle" fill="#333">1.0</text>
<text transform="translate(304.1,428.33) rotate(-90)" font-size="2.8" font-weight="bold" text-anchor="middle" fill="#333">1.5</text>
<text transform="translate(304.1,420.89) rotate(-90)" font-size="2.8" font-weight="bold" text-anchor="middle" fill="#333">2.0</text>
<text transform="translate(304.1,413.45) rotate(-90)" font-size="2.8" font-weight="bold" text-anchor="middle" fill="#333">2.5</text>
<text transform="translate(300.2,428.65) rotate(-90)" font-size="3.2" font-weight="bold" text-anchor="middle" fill="#333" textLength="37.5" lengthAdjust="spacingAndGlyphs">Relative unemployment</text>
<text x="307.1" y="454.55" font-size="2.5" text-anchor="middle" fill="#444">0.0</text>
<text x="317.29" y="454.55" font-size="2.5" text-anchor="middle" fill="#444">0.1</text>
<text x="327.48" y="454.55" font-size="2.5" text-anchor="middle" fill="#444">0.2</text>
<text x="337.67" y="454.55" font-size="2.5" text-anchor="middle" fill="#444">0.3</text>
<text x="347.86" y="454.55" font-size="2.5" text-anchor="middle" fill="#444">0.4</text>
<text x="358.05" y="454.55" font-size="2.5" text-anchor="middle" fill="#444">0.5</text>
<text x="368.24" y="454.55" font-size="2.5" text-anchor="middle" fill="#444">0.6</text>
<text x="378.43" y="454.55" font-size="2.5" text-anchor="middle" fill="#444">0.7</text>
<text x="388.62" y="454.55" font-size="2.5" text-anchor="middle" fill="#444">0.8</text>
<text x="398.81" y="454.55" font-size="2.5" text-anchor="middle" fill="#444">0.9</text>
<text x="409" y="454.55" font-size="2.5" text-anchor="middle" fill="#444">1.0</text>
<text x="327.9" y="457.7" font-size="2.5" font-weight="bold" fill="#333" textLength="60" lengthAdjust="spacingAndGlyphs">Quantile/decile in the reference distribution</text>
<rect x="321.6" y="461.65" width="4.3" height="1.3" fill="#888" stroke="#555" stroke-width="0.3"/>
<text x="327.5" y="462.95" font-size="2.2" font-weight="bold" fill="#333" textLength="37.5" lengthAdjust="spacingAndGlyphs">Grade-specific rtest in present vs.</text>
<line x1="321.6" y1="465.05" x2="325.9" y2="465.05" stroke="#555" stroke-width="0.4"/>
<text x="327.5" y="465.65" font-size="2.2" font-weight="bold" fill="#333" textLength="16" lengthAdjust="spacingAndGlyphs">Relative to city</text>
<line x1="366" y1="462.35" x2="369.5" y2="462.35" stroke="#555" stroke-width="0.4" stroke-dasharray="0.8 0.5"/>
<text x="370.5" y="462.95" font-size="2.2" font-weight="bold" fill="#333" textLength="26" lengthAdjust="spacingAndGlyphs">95% CI (lower bound)</text>
<line x1="366" y1="465.05" x2="369.5" y2="465.05" stroke="#555" stroke-width="0.4" stroke-dasharray="0.3 0.4"/>
<text x="370.5" y="465.65" font-size="2.2" font-weight="bold" fill="#333" textLength="26.5" lengthAdjust="spacingAndGlyphs">95% CI (upper bound)</text>
<text class="h" x="206.3" y="479.7" font-size="9.35" text-anchor="middle" fill="#1a1a1a" stroke="#1a1a1a" stroke-width="0.12">Spain</text>
<line x1="13.1" y1="519.88" x2="115" y2="519.88" stroke="#f2f2f2" stroke-width="0.45" stroke-dasharray="0.6 0.4"/>
<line x1="13.1" y1="502.48" x2="115" y2="502.48" stroke="#f2f2f2" stroke-width="0.45" stroke-dasharray="0.6 0.4"/>
<line x1="13.1" y1="493.78" x2="115" y2="493.78" stroke="#f2f2f2" stroke-width="0.45" stroke-dasharray="0.6 0.4"/>
<line x1="13.1" y1="485.08" x2="115" y2="485.08" stroke="#f2f2f2" stroke-width="0.45" stroke-dasharray="0.6 0.4"/>
<rect x="13.1" y="509.28" width="10.19" height="19.3" fill="#c0c0c0"/>
<rect x="23.29" y="516.58" width="10.19" height="12" fill="#c0c0c0"/>
<rect x="33.48" y="511.88" width="10.19" height="16.7" fill="#c0c0c0"/>
<rect x="43.67" y="511.88" width="10.19" height="16.7" fill="#c0c0c0"/>
<rect x="53.86" y="516.38" width="10.19" height="12.2" fill="#c0c0c0"/>
<rect x="64.05" y="510.98" width="10.19" height="17.6" fill="#c0c0c0"/>
<rect x="74.24" y="510.98" width="10.19" height="17.6" fill="#c0c0c0"/>
<rect x="84.43" y="511.38" width="10.19" height="17.2" fill="#c0c0c0"/>
<rect x="94.62" y="511.38" width="10.19" height="17.2" fill="#c0c0c0"/>
<rect x="104.81" y="509.98" width="10.19" height="18.6" fill="#c0c0c0"/>
<path d="M13.1,528.58V509.28H23.29V528.58" fill="none" stroke="#666" stroke-width="0.45"/>
<path d="M23.29,528.58V516.58H33.48V528.58" fill="none" stroke="#666" stroke-width="0.45"/>
<path d="M33.48,528.58V511.88H43.67V528.58" fill="none" stroke="#666" stroke-width="0.45"/>
<path d="M43.67,528.58V511.88H53.86V528.58" fill="none" stroke="#666" stroke-width="0.45"/>
<path d="M53.86,528.58V516.38H64.05V528.58" fill="none" stroke="#666" stroke-width="0.45"/>
<path d="M64.05,528.58V510.98H74.24V528.58" fill="none" stroke="#666" stroke-width="0.45"/>
<path d="M74.24,528.58V510.98H84.43V528.58" fill="none" stroke="#666" stroke-width="0.45"/>
<path d="M84.43,528.58V511.38H94.62V528.58" fill="none" stroke="#666" stroke-width="0.45"/>
<path d="M94.62,528.58V511.38H104.81V528.58" fill="none" stroke="#666" stroke-width="0.45"/>
<path d="M104.81,528.58V509.98H115V528.58" fill="none" stroke="#666" stroke-width="0.45"/>
<line x1="13.1" y1="529.08" x2="115" y2="529.08" stroke="#ddd" stroke-width="0.6"/>
<line x1="11.1" y1="511.18" x2="115" y2="511.18" stroke="#c4c4c4" stroke-width="0.9"/>
<polyline points="13.1,493.58 14.8,497.29 16.5,502.93 18.2,508.45 19.89,511.67 21.59,511.51 23.29,511.29 24.99,511.02 26.69,510.73 28.38,510.45 30.08,510.21 31.78,510.03 33.48,509.86 35.18,509.59 36.88,509.25 38.57,508.85 40.27,508.42 41.97,507.98 43.67,507.56 45.37,507.19 47.07,506.9 48.77,506.68 50.46,507.42 52.16,508.56 53.86,509.73 55.56,510.57 57.26,510.33 58.95,509.67 60.65,508.85 62.35,508.01 64.05,507.27 65.75,506.75 67.45,506.55 69.14,506.3 70.84,506.01 72.54,505.75 74.24,505.58 75.94,505.42 77.64,505.19 79.33,504.91 81.03,504.59 82.73,504.27 84.43,503.95 86.13,503.67 87.83,503.44 89.52,503.28 91.22,502.89 92.92,502.32 94.62,501.63 96.32,500.94 98.02,500.37 99.71,499.98 101.41,498.96 103.11,497.43 104.81,495.61 106.51,493.83 108.21,492.37 109.9,491.85 111.6,494.41 113.3,497.72 115,499.98" fill="none" stroke="#888" stroke-width="0.4" stroke-dasharray="1.2 0.6"/>
<polyline points="13.1,504.58 14.8,507.21 16.5,511.23 18.2,515.47 19.89,518.64 21.59,519.49 23.29,519.99 24.99,520.46 26.69,520.38 28.38,519.87 30.08,519.2 31.78,518.46 33.48,517.79 35.18,517.28 36.88,517.1 38.57,517.15 40.27,517.22 41.97,517.3 43.67,517.39 45.37,517.49 47.07,517.58 48.77,517.67 50.46,517.75 52.16,517.82 53.86,517.87 55.56,517.71 57.26,517.36 58.95,516.9 60.65,516.42 62.35,515.99 64.05,515.67 65.75,515.55 67.45,515.5 69.14,515.43 70.84,515.35 72.54,515.27 74.24,515.17 75.94,515.07 77.64,514.96 79.33,514.85 81.03,514.74 82.73,514.63 84.43,514.52 86.13,514.42 87.83,514.32 89.52,514.23 91.22,514.15 92.92,514.08 94.62,514.02 96.32,514 98.02,514.28 99.71,514.67 101.41,515.14 103.11,515.66 104.81,516.21 106.51,516.73 108.21,517.2 109.9,517.58 111.6,517.86 113.3,517.74 115,517.58" fill="none" stroke="#888" stroke-width="0.4" stroke-dasharray="1.2 0.6"/>
<polyline points="13.1,499.58 14.8,502.39 16.5,506.68 18.2,511.21 19.89,514.59 21.59,515.63 23.29,516.43 24.99,517.18 26.69,517.14 28.38,516.53 30.08,515.72 31.78,514.84 33.48,514.03 35.18,513.42 36.88,513.1 38.57,512.85 40.27,512.51 41.97,512.14 43.67,511.78 45.37,511.51 47.07,511.52 48.77,512.19 50.46,513.09 52.16,513.99 53.86,514.65 55.56,514.87 57.26,515.07 58.95,515.24 60.65,514.67 62.35,513.15 64.05,511.74 65.75,511.3 67.45,511.11 69.14,510.86 70.84,510.59 72.54,510.34 74.24,510.15 75.94,510.08 77.64,510.08 79.33,510.08 81.03,510.08 82.73,510.08 84.43,510.08 86.13,510.04 87.83,509.87 89.52,509.64 91.22,509.37 92.92,509.12 94.62,508.91 96.32,508.76 98.02,508.53 99.71,508.2 101.41,507.84 103.11,507.56 104.81,507.58 106.51,507.86 108.21,508.21 109.9,508.54 111.6,508.77 113.3,508.92 115,509.08" fill="none" stroke="#3a3a3a" stroke-width="0.6" stroke-linejoin="round"/>
<path d="M18.2,503.78V514.78M17.5,503.78H18.89M17.5,514.78H18.89" fill="none" stroke="#555" stroke-width="0.4"/>
<path d="M28.38,511.08V522.08M27.68,511.08H29.08M27.68,522.08H29.08" fill="none" stroke="#555" stroke-width="0.4"/>
<path d="M38.57,506.38V517.38M37.87,506.38H39.27M37.87,517.38H39.27" fill="none" stroke="#555" stroke-width="0.4"/>
<path d="M48.77,506.38V517.38M48.06,506.38H49.47M48.06,517.38H49.47" fill="none" stroke="#555" stroke-width="0.4"/>
<path d="M58.95,510.88V521.88M58.25,510.88H59.66M58.25,521.88H59.66" fill="none" stroke="#555" stroke-width="0.4"/>
<path d="M69.14,505.48V516.48M68.44,505.48H69.84M68.44,516.48H69.84" fill="none" stroke="#555" stroke-width="0.4"/>
<path d="M79.33,505.48V516.48M78.63,505.48H80.03M78.63,516.48H80.03" fill="none" stroke="#555" stroke-width="0.4"/>
<path d="M89.52,505.88V516.88M88.82,505.88H90.22M88.82,516.88H90.22" fill="none" stroke="#555" stroke-width="0.4"/>
<path d="M99.71,505.88V516.88M99.01,505.88H100.41M99.01,516.88H100.41" fill="none" stroke="#555" stroke-width="0.4"/>
<path d="M109.9,504.48V515.48M109.2,504.48H110.6M109.2,515.48H110.6" fill="none" stroke="#555" stroke-width="0.4"/>
<text transform="translate(10.1,529.08) rotate(-90)" font-size="2.8" font-weight="bold" text-anchor="middle" fill="#333">0.0</text>
<text transform="translate(10.1,520.38) rotate(-90)" font-size="2.8" font-weight="bold" text-anchor="middle" fill="#333">0.5</text>
<text transform="translate(10.1,511.68) rotate(-90)" font-size="2.8" font-weight="bold" text-anchor="middle" fill="#333">1.0</text>
<text transform="translate(10.1,502.98) rotate(-90)" font-size="2.8" font-weight="bold" text-anchor="middle" fill="#333">1.5</text>
<text transform="translate(10.1,494.28) rotate(-90)" font-size="2.8" font-weight="bold" text-anchor="middle" fill="#333">2.0</text>
<text transform="translate(10.1,485.58) rotate(-90)" font-size="2.8" font-weight="bold" text-anchor="middle" fill="#333">2.5</text>
<text transform="translate(6.2,507.08) rotate(-90)" font-size="3.2" font-weight="bold" text-anchor="middle" fill="#333" textLength="37.5" lengthAdjust="spacingAndGlyphs">Relative unemployment</text>
<text x="13.1" y="532.98" font-size="2.5" text-anchor="middle" fill="#444">0.0</text>
<text x="23.29" y="532.98" font-size="2.5" text-anchor="middle" fill="#444">0.1</text>
<text x="33.48" y="532.98" font-size="2.5" text-anchor="middle" fill="#444">0.2</text>
<text x="43.67" y="532.98" font-size="2.5" text-anchor="middle" fill="#444">0.3</text>
<text x="53.86" y="532.98" font-size="2.5" text-anchor="middle" fill="#444">0.4</text>
<text x="64.05" y="532.98" font-size="2.5" text-anchor="middle" fill="#444">0.5</text>
<text x="74.24" y="532.98" font-size="2.5" text-anchor="middle" fill="#444">0.6</text>
<text x="84.43" y="532.98" font-size="2.5" text-anchor="middle" fill="#444">0.7</text>
<text x="94.62" y="532.98" font-size="2.5" text-anchor="middle" fill="#444">0.8</text>
<text x="104.81" y="532.98" font-size="2.5" text-anchor="middle" fill="#444">0.9</text>
<text x="115" y="532.98" font-size="2.5" text-anchor="middle" fill="#444">1.0</text>
<text x="33.9" y="536.13" font-size="2.5" font-weight="bold" fill="#333" textLength="60" lengthAdjust="spacingAndGlyphs">Quantile/decile in the reference distribution</text>
<rect x="27.6" y="540.08" width="4.3" height="1.3" fill="#888" stroke="#555" stroke-width="0.3"/>
<text x="33.5" y="541.38" font-size="2.2" font-weight="bold" fill="#333" textLength="37.5" lengthAdjust="spacingAndGlyphs">Grade-specific rtest in present vs.</text>
<line x1="27.6" y1="543.48" x2="31.9" y2="543.48" stroke="#555" stroke-width="0.4"/>
<text x="33.5" y="544.08" font-size="2.2" font-weight="bold" fill="#333" textLength="16" lengthAdjust="spacingAndGlyphs">Relative to city</text>
<line x1="72" y1="540.78" x2="75.5" y2="540.78" stroke="#555" stroke-width="0.4" stroke-dasharray="0.8 0.5"/>
<text x="76.5" y="541.38" font-size="2.2" font-weight="bold" fill="#333" textLength="26" lengthAdjust="spacingAndGlyphs">95% CI (lower bound)</text>
<line x1="72" y1="543.48" x2="75.5" y2="543.48" stroke="#555" stroke-width="0.4" stroke-dasharray="0.3 0.4"/>
<text x="76.5" y="544.08" font-size="2.2" font-weight="bold" fill="#333" textLength="26.5" lengthAdjust="spacingAndGlyphs">95% CI (upper bound)</text>
<line x1="160.1" y1="519.88" x2="262" y2="519.88" stroke="#f2f2f2" stroke-width="0.45" stroke-dasharray="0.6 0.4"/>
<line x1="160.1" y1="502.48" x2="262" y2="502.48" stroke="#f2f2f2" stroke-width="0.45" stroke-dasharray="0.6 0.4"/>
<line x1="160.1" y1="493.78" x2="262" y2="493.78" stroke="#f2f2f2" stroke-width="0.45" stroke-dasharray="0.6 0.4"/>
<line x1="160.1" y1="485.08" x2="262" y2="485.08" stroke="#f2f2f2" stroke-width="0.45" stroke-dasharray="0.6 0.4"/>
<rect x="160.1" y="517.48" width="10.19" height="11.1" fill="#c0c0c0"/>
<rect x="170.29" y="514.38" width="10.19" height="14.2" fill="#c0c0c0"/>
<rect x="180.48" y="512.28" width="10.19" height="16.3" fill="#c0c0c0"/>
<rect x="190.67" y="511.48" width="10.19" height="17.1" fill="#c0c0c0"/>
<rect x="200.86" y="511.48" width="10.19" height="17.1" fill="#c0c0c0"/>
<rect x="211.05" y="510.28" width="10.19" height="18.3" fill="#c0c0c0"/>
<rect x="221.24" y="511.28" width="10.19" height="17.3" fill="#c0c0c0"/>
<rect x="231.43" y="509.58" width="10.19" height="19" fill="#c0c0c0"/>
<rect x="241.62" y="511.08" width="10.19" height="17.5" fill="#c0c0c0"/>
<rect x="251.81" y="509.78" width="10.19" height="18.8" fill="#c0c0c0"/>
<path d="M160.1,528.58V517.48H170.29V528.58" fill="none" stroke="#666" stroke-width="0.45"/>
<path d="M170.29,528.58V514.38H180.48V528.58" fill="none" stroke="#666" stroke-width="0.45"/>
<path d="M180.48,528.58V512.28H190.67V528.58" fill="none" stroke="#666" stroke-width="0.45"/>
<path d="M190.67,528.58V511.48H200.86V528.58" fill="none" stroke="#666" stroke-width="0.45"/>
<path d="M200.86,528.58V511.48H211.05V528.58" fill="none" stroke="#666" stroke-width="0.45"/>
<path d="M211.05,528.58V510.28H221.24V528.58" fill="none" stroke="#666" stroke-width="0.45"/>
<path d="M221.24,528.58V511.28H231.43V528.58" fill="none" stroke="#666" stroke-width="0.45"/>
<path d="M231.43,528.58V509.58H241.62V528.58" fill="none" stroke="#666" stroke-width="0.45"/>
<path d="M241.62,528.58V511.08H251.81V528.58" fill="none" stroke="#666" stroke-width="0.45"/>
<path d="M251.81,528.58V509.78H262V528.58" fill="none" stroke="#666" stroke-width="0.45"/>
<line x1="160.1" y1="529.08" x2="262" y2="529.08" stroke="#ddd" stroke-width="0.6"/>
<line x1="158.1" y1="511.18" x2="262" y2="511.18" stroke="#c4c4c4" stroke-width="0.9"/>
<polyline points="160.1,514.68 161.8,515.02 163.5,515.22 165.19,515.33 166.89,515.16 168.59,514.63 170.29,513.9 171.99,513.17 173.69,512.6 175.38,512.37 177.08,512.22 178.78,511.83 180.48,511.33 182.18,510.82 183.88,510.44 185.57,510.28 187.27,510.22 188.97,510.07 190.67,509.88 192.37,509.69 194.07,509.54 195.76,509.48 197.46,509.48 199.16,509.48 200.86,509.48 202.56,509.48 204.26,509.48 205.95,509.48 207.65,509.39 209.35,509.17 211.05,508.88 212.75,508.59 214.45,508.37 216.14,508.28 217.84,508.35 219.54,508.54 221.24,508.78 222.94,509.02 224.64,509.21 226.33,509.28 228.03,509.15 229.73,508.84 231.43,508.43 233.13,508.02 234.83,507.71 236.52,507.58 238.22,507.69 239.92,507.97 241.62,508.33 243.32,508.69 245.02,508.97 246.71,509.07 248.41,508.97 250.11,508.73 251.81,508.4 253.51,508.07 255.21,507.79 256.9,507.63 258.6,507.52 260.3,507.32 262,506.98" fill="none" stroke="#888" stroke-width="0.4" stroke-dasharray="1.2 0.6"/>
<polyline points="160.1,520.28 161.8,519.94 163.5,519.74 165.19,519.63 166.89,519.34 168.59,518.73 170.29,517.96 171.99,517.2 173.69,516.62 175.38,516.39 177.08,516.23 178.78,515.84 180.48,515.33 182.18,514.83 183.88,514.44 185.57,514.28 187.27,514.22 188.97,514.07 190.67,513.88 192.37,513.69 194.07,513.54 195.76,513.48 197.46,513.48 199.16,513.48 200.86,513.48 202.56,513.48 204.26,513.48 205.95,513.48 207.65,513.39 209.35,513.17 211.05,512.88 212.75,512.59 214.45,512.37 216.14,512.28 217.84,512.35 219.54,512.54 221.24,512.78 222.94,513.02 224.64,513.21 226.33,513.28 228.03,513.15 229.73,512.84 231.43,512.43 233.13,512.02 234.83,511.71 236.52,511.58 238.22,511.69 239.92,511.97 241.62,512.33 243.32,512.69 245.02,512.97 246.71,513.09 248.41,512.99 250.11,512.76 251.81,512.46 253.51,512.17 255.21,511.96 256.9,511.93 258.6,512.04 260.3,512.24 262,512.58" fill="none" stroke="#888" stroke-width="0.4" stroke-dasharray="1.2 0.6"/>
<polyline points="160.1,517.48 161.8,517.48 163.5,517.48 165.19,517.48 166.89,517.25 168.59,516.68 170.29,515.93 171.99,515.18 173.69,514.61 175.38,514.38 177.08,514.22 178.78,513.84 180.48,513.33 182.18,512.82 183.88,512.44 185.57,512.28 187.27,512.22 188.97,512.07 190.67,511.88 192.37,511.69 194.07,511.54 195.76,511.48 197.46,511.48 199.16,511.48 200.86,511.48 202.56,511.48 204.26,511.48 205.95,511.48 207.65,511.39 209.35,511.17 211.05,510.88 212.75,510.59 214.45,510.37 216.14,510.28 217.84,510.35 219.54,510.54 221.24,510.78 222.94,511.02 224.64,511.21 226.33,511.28 228.03,511.15 229.73,510.84 231.43,510.43 233.13,510.02 234.83,509.71 236.52,509.58 238.22,509.69 239.92,509.97 241.62,510.33 243.32,510.69 245.02,510.97 246.71,511.08 248.41,510.98 250.11,510.74 251.81,510.43 253.51,510.12 255.21,509.88 256.9,509.78 258.6,509.78 260.3,509.78 262,509.78" fill="none" stroke="#3a3a3a" stroke-width="0.6" stroke-linejoin="round"/>
<path d="M165.19,514.08V520.88M164.5,514.08H165.89M164.5,520.88H165.89" fill="none" stroke="#555" stroke-width="0.4"/>
<path d="M175.38,510.98V517.78M174.69,510.98H176.08M174.69,517.78H176.08" fill="none" stroke="#555" stroke-width="0.4"/>
<path d="M185.57,508.88V515.68M184.88,508.88H186.27M184.88,515.68H186.27" fill="none" stroke="#555" stroke-width="0.4"/>
<path d="M195.76,508.08V514.88M195.06,508.08H196.46M195.06,514.88H196.46" fill="none" stroke="#555" stroke-width="0.4"/>
<path d="M205.95,508.08V514.88M205.25,508.08H206.65M205.25,514.88H206.65" fill="none" stroke="#555" stroke-width="0.4"/>
<path d="M216.14,506.88V513.68M215.44,506.88H216.84M215.44,513.68H216.84" fill="none" stroke="#555" stroke-width="0.4"/>
<path d="M226.33,507.88V514.68M225.63,507.88H227.03M225.63,514.68H227.03" fill="none" stroke="#555" stroke-width="0.4"/>
<path d="M236.52,506.18V512.98M235.82,506.18H237.22M235.82,512.98H237.22" fill="none" stroke="#555" stroke-width="0.4"/>
<path d="M246.71,507.68V514.48M246.01,507.68H247.41M246.01,514.48H247.41" fill="none" stroke="#555" stroke-width="0.4"/>
<path d="M256.9,506.38V513.18M256.2,506.38H257.6M256.2,513.18H257.6" fill="none" stroke="#555" stroke-width="0.4"/>
<text transform="translate(157.1,529.08) rotate(-90)" font-size="2.8" font-weight="bold" text-anchor="middle" fill="#333">0.0</text>
<text transform="translate(157.1,520.38) rotate(-90)" font-size="2.8" font-weight="bold" text-anchor="middle" fill="#333">0.5</text>
<text transform="translate(157.1,511.68) rotate(-90)" font-size="2.8" font-weight="bold" text-anchor="middle" fill="#333">1.0</text>
<text transform="translate(157.1,502.98) rotate(-90)" font-size="2.8" font-weight="bold" text-anchor="middle" fill="#333">1.5</text>
<text transform="translate(157.1,494.28) rotate(-90)" font-size="2.8" font-weight="bold" text-anchor="middle" fill="#333">2.0</text>
<text transform="translate(157.1,485.58) rotate(-90)" font-size="2.8" font-weight="bold" text-anchor="middle" fill="#333">2.5</text>
<text transform="translate(153.2,507.08) rotate(-90)" font-size="3.2" font-weight="bold" text-anchor="middle" fill="#333" textLength="37.5" lengthAdjust="spacingAndGlyphs">Relative unemployment</text>
<text x="160.1" y="532.98" font-size="2.5" text-anchor="middle" fill="#444">0.0</text>
<text x="170.29" y="532.98" font-size="2.5" text-anchor="middle" fill="#444">0.1</text>
<text x="180.48" y="532.98" font-size="2.5" text-anchor="middle" fill="#444">0.2</text>
<text x="190.67" y="532.98" font-size="2.5" text-anchor="middle" fill="#444">0.3</text>
<text x="200.86" y="532.98" font-size="2.5" text-anchor="middle" fill="#444">0.4</text>
<text x="211.05" y="532.98" font-size="2.5" text-anchor="middle" fill="#444">0.5</text>
<text x="221.24" y="532.98" font-size="2.5" text-anchor="middle" fill="#444">0.6</text>
<text x="231.43" y="532.98" font-size="2.5" text-anchor="middle" fill="#444">0.7</text>
<text x="241.62" y="532.98" font-size="2.5" text-anchor="middle" fill="#444">0.8</text>
<text x="251.81" y="532.98" font-size="2.5" text-anchor="middle" fill="#444">0.9</text>
<text x="262" y="532.98" font-size="2.5" text-anchor="middle" fill="#444">1.0</text>
<text x="180.9" y="536.13" font-size="2.5" font-weight="bold" fill="#333" textLength="60" lengthAdjust="spacingAndGlyphs">Quantile/decile in the reference distribution</text>
<rect x="174.6" y="540.08" width="4.3" height="1.3" fill="#888" stroke="#555" stroke-width="0.3"/>
<text x="180.5" y="541.38" font-size="2.2" font-weight="bold" fill="#333" textLength="37.5" lengthAdjust="spacingAndGlyphs">Grade-specific rtest in present vs.</text>
<line x1="174.6" y1="543.48" x2="178.9" y2="543.48" stroke="#555" stroke-width="0.4"/>
<text x="180.5" y="544.08" font-size="2.2" font-weight="bold" fill="#333" textLength="16" lengthAdjust="spacingAndGlyphs">Relative to city</text>
<line x1="219" y1="540.78" x2="222.5" y2="540.78" stroke="#555" stroke-width="0.4" stroke-dasharray="0.8 0.5"/>
<text x="223.5" y="541.38" font-size="2.2" font-weight="bold" fill="#333" textLength="26" lengthAdjust="spacingAndGlyphs">95% CI (lower bound)</text>
<line x1="219" y1="543.48" x2="222.5" y2="543.48" stroke="#555" stroke-width="0.4" stroke-dasharray="0.3 0.4"/>
<text x="223.5" y="544.08" font-size="2.2" font-weight="bold" fill="#333" textLength="26.5" lengthAdjust="spacingAndGlyphs">95% CI (upper bound)</text>
<line x1="307.1" y1="522.28" x2="409" y2="522.28" stroke="#f2f2f2" stroke-width="0.45" stroke-dasharray="0.6 0.4"/>
<line x1="307.1" y1="509.68" x2="409" y2="509.68" stroke="#f2f2f2" stroke-width="0.45" stroke-dasharray="0.6 0.4"/>
<line x1="307.1" y1="503.38" x2="409" y2="503.38" stroke="#f2f2f2" stroke-width="0.45" stroke-dasharray="0.6 0.4"/>
<line x1="307.1" y1="497.08" x2="409" y2="497.08" stroke="#f2f2f2" stroke-width="0.45" stroke-dasharray="0.6 0.4"/>
<rect x="307.1" y="510.88" width="10.19" height="17.7" fill="#c0c0c0"/>
<rect x="317.29" y="516.98" width="10.19" height="11.6" fill="#c0c0c0"/>
<rect x="327.48" y="517.78" width="10.19" height="10.8" fill="#c0c0c0"/>
<rect x="337.67" y="516.18" width="10.19" height="12.4" fill="#c0c0c0"/>
<rect x="347.86" y="519.38" width="10.19" height="9.2" fill="#c0c0c0"/>
<rect x="358.05" y="515.88" width="10.19" height="12.7" fill="#c0c0c0"/>
<rect x="368.24" y="517.18" width="10.19" height="11.4" fill="#c0c0c0"/>
<rect x="378.43" y="516.88" width="10.19" height="11.7" fill="#c0c0c0"/>
<rect x="388.62" y="516.48" width="10.19" height="12.1" fill="#c0c0c0"/>
<rect x="398.81" y="516.18" width="10.19" height="12.4" fill="#c0c0c0"/>
<path d="M307.1,528.58V510.88H317.29V528.58" fill="none" stroke="#666" stroke-width="0.45"/>
<path d="M317.29,528.58V516.98H327.48V528.58" fill="none" stroke="#666" stroke-width="0.45"/>
<path d="M327.48,528.58V517.78H337.67V528.58" fill="none" stroke="#666" stroke-width="0.45"/>
<path d="M337.67,528.58V516.18H347.86V528.58" fill="none" stroke="#666" stroke-width="0.45"/>
<path d="M347.86,528.58V519.38H358.05V528.58" fill="none" stroke="#666" stroke-width="0.45"/>
<path d="M358.05,528.58V515.88H368.24V528.58" fill="none" stroke="#666" stroke-width="0.45"/>
<path d="M368.24,528.58V517.18H378.43V528.58" fill="none" stroke="#666" stroke-width="0.45"/>
<path d="M378.43,528.58V516.88H388.62V528.58" fill="none" stroke="#666" stroke-width="0.45"/>
<path d="M388.62,528.58V516.48H398.81V528.58" fill="none" stroke="#666" stroke-width="0.45"/>
<path d="M398.81,528.58V516.18H409V528.58" fill="none" stroke="#666" stroke-width="0.45"/>
<line x1="307.1" y1="529.08" x2="409" y2="529.08" stroke="#ddd" stroke-width="0.6"/>
<line x1="305.1" y1="515.98" x2="409" y2="515.98" stroke="#c4c4c4" stroke-width="0.9"/>
<polyline points="307.1,480.48 308.8,491.46 310.5,498.36 312.2,503.75 313.89,507.26 315.59,510.27 317.29,511.19 318.99,512.46 320.69,513.7 322.39,514.45 324.08,514.38 325.78,514.26 327.48,514.12 329.18,514.02 330.88,513.93 332.58,513.77 334.27,513.55 335.97,513.34 337.67,513.2 339.37,512.79 341.07,512.06 342.77,511.46 344.46,511.97 346.16,513.18 347.86,514.25 349.56,514.81 351.26,515.63 352.96,516.39 354.65,516.3 356.35,515.54 358.05,514.59 359.75,513.73 361.45,513.18 363.15,513.05 364.84,512.84 366.54,512.63 368.24,512.45 369.94,512.49 371.64,512.93 373.34,513.5 375.03,514.05 376.73,514.44 378.43,513.91 380.13,512.88 381.83,512.02 383.53,511.74 385.22,511.44 386.92,511.08 388.62,510.76 390.32,510.56 392.02,510.27 393.72,509.84 395.41,509.45 397.11,509.3 398.81,509.61 400.51,510 402.21,510.3 403.91,510.42 405.6,510.61 407.3,510.71 409,510.38" fill="none" stroke="#888" stroke-width="0.4" stroke-dasharray="1.2 0.6"/>
<polyline points="307.1,494.48 308.8,502.05 310.5,507 312.2,511.27 313.89,514.13 315.59,516.77 317.29,517.48 318.99,518.62 320.69,519.79 322.39,520.5 324.08,520.41 325.78,520.27 327.48,520.13 329.18,520.02 330.88,519.93 332.58,519.77 334.27,519.55 335.97,519.34 337.67,519.2 339.37,518.79 341.07,518.06 342.77,517.46 344.46,517.97 346.16,519.18 347.86,520.25 349.56,520.81 351.26,521.63 352.96,522.39 354.65,522.3 356.35,521.54 358.05,520.59 359.75,519.73 361.45,519.18 363.15,519.05 364.84,518.84 366.54,518.63 368.24,518.45 369.94,518.49 371.64,518.93 373.34,519.5 375.03,520.05 376.73,520.44 378.43,519.91 380.13,518.88 381.83,518.02 383.53,517.74 385.22,517.44 386.92,517.08 388.62,516.77 390.32,516.57 392.02,516.28 393.72,515.86 395.41,515.48 397.11,515.36 398.81,515.71 400.51,516.19 402.21,516.62 403.91,516.98 405.6,517.6 407.3,518.43 409,519.38" fill="none" stroke="#888" stroke-width="0.4" stroke-dasharray="1.2 0.6"/>
<polyline points="307.1,487.48 308.8,496.75 310.5,502.68 312.2,507.51 313.89,510.7 315.59,513.52 317.29,514.34 318.99,515.54 320.69,516.74 322.39,517.48 324.08,517.39 325.78,517.26 327.48,517.13 329.18,517.02 330.88,516.93 332.58,516.77 334.27,516.55 335.97,516.34 337.67,516.2 339.37,515.79 341.07,515.06 342.77,514.46 344.46,514.97 346.16,516.18 347.86,517.25 349.56,517.81 351.26,518.63 352.96,519.39 354.65,519.3 356.35,518.54 358.05,517.59 359.75,516.73 361.45,516.18 363.15,516.05 364.84,515.84 366.54,515.63 368.24,515.45 369.94,515.49 371.64,515.93 373.34,516.5 375.03,517.05 376.73,517.44 378.43,516.91 380.13,515.88 381.83,515.02 383.53,514.74 385.22,514.44 386.92,514.08 388.62,513.77 390.32,513.56 392.02,513.27 393.72,512.85 395.41,512.46 397.11,512.33 398.81,512.66 400.51,513.09 402.21,513.46 403.91,513.7 405.6,514.11 407.3,514.57 409,514.88" fill="none" stroke="#3a3a3a" stroke-width="0.6" stroke-linejoin="round"/>
<path d="M312.2,506.08V515.68M311.5,506.08H312.9M311.5,515.68H312.9" fill="none" stroke="#555" stroke-width="0.4"/>
<path d="M322.39,512.18V521.78M321.69,512.18H323.09M321.69,521.78H323.09" fill="none" stroke="#555" stroke-width="0.4"/>
<path d="M332.58,512.98V522.58M331.88,512.98H333.28M331.88,522.58H333.28" fill="none" stroke="#555" stroke-width="0.4"/>
<path d="M342.77,511.38V520.98M342.07,511.38H343.47M342.07,520.98H343.47" fill="none" stroke="#555" stroke-width="0.4"/>
<path d="M352.96,514.58V524.18M352.26,514.58H353.66M352.26,524.18H353.66" fill="none" stroke="#555" stroke-width="0.4"/>
<path d="M363.15,511.08V520.68M362.45,511.08H363.85M362.45,520.68H363.85" fill="none" stroke="#555" stroke-width="0.4"/>
<path d="M373.34,512.38V521.98M372.64,512.38H374.04M372.64,521.98H374.04" fill="none" stroke="#555" stroke-width="0.4"/>
<path d="M383.53,512.08V521.68M382.83,512.08H384.23M382.83,521.68H384.23" fill="none" stroke="#555" stroke-width="0.4"/>
<path d="M393.72,511.68V521.28M393.02,511.68H394.42M393.02,521.28H394.42" fill="none" stroke="#555" stroke-width="0.4"/>
<path d="M403.91,511.38V520.98M403.21,511.38H404.61M403.21,520.98H404.61" fill="none" stroke="#555" stroke-width="0.4"/>
<text transform="translate(304.1,529.08) rotate(-90)" font-size="2.8" font-weight="bold" text-anchor="middle" fill="#333">0.0</text>
<text transform="translate(304.1,522.78) rotate(-90)" font-size="2.8" font-weight="bold" text-anchor="middle" fill="#333">0.5</text>
<text transform="translate(304.1,516.48) rotate(-90)" font-size="2.8" font-weight="bold" text-anchor="middle" fill="#333">1.0</text>
<text transform="translate(304.1,510.18) rotate(-90)" font-size="2.8" font-weight="bold" text-anchor="middle" fill="#333">1.5</text>
<text transform="translate(304.1,503.88) rotate(-90)" font-size="2.8" font-weight="bold" text-anchor="middle" fill="#333">2.0</text>
<text transform="translate(304.1,497.58) rotate(-90)" font-size="2.8" font-weight="bold" text-anchor="middle" fill="#333">2.5</text>
<text transform="translate(300.2,507.08) rotate(-90)" font-size="3.2" font-weight="bold" text-anchor="middle" fill="#333" textLength="37.5" lengthAdjust="spacingAndGlyphs">Relative unemployment</text>
<text x="307.1" y="532.98" font-size="2.5" text-anchor="middle" fill="#444">0.0</text>
<text x="317.29" y="532.98" font-size="2.5" text-anchor="middle" fill="#444">0.1</text>
<text x="327.48" y="532.98" font-size="2.5" text-anchor="middle" fill="#444">0.2</text>
<text x="337.67" y="532.98" font-size="2.5" text-anchor="middle" fill="#444">0.3</text>
<text x="347.86" y="532.98" font-size="2.5" text-anchor="middle" fill="#444">0.4</text>
<text x="358.05" y="532.98" font-size="2.5" text-anchor="middle" fill="#444">0.5</text>
<text x="368.24" y="532.98" font-size="2.5" text-anchor="middle" fill="#444">0.6</text>
<text x="378.43" y="532.98" font-size="2.5" text-anchor="middle" fill="#444">0.7</text>
<text x="388.62" y="532.98" font-size="2.5" text-anchor="middle" fill="#444">0.8</text>
<text x="398.81" y="532.98" font-size="2.5" text-anchor="middle" fill="#444">0.9</text>
<text x="409" y="532.98" font-size="2.5" text-anchor="middle" fill="#444">1.0</text>
<text x="327.9" y="536.13" font-size="2.5" font-weight="bold" fill="#333" textLength="60" lengthAdjust="spacingAndGlyphs">Quantile/decile in the reference distribution</text>
<rect x="321.6" y="540.08" width="4.3" height="1.3" fill="#888" stroke="#555" stroke-width="0.3"/>
<text x="327.5" y="541.38" font-size="2.2" font-weight="bold" fill="#333" textLength="37.5" lengthAdjust="spacingAndGlyphs">Grade-specific rtest in present vs.</text>
<line x1="321.6" y1="543.48" x2="325.9" y2="543.48" stroke="#555" stroke-width="0.4"/>
<text x="327.5" y="544.08" font-size="2.2" font-weight="bold" fill="#333" textLength="16" lengthAdjust="spacingAndGlyphs">Relative to city</text>
<line x1="366" y1="540.78" x2="369.5" y2="540.78" stroke="#555" stroke-width="0.4" stroke-dasharray="0.8 0.5"/>
<text x="370.5" y="541.38" font-size="2.2" font-weight="bold" fill="#333" textLength="26" lengthAdjust="spacingAndGlyphs">95% CI (lower bound)</text>
<line x1="366" y1="543.48" x2="369.5" y2="543.48" stroke="#555" stroke-width="0.4" stroke-dasharray="0.3 0.4"/>
<text x="370.5" y="544.08" font-size="2.2" font-weight="bold" fill="#333" textLength="26.5" lengthAdjust="spacingAndGlyphs">95% CI (upper bound)</text>
</svg></body></html>
